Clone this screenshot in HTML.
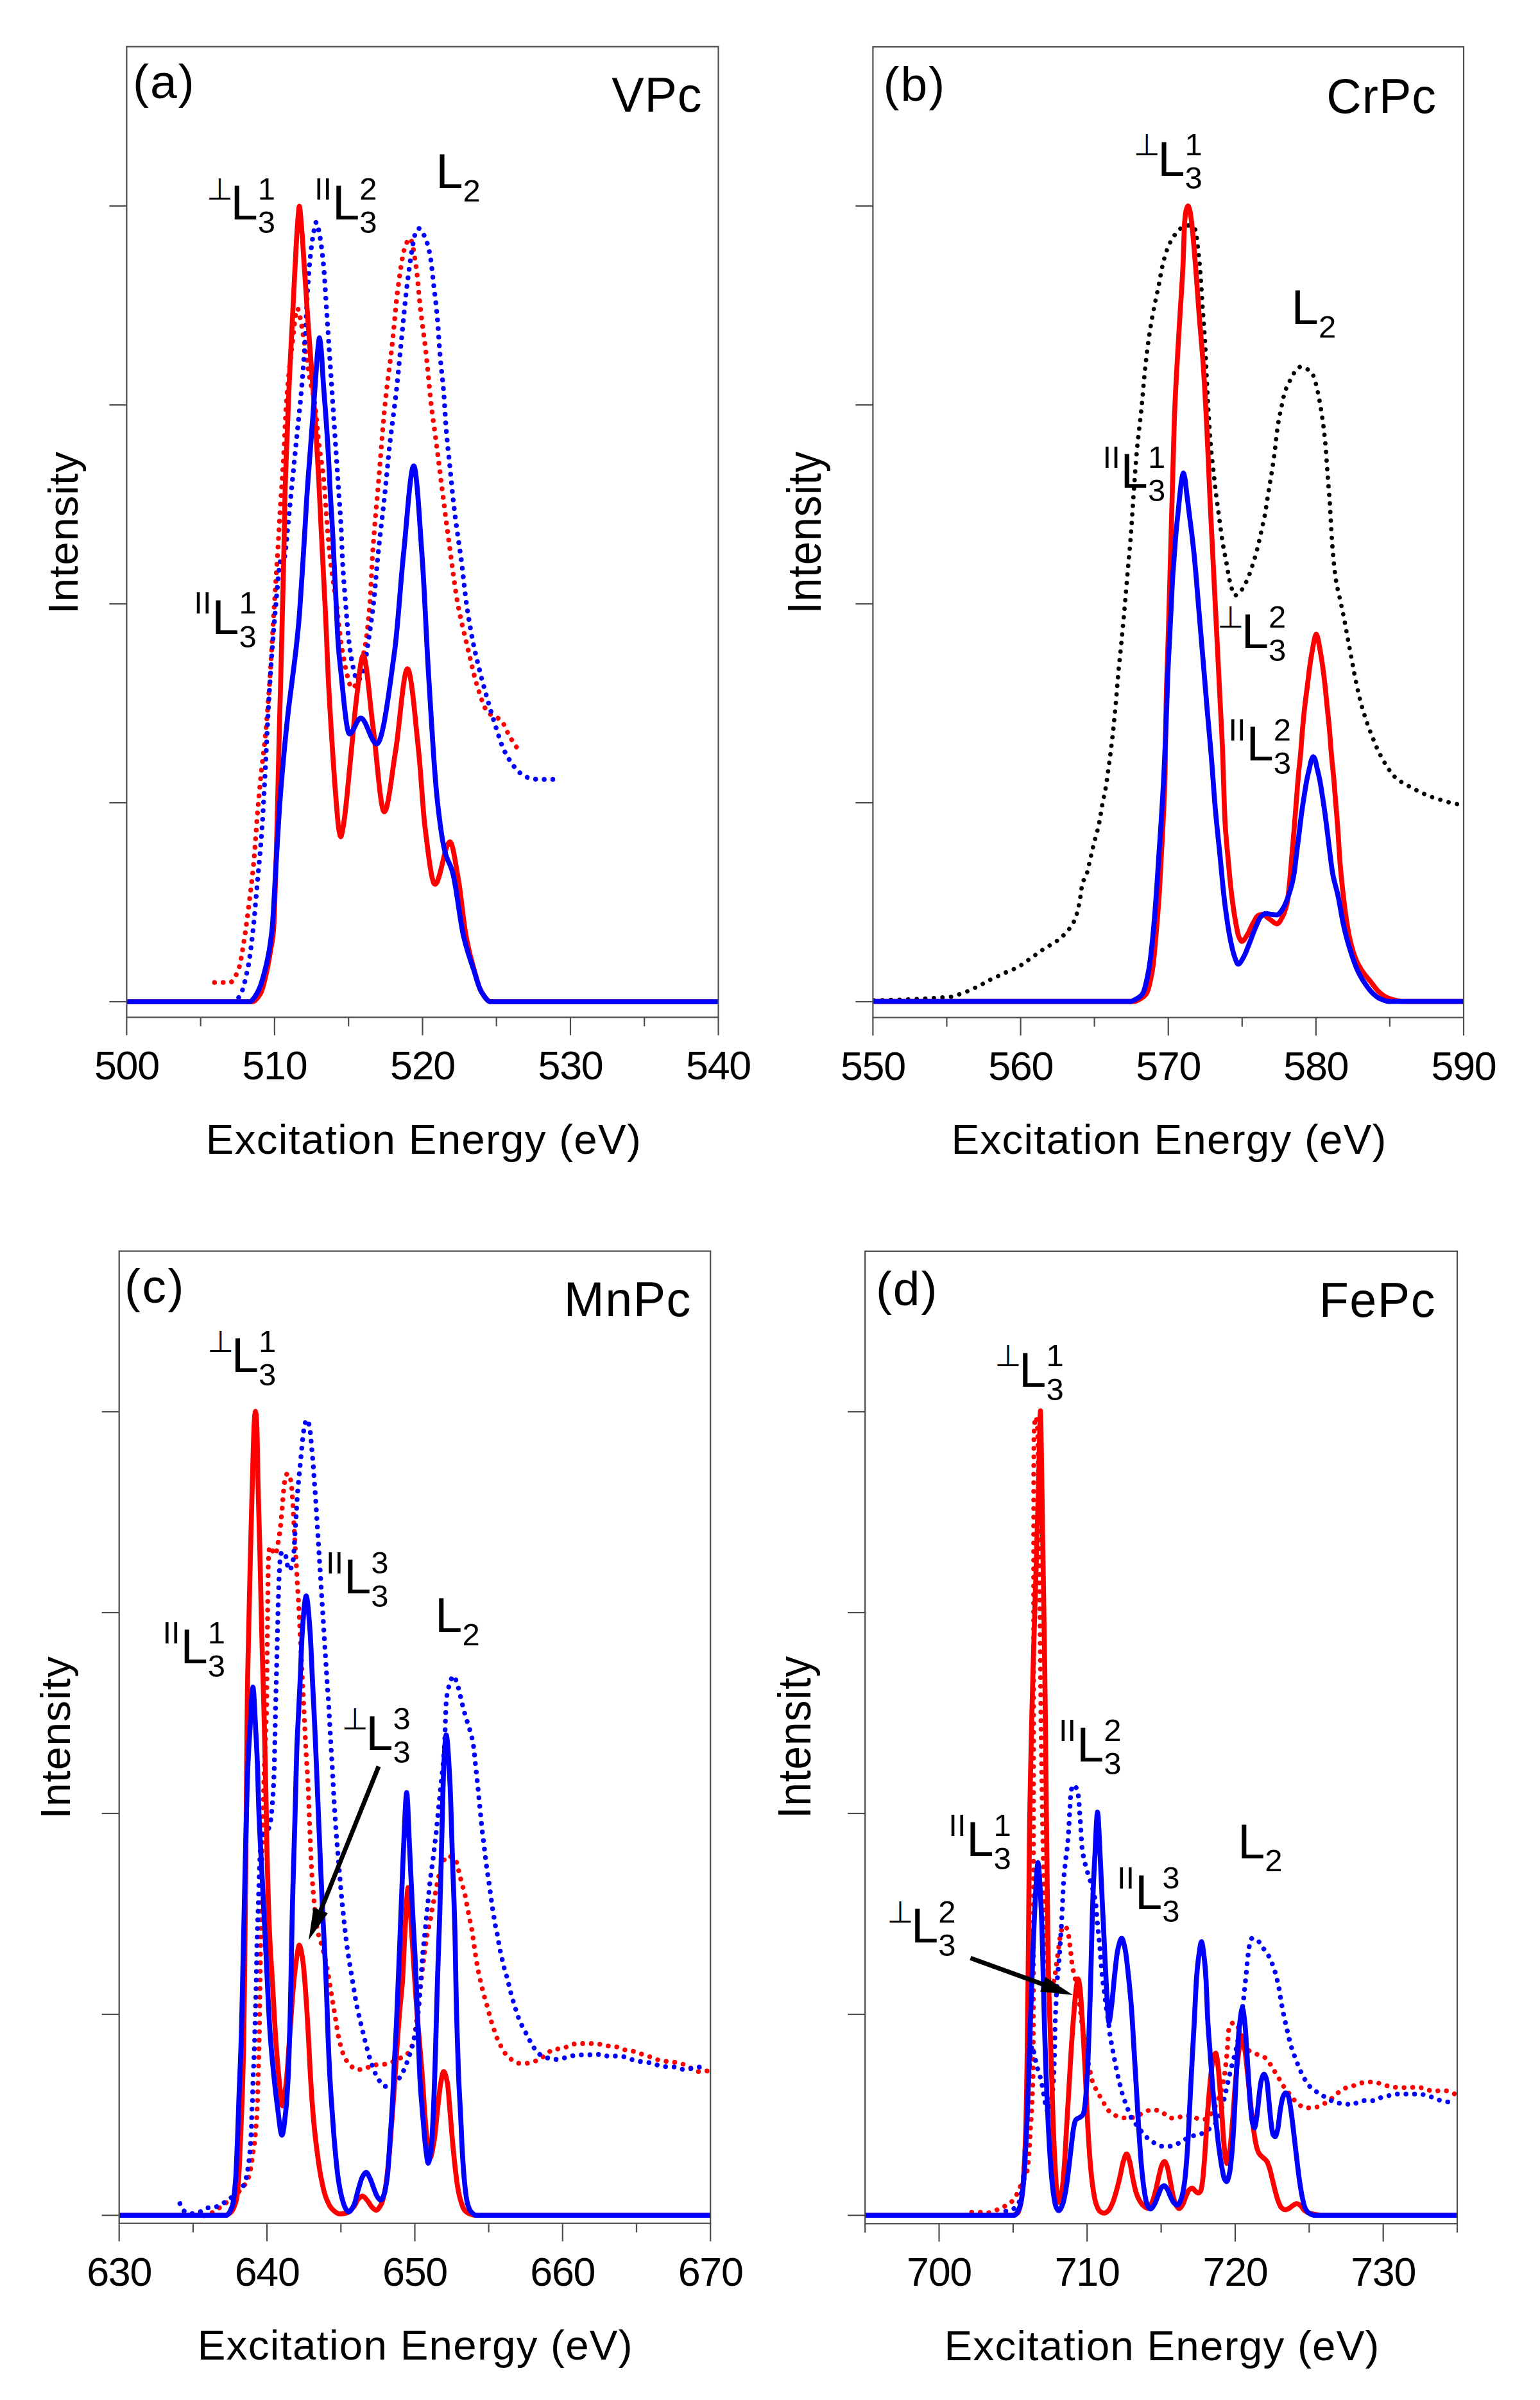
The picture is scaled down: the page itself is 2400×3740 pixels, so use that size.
<!DOCTYPE html>
<html><head><meta charset="utf-8"><title>XAS spectra</title>
<style>html,body{margin:0;padding:0;background:#fff}svg{display:block}text{fill:#000}</style>
</head><body>
<svg width="2400" height="3740" viewBox="0 0 2400 3740">
<rect width="2400" height="3740" fill="#fff"/>
<g id="panel-a">
<clipPath id="clip-a"><rect x="197.4" y="72.7" width="922.1" height="1512.6"/></clipPath>
<g clip-path="url(#clip-a)">
<path d="M334.3 1531.0 L335.3 1531.0 L336.3 1531.0 L337.3 1531.0 L338.3 1531.0 L339.3 1531.0 L340.3 1531.0 L341.3 1531.0 L342.3 1531.0 L343.3 1531.0 L344.3 1531.0 L345.3 1531.0 L346.3 1531.0 L347.3 1531.0 L348.3 1531.0 L349.3 1531.0 L350.3 1531.0 L351.3 1531.0 L352.3 1531.0 L353.3 1531.0 L354.3 1531.0 L355.3 1531.0 L356.3 1531.0 L357.3 1531.0 L358.3 1531.0 L358.4 1531.0 L359.3 1530.9 L360.3 1530.4 L361.3 1529.7 L362.3 1528.8 L363.3 1527.5 L364.3 1526.1 L365.3 1524.5 L366.3 1522.6 L367.3 1520.7 L368.3 1518.5 L369.3 1516.3 L370.3 1513.9 L371.3 1511.5 L372.0 1509.7 L372.3 1508.9 L373.3 1505.5 L374.3 1501.3 L375.3 1496.3 L376.3 1490.8 L377.3 1484.8 L378.3 1478.7 L379.3 1472.5 L379.9 1468.8 L380.3 1466.3 L381.3 1459.8 L382.3 1453.0 L383.3 1445.7 L384.3 1438.2 L385.3 1430.5 L386.3 1422.6 L387.3 1414.7 L387.6 1412.3 L388.3 1406.7 L389.3 1398.7 L390.3 1390.7 L391.3 1382.4 L392.3 1373.8 L393.3 1364.8 L394.3 1355.3 L395.3 1345.1 L395.4 1344.1 L396.3 1333.9 L397.3 1321.3 L398.3 1307.8 L399.3 1293.8 L400.3 1280.1 L401.3 1266.9 L402.0 1258.4 L402.3 1254.9 L403.3 1243.5 L404.3 1232.5 L405.3 1221.9 L406.3 1211.8 L407.1 1203.9 L407.3 1202.0 L408.3 1193.0 L409.3 1184.6 L410.3 1176.4 L411.3 1168.0 L412.3 1159.1 L413.0 1152.2 L413.3 1149.1 L414.3 1138.4 L415.3 1127.0 L416.3 1115.1 L417.3 1102.5 L418.3 1089.5 L419.3 1076.0 L420.3 1062.0 L420.8 1054.8 L421.3 1047.4 L422.3 1031.4 L423.3 1014.4 L424.3 996.9 L425.3 979.4 L426.3 962.3 L426.6 957.4 L427.3 946.1 L428.3 930.4 L429.3 914.8 L430.3 899.3 L431.3 883.6 L432.3 867.6 L432.5 864.3 L433.3 851.0 L434.3 833.8 L435.3 816.6 L436.3 799.5 L437.1 786.4 L437.3 783.2 L438.3 768.0 L439.3 753.4 L440.3 738.8 L441.3 723.4 L442.2 708.5 L442.3 706.7 L443.3 686.7 L444.3 664.6 L445.3 643.9 L446.1 630.6 L446.3 627.8 L447.3 614.6 L448.3 602.5 L449.3 591.5 L450.3 581.2 L451.3 571.7 L452.3 562.7 L453.3 554.1 L454.3 545.8 L455.0 540.0 L455.3 537.5 L456.3 528.6 L457.3 519.4 L458.3 510.2 L459.3 501.5 L460.3 493.7 L461.3 487.4 L462.3 482.9 L463.3 480.7 L463.6 480.6 L464.3 481.3 L465.3 484.4 L466.3 488.7 L467.3 493.4 L467.5 494.3 L468.3 497.9 L469.3 503.0 L470.3 508.5 L471.3 514.5 L472.3 520.7 L473.3 527.2 L474.3 533.8 L475.3 540.4 L476.3 546.9 L477.2 552.7 L477.3 553.3 L478.3 559.9 L479.3 566.7 L480.3 573.6 L481.3 580.4 L482.3 586.8 L483.1 591.6 L483.3 592.7 L484.3 597.9 L485.3 602.6 L486.3 607.0 L487.3 611.4 L488.3 615.9 L489.3 621.0 L490.3 626.7 L490.9 630.6 L491.3 633.5 L492.3 642.4 L493.3 652.9 L494.3 664.1 L495.3 675.2 L496.3 685.4 L496.7 689.0 L497.3 694.0 L498.3 701.6 L499.3 708.6 L500.3 715.3 L501.3 722.0 L502.3 729.0 L503.3 736.8 L504.3 745.6 L504.5 747.5 L505.3 756.1 L506.3 768.7 L507.3 782.7 L508.3 797.1 L509.3 811.3 L510.3 824.2 L510.4 825.4 L511.3 836.1 L512.3 847.6 L513.3 858.4 L514.3 868.0 L515.3 876.6 L516.3 884.5 L517.3 891.9 L518.3 898.8 L519.3 905.6 L520.3 912.2 L521.3 918.8 L522.3 925.6 L523.3 932.7 L524.0 937.9 L524.3 940.2 L525.3 948.4 L526.3 957.0 L527.3 965.9 L528.3 974.9 L529.3 983.8 L530.3 992.3 L531.3 1000.3 L532.3 1007.4 L533.3 1013.6 L533.7 1015.8 L534.3 1018.9 L535.3 1024.1 L536.3 1029.3 L537.3 1034.4 L538.3 1039.4 L539.3 1044.3 L540.3 1048.9 L541.3 1053.2 L542.3 1057.3 L543.3 1061.0 L544.3 1064.2 L545.3 1067.0 L546.3 1069.2 L547.3 1070.9 L548.3 1071.9 L549.3 1072.3 L550.3 1072.1 L551.3 1071.4 L552.3 1070.2 L553.3 1068.7 L554.3 1066.7 L555.3 1064.4 L556.3 1061.7 L557.3 1058.7 L558.3 1055.4 L559.3 1051.8 L560.3 1048.0 L561.3 1043.9 L562.3 1039.6 L563.3 1035.1 L564.3 1030.4 L565.3 1025.6 L566.3 1020.7 L567.3 1015.7 L568.3 1010.6 L568.8 1008.0 L569.3 1005.3 L570.3 999.1 L571.3 991.9 L572.3 983.7 L573.3 974.6 L574.3 964.5 L575.3 953.5 L576.3 941.6 L576.6 937.9 L577.3 927.4 L578.3 908.4 L579.3 887.7 L580.3 869.1 L580.5 866.0 L581.3 854.3 L582.3 840.5 L583.3 827.6 L584.3 815.3 L585.3 803.6 L586.3 792.2 L587.3 780.9 L588.3 769.7 L589.3 758.2 L590.2 747.5 L590.3 746.3 L591.3 734.0 L592.3 721.5 L593.3 709.0 L594.3 696.4 L595.3 683.9 L596.3 671.7 L597.3 659.9 L598.3 648.5 L599.3 637.7 L600.0 630.6 L600.3 627.7 L601.3 618.2 L602.3 609.3 L603.3 600.9 L604.3 592.7 L605.3 584.8 L606.3 576.9 L607.3 569.1 L608.3 561.2 L609.3 553.1 L610.3 544.7 L611.3 535.9 L611.6 533.2 L612.3 526.5 L613.3 516.4 L614.3 505.7 L615.3 494.9 L616.3 484.2 L617.3 474.0 L618.3 464.5 L619.3 456.1 L619.4 455.3 L620.3 448.4 L621.3 440.9 L622.3 433.4 L623.3 426.2 L624.3 419.2 L625.3 412.6 L626.3 406.4 L627.3 400.8 L628.3 395.7 L629.3 391.3 L630.3 387.6 L631.1 385.2 L631.3 384.7 L632.3 382.1 L633.3 379.6 L634.3 377.3 L635.3 375.2 L636.3 373.5 L637.3 372.3 L638.3 371.6 L638.9 371.5 L639.3 371.6 L640.3 372.9 L641.3 375.5 L642.3 379.1 L643.3 383.7 L644.3 389.0 L645.3 394.9 L646.3 401.2 L647.3 407.8 L648.3 414.3 L648.6 416.3 L649.3 421.5 L650.3 430.5 L651.3 441.0 L652.3 452.1 L653.3 463.0 L654.3 473.0 L654.5 474.8 L655.3 481.8 L656.3 490.1 L657.3 498.1 L658.3 505.8 L659.3 513.4 L660.3 521.0 L661.3 528.7 L662.3 536.6 L663.3 544.9 L664.2 552.7 L664.3 553.6 L665.3 563.0 L666.3 573.1 L667.3 583.5 L668.3 594.1 L669.3 604.6 L670.3 614.8 L671.3 624.4 L672.0 630.6 L672.3 633.1 L673.3 641.3 L674.3 648.9 L675.3 656.3 L676.3 663.5 L677.3 670.6 L678.3 677.8 L679.3 685.2 L679.8 689.0 L680.3 692.9 L681.3 700.7 L682.3 708.6 L683.3 716.6 L684.3 724.6 L685.3 732.6 L686.3 740.7 L687.3 748.7 L688.3 756.7 L689.3 764.6 L689.6 766.9 L690.3 772.4 L691.3 780.2 L692.3 788.0 L693.3 795.8 L694.3 803.6 L695.3 811.4 L696.3 819.1 L697.3 826.8 L698.3 834.4 L699.3 841.9 L700.3 849.4 L701.2 856.0 L701.3 856.7 L702.3 864.1 L703.3 871.6 L704.3 879.1 L705.3 886.6 L706.3 894.1 L707.3 901.4 L708.3 908.5 L709.3 915.5 L710.3 922.2 L711.3 928.5 L712.3 934.5 L712.9 937.9 L713.3 940.1 L714.3 945.4 L715.3 950.5 L716.3 955.5 L717.3 960.3 L718.3 964.9 L719.3 969.4 L720.3 973.8 L721.3 978.1 L722.3 982.3 L723.3 986.4 L724.3 990.6 L725.3 994.7 L726.3 998.8 L727.3 1003.0 L728.3 1007.2 L728.5 1008.0 L729.3 1011.4 L730.3 1015.7 L731.3 1020.0 L732.3 1024.3 L733.3 1028.6 L734.3 1032.9 L735.3 1037.2 L736.3 1041.4 L737.3 1045.5 L738.3 1049.6 L739.3 1053.5 L740.3 1057.3 L741.3 1060.9 L742.3 1064.4 L743.3 1067.8 L744.1 1070.3 L744.3 1070.9 L745.3 1074.0 L746.3 1077.1 L747.3 1080.2 L748.3 1083.3 L749.3 1086.3 L750.3 1089.2 L751.3 1092.1 L752.3 1094.8 L753.3 1097.4 L754.3 1099.8 L755.3 1102.1 L756.3 1104.1 L757.3 1106.0 L758.3 1107.5 L759.3 1108.9 L759.7 1109.3 L760.3 1109.9 L761.3 1110.8 L762.3 1111.7 L763.3 1112.5 L764.3 1113.1 L765.3 1113.8 L766.3 1114.3 L767.3 1114.9 L768.3 1115.4 L769.3 1115.8 L770.3 1116.3 L771.3 1116.7 L772.3 1117.2 L773.3 1117.7 L774.3 1118.2 L775.3 1118.7 L776.3 1119.3 L777.3 1119.9 L778.3 1120.6 L779.3 1121.4 L780.3 1122.2 L781.1 1123.0 L781.3 1123.2 L782.3 1124.4 L783.3 1125.8 L784.3 1127.4 L785.3 1129.2 L786.3 1131.2 L787.3 1133.2 L788.3 1135.4 L789.3 1137.5 L790.3 1139.7 L791.3 1141.8 L792.3 1143.9 L793.3 1145.8 L794.3 1147.6 L794.7 1148.3 L795.3 1149.3 L796.3 1150.9 L797.3 1152.6 L798.3 1154.2 L799.3 1155.7 L800.3 1157.3 L801.3 1158.8 L802.3 1160.4 L803.3 1161.9 L804.3 1163.3 L805.3 1164.8 L806.3 1166.2 L807.3 1167.6 L808.3 1168.9 L809.3 1170.3 L810.3 1171.6" fill="none" stroke="#ff0000" stroke-width="7.5" stroke-linecap="round" stroke-dasharray="0.01 13.4" stroke-linejoin="round"/>
<path d="M372.0 1554.5 L373.0 1553.6 L374.0 1552.2 L375.0 1550.3 L376.0 1548.0 L377.0 1545.4 L378.0 1542.4 L379.0 1539.1 L380.0 1535.5 L381.0 1531.7 L382.0 1527.7 L383.0 1523.5 L384.0 1519.1 L385.0 1514.7 L385.7 1511.6 L386.0 1510.2 L387.0 1505.0 L388.0 1499.1 L389.0 1492.5 L390.0 1485.2 L391.0 1477.6 L392.0 1469.5 L393.0 1461.2 L393.5 1457.0 L394.0 1452.6 L395.0 1443.2 L396.0 1433.0 L397.0 1422.2 L398.0 1411.0 L399.0 1399.6 L400.0 1388.1 L401.0 1376.7 L401.3 1373.3 L402.0 1365.6 L403.0 1354.7 L404.0 1343.9 L405.0 1332.9 L406.0 1321.3 L407.0 1309.0 L408.0 1295.7 L408.3 1291.5 L409.0 1280.9 L410.0 1264.1 L411.0 1245.8 L412.0 1226.9 L413.0 1208.0 L414.0 1188.6 L415.0 1168.1 L416.0 1147.3 L417.0 1126.9 L418.0 1107.7 L418.8 1093.7 L419.0 1090.4 L420.0 1074.2 L421.0 1058.4 L422.0 1043.2 L423.0 1028.5 L424.0 1014.3 L425.0 1000.8 L426.0 987.9 L427.0 975.6 L428.0 964.0 L428.6 957.4 L429.0 953.0 L430.0 941.5 L431.0 929.6 L432.0 917.7 L433.0 906.3 L434.0 895.8 L435.0 886.7 L436.0 879.4 L437.0 874.3 L438.0 871.8 L438.3 871.7 L439.0 871.7 L440.0 871.8 L441.0 871.9 L442.0 872.0 L442.2 872.0 L443.0 870.7 L444.0 866.0 L445.0 858.5 L446.0 849.0 L447.0 838.2 L448.0 826.9 L449.0 815.9 L450.0 805.9 L451.0 796.4 L452.0 786.5 L453.0 776.2 L454.0 765.9 L455.0 755.6 L455.8 747.5 L456.0 745.5 L457.0 735.5 L458.0 725.5 L459.0 715.5 L460.0 705.5 L461.0 695.5 L462.0 685.5 L463.0 675.6 L463.6 669.6 L464.0 665.7 L465.0 656.1 L466.0 646.6 L467.0 637.1 L468.0 627.2 L469.0 616.7 L469.5 611.1 L470.0 605.3 L471.0 593.4 L472.0 580.9 L473.0 567.6 L474.0 553.3 L475.0 538.0 L475.3 533.2 L476.0 520.5 L477.0 499.3 L478.0 477.6 L479.0 458.5 L479.2 455.3 L480.0 443.3 L481.0 429.4 L482.0 416.8 L483.0 405.6 L483.9 396.9 L484.0 396.0 L485.0 387.5 L486.0 379.7 L487.0 372.8 L488.0 366.7 L488.9 361.8 L489.0 361.3 L490.0 355.9 L491.0 350.8 L492.0 347.2 L492.8 346.2 L493.0 346.2 L494.0 347.7 L495.0 350.8 L496.0 355.2 L497.0 360.3 L498.0 365.8 L498.7 369.6 L499.0 371.2 L500.0 377.3 L501.0 384.4 L502.0 392.4 L503.0 401.3 L504.0 411.1 L504.5 416.3 L505.0 422.2 L506.0 436.4 L507.0 452.4 L508.0 468.6 L508.4 474.8 L509.0 483.8 L510.0 498.8 L511.0 513.7 L512.0 528.7 L512.3 533.2 L513.0 543.7 L514.0 558.7 L515.0 573.6 L516.0 588.6 L516.2 591.6 L517.0 603.6 L518.0 618.6 L519.0 633.6 L520.0 648.6 L520.1 650.1 L521.0 663.6 L522.0 678.6 L523.0 693.5 L524.0 708.5 L525.0 723.5 L526.0 738.5 L527.0 753.5 L527.9 767.0 L528.0 768.5 L529.0 782.6 L530.0 796.3 L531.0 811.3 L531.8 825.4 L532.0 829.6 L533.0 855.6 L533.7 872.0 L534.0 877.4 L535.0 893.7 L536.0 907.8 L537.0 920.6 L538.0 932.9 L538.4 937.9 L539.0 945.5 L540.0 958.1 L541.0 970.3 L542.0 981.7 L543.0 991.8 L543.5 996.3 L544.0 1000.5 L545.0 1008.5 L546.0 1016.0 L547.0 1022.7 L548.0 1028.7 L549.0 1033.9 L549.3 1035.3 L550.0 1038.5 L551.0 1043.0 L552.0 1047.4 L553.0 1051.5 L554.0 1055.1 L555.0 1057.9 L556.0 1059.8 L557.0 1060.6 L557.1 1060.6 L558.0 1060.4 L559.0 1059.7 L560.0 1058.6 L561.0 1057.1 L562.0 1055.2 L563.0 1053.1 L564.0 1050.7 L565.0 1048.1 L566.0 1045.3 L566.8 1043.0 L567.0 1042.4 L568.0 1038.3 L569.0 1032.8 L570.0 1026.5 L571.0 1019.6 L572.0 1012.7 L572.7 1008.0 L573.0 1006.1 L574.0 999.6 L575.0 993.1 L576.0 986.4 L577.0 979.6 L578.0 972.6 L579.0 965.3 L580.0 957.7 L581.0 949.8 L582.0 941.4 L582.4 937.9 L583.0 932.4 L584.0 922.1 L585.0 911.0 L586.0 899.4 L587.0 887.7 L588.0 876.5 L589.0 866.0 L590.0 856.3 L591.0 846.9 L592.0 837.8 L593.0 828.9 L594.0 820.2 L595.0 811.6 L596.0 802.9 L597.0 794.2 L598.0 785.4 L599.0 776.3 L600.0 767.0 L601.0 757.3 L602.0 747.1 L603.0 736.8 L604.0 726.4 L605.0 716.1 L606.0 706.0 L607.0 696.4 L607.8 689.0 L608.0 687.2 L609.0 678.6 L610.0 670.5 L611.0 662.6 L612.0 655.0 L613.0 647.4 L614.0 639.8 L615.0 632.0 L616.0 623.9 L617.0 615.5 L617.5 611.1 L618.0 606.6 L619.0 597.1 L620.0 587.3 L621.0 577.3 L622.0 567.0 L623.0 556.7 L624.0 546.4 L625.0 536.2 L625.3 533.2 L626.0 526.1 L627.0 515.8 L628.0 505.4 L629.0 494.9 L630.0 484.7 L631.0 474.7 L632.0 465.1 L633.0 456.2 L633.1 455.3 L634.0 447.7 L635.0 439.5 L636.0 431.5 L637.0 423.8 L638.0 416.4 L639.0 409.4 L640.0 402.6 L640.9 396.9 L641.0 396.3 L642.0 389.9 L643.0 383.5 L644.0 377.5 L645.0 372.1 L646.0 367.9 L646.7 365.7 L647.0 364.9 L648.0 362.5 L649.0 360.3 L650.0 358.4 L651.0 357.0 L652.0 356.1 L652.6 356.0 L653.0 356.0 L654.0 356.4 L655.0 357.2 L656.0 358.3 L657.0 359.6 L658.0 361.2 L659.0 363.0 L660.0 364.9 L661.0 367.0 L662.0 369.0 L662.3 369.6 L663.0 371.1 L664.0 373.6 L665.0 376.5 L666.0 379.7 L667.0 383.3 L668.0 387.3 L669.0 391.7 L670.0 396.4 L670.1 396.9 L671.0 402.1 L672.0 409.3 L673.0 417.6 L674.0 426.5 L675.0 435.6 L675.9 443.6 L676.0 444.5 L677.0 453.0 L678.0 461.5 L679.0 470.2 L680.0 479.4 L681.0 489.4 L681.8 498.1 L682.0 500.4 L683.0 513.9 L684.0 528.9 L685.0 543.6 L685.7 552.7 L686.0 556.2 L687.0 566.7 L688.0 576.2 L689.0 585.3 L690.0 594.7 L691.0 605.2 L691.5 611.1 L692.0 617.7 L693.0 633.0 L694.0 649.3 L695.0 664.4 L695.4 669.6 L696.0 676.7 L697.0 687.5 L698.0 697.5 L699.0 707.0 L700.0 716.4 L701.0 726.0 L701.2 728.0 L702.0 736.1 L703.0 746.4 L704.0 756.7 L705.0 766.8 L706.0 776.5 L707.0 785.5 L707.1 786.4 L708.0 793.9 L709.0 801.9 L710.0 809.6 L711.0 817.0 L712.0 824.2 L713.0 831.4 L714.0 838.5 L714.9 844.9 L715.0 845.6 L716.0 852.5 L717.0 859.3 L718.0 866.2 L718.8 872.0 L719.0 873.5 L720.0 881.6 L721.0 890.2 L722.0 899.1 L723.0 908.1 L724.0 917.0 L725.0 925.5 L726.0 933.5 L726.6 937.9 L727.0 940.7 L728.0 947.6 L729.0 954.2 L730.0 960.6 L731.0 966.8 L732.0 972.8 L733.0 978.6 L734.0 984.2 L735.0 989.6 L736.0 994.8 L736.3 996.3 L737.0 999.8 L738.0 1004.7 L739.0 1009.3 L740.0 1013.9 L741.0 1018.3 L742.0 1022.6 L743.0 1026.8 L744.0 1031.0 L745.0 1035.0 L746.0 1039.0 L747.0 1043.0 L748.0 1047.0 L749.0 1050.9 L750.0 1054.8 L751.0 1058.6 L752.0 1062.3 L753.0 1066.0 L754.0 1069.6 L755.0 1073.2 L756.0 1076.8 L757.0 1080.3 L758.0 1083.9 L759.0 1087.4 L759.7 1089.8 L760.0 1090.8 L761.0 1094.3 L762.0 1097.8 L763.0 1101.2 L764.0 1104.6 L765.0 1108.0 L766.0 1111.4 L767.0 1114.7 L768.0 1118.0 L769.0 1121.2 L770.0 1124.4 L771.0 1127.6 L771.4 1128.8 L772.0 1130.7 L773.0 1133.8 L774.0 1136.9 L775.0 1140.1 L776.0 1143.2 L777.0 1146.3 L778.0 1149.3 L779.0 1152.3 L780.0 1155.2 L781.0 1158.0 L782.0 1160.6 L783.0 1163.2 L784.0 1165.6 L785.0 1167.8 L786.0 1169.9 L787.0 1171.9 L788.0 1173.9 L789.0 1175.8 L790.0 1177.6 L791.0 1179.4 L792.0 1181.1 L793.0 1182.7 L794.0 1184.3 L795.0 1185.9 L796.0 1187.4 L797.0 1188.8 L798.0 1190.3 L798.6 1191.1 L799.0 1191.7 L800.0 1193.0 L801.0 1194.4 L802.0 1195.7 L803.0 1197.0 L804.0 1198.2 L805.0 1199.4 L806.0 1200.5 L807.0 1201.5 L808.0 1202.5 L808.4 1202.8 L809.0 1203.3 L810.0 1204.1 L811.0 1204.9 L812.0 1205.7 L813.0 1206.5 L814.0 1207.2 L815.0 1207.9 L816.0 1208.6 L817.0 1209.2 L818.0 1209.7 L819.0 1210.3 L820.0 1210.7 L821.0 1211.1 L822.0 1211.4 L823.0 1211.7 L824.0 1211.9 L825.0 1212.2 L826.0 1212.5 L827.0 1212.7 L828.0 1212.9 L829.0 1213.2 L830.0 1213.4 L831.0 1213.6 L832.0 1213.8 L833.0 1213.9 L834.0 1214.1 L835.0 1214.2 L836.0 1214.3 L837.0 1214.4 L838.0 1214.4 L839.0 1214.5 L840.0 1214.5 L841.0 1214.5 L842.0 1214.5 L843.0 1214.5 L844.0 1214.5 L845.0 1214.5 L846.0 1214.5 L847.0 1214.5 L848.0 1214.5 L849.0 1214.5 L850.0 1214.5 L851.0 1214.5 L852.0 1214.5 L853.0 1214.5 L854.0 1214.5 L855.0 1214.5 L856.0 1214.5 L857.0 1214.5 L858.0 1214.5 L859.0 1214.5 L860.0 1214.5 L861.0 1214.5 L862.0 1214.5 L863.0 1214.5 L864.0 1214.5 L865.0 1214.5 L866.0 1214.5 L867.0 1214.5 L868.0 1214.5 L869.0 1214.5 L870.0 1214.5 L871.0 1214.5 L872.0 1214.5 L873.0 1214.5 L874.0 1214.5 L874.6 1214.5" fill="none" stroke="#0000ff" stroke-width="7.5" stroke-linecap="round" stroke-dasharray="0.01 13.4" stroke-linejoin="round"/>
<path d="M197.4 1561.0 L393.0 1561.0 L394.0 1560.9 L395.0 1560.6 L396.0 1560.1 L397.0 1559.4 L398.0 1558.6 L399.0 1557.6 L400.0 1556.5 L401.0 1555.3 L402.0 1554.0 L403.0 1552.6 L404.0 1551.1 L405.0 1549.6 L406.0 1548.0 L407.0 1546.1 L408.0 1543.6 L409.0 1540.7 L410.0 1537.3 L411.0 1533.6 L412.0 1529.6 L413.0 1525.5 L414.0 1521.3 L415.0 1517.0 L416.0 1512.5 L417.0 1507.6 L418.0 1502.3 L419.0 1496.8 L420.0 1491.0 L421.0 1485.0 L421.5 1482.0 L422.0 1479.1 L423.0 1473.7 L424.0 1468.0 L425.0 1461.2 L426.0 1452.1 L426.2 1450.0 L427.0 1437.2 L428.0 1412.4 L429.0 1381.9 L430.0 1350.0 L431.0 1316.0 L432.0 1277.9 L432.7 1250.0 L433.0 1237.6 L434.0 1193.2 L435.0 1150.0 L436.0 1112.1 L437.0 1076.1 L437.7 1050.0 L438.0 1038.4 L439.0 998.6 L440.0 958.1 L440.2 950.0 L441.0 918.1 L442.0 877.4 L442.4 860.0 L443.0 830.0 L444.0 778.6 L444.3 766.5 L445.0 743.5 L446.0 716.3 L447.0 691.7 L447.5 679.0 L448.0 665.9 L449.0 639.9 L450.0 614.9 L451.0 591.5 L452.0 570.2 L453.0 550.4 L454.0 531.2 L455.0 512.0 L455.4 504.1 L456.0 492.1 L457.0 471.8 L458.0 451.6 L459.0 431.8 L459.8 416.6 L460.0 412.9 L461.0 393.8 L462.0 375.3 L463.0 358.9 L463.5 352.0 L464.0 345.3 L465.0 332.0 L466.0 322.9 L466.5 321.5 L467.0 322.7 L468.0 330.5 L469.0 342.4 L469.8 352.0 L470.0 354.3 L471.0 367.1 L472.0 381.6 L473.0 396.9 L474.0 412.2 L474.3 416.6 L475.0 426.9 L476.0 441.8 L477.0 456.9 L478.0 471.9 L479.0 486.8 L480.0 501.3 L480.2 504.1 L481.0 515.3 L482.0 528.9 L483.0 542.4 L484.0 555.7 L484.5 562.4 L485.0 569.0 L486.0 582.0 L487.0 595.0 L488.0 608.2 L488.9 620.7 L489.0 622.1 L490.0 636.8 L491.0 652.1 L492.0 667.8 L492.7 679.0 L493.0 683.8 L494.0 699.8 L495.0 716.3 L496.0 733.7 L496.2 737.3 L497.0 752.6 L498.0 773.0 L499.0 793.6 L499.1 795.6 L500.0 813.8 L501.0 833.9 L502.0 853.9 L503.0 873.4 L504.0 892.7 L505.0 912.2 L506.0 931.9 L507.0 951.8 L507.9 970.6 L508.0 972.8 L509.0 996.1 L510.0 1020.7 L511.0 1044.2 L511.5 1054.8 L512.0 1064.7 L513.0 1083.5 L514.0 1101.2 L515.0 1118.0 L516.0 1134.2 L517.0 1150.0 L518.0 1165.6 L519.0 1180.9 L520.0 1195.8 L521.0 1210.2 L522.0 1224.0 L523.0 1237.2 L524.0 1249.6 L525.0 1261.9 L526.0 1274.0 L527.0 1284.4 L528.0 1292.0 L529.0 1297.6 L530.0 1302.2 L531.0 1304.0 L532.0 1302.3 L533.0 1298.0 L534.0 1292.7 L534.5 1290.0 L535.0 1287.3 L536.0 1281.0 L537.0 1273.8 L538.0 1265.7 L539.0 1256.9 L540.0 1247.5 L541.0 1237.6 L542.0 1227.4 L543.0 1217.0 L544.0 1206.5 L545.0 1196.0 L546.0 1185.6 L547.0 1175.5 L547.4 1171.6 L548.0 1165.6 L549.0 1155.1 L550.0 1144.3 L551.0 1133.3 L552.0 1122.5 L553.0 1112.1 L554.0 1102.4 L555.0 1093.7 L556.0 1085.3 L557.0 1076.6 L558.0 1067.7 L559.0 1058.9 L560.0 1050.5 L561.0 1042.8 L562.0 1035.8 L563.0 1030.0 L564.0 1025.6 L565.0 1022.7 L566.0 1021.7 L567.0 1022.6 L568.0 1025.2 L569.0 1029.3 L570.0 1034.8 L571.0 1041.4 L572.0 1048.9 L573.0 1057.3 L574.0 1066.2 L575.0 1075.6 L576.0 1085.2 L577.0 1094.9 L578.0 1104.4 L579.0 1113.6 L580.0 1122.4 L581.0 1130.4 L581.3 1132.7 L582.0 1138.1 L583.0 1146.5 L584.0 1155.5 L585.0 1165.0 L586.0 1174.8 L587.0 1184.8 L588.0 1194.9 L589.0 1204.9 L590.0 1214.6 L591.0 1223.8 L592.0 1232.6 L593.0 1240.5 L594.0 1247.7 L595.0 1253.8 L596.0 1258.7 L597.0 1262.3 L598.0 1264.5 L598.8 1265.0 L599.0 1265.0 L600.0 1264.2 L601.0 1262.4 L602.0 1259.6 L603.0 1256.1 L604.0 1251.7 L605.0 1246.7 L606.0 1241.1 L607.0 1235.0 L608.0 1228.5 L609.0 1221.7 L610.0 1214.7 L611.0 1207.6 L612.0 1200.5 L613.0 1193.4 L614.0 1186.5 L615.0 1179.8 L616.0 1173.4 L616.3 1171.6 L617.0 1167.2 L618.0 1160.1 L619.0 1152.4 L620.0 1144.1 L621.0 1135.4 L622.0 1126.3 L623.0 1117.1 L624.0 1107.9 L625.0 1098.7 L626.0 1089.8 L627.0 1081.3 L628.0 1073.2 L629.0 1065.8 L630.0 1059.2 L631.0 1053.5 L632.0 1048.8 L633.0 1045.3 L634.0 1043.1 L635.0 1042.3 L636.0 1043.0 L637.0 1045.1 L638.0 1048.4 L639.0 1052.9 L640.0 1058.4 L641.0 1064.9 L642.0 1072.1 L643.0 1080.1 L644.0 1088.7 L645.0 1097.9 L646.0 1107.4 L647.0 1117.2 L648.0 1127.2 L649.0 1137.3 L650.0 1147.3 L651.0 1157.2 L652.0 1166.9 L652.5 1171.6 L653.0 1176.5 L654.0 1187.5 L655.0 1199.7 L656.0 1212.8 L657.0 1226.3 L658.0 1239.8 L659.0 1253.0 L660.0 1265.3 L661.0 1276.5 L662.0 1286.0 L662.3 1288.5 L663.0 1294.1 L664.0 1302.2 L665.0 1310.3 L666.0 1318.4 L667.0 1326.2 L668.0 1333.9 L669.0 1341.2 L670.0 1348.1 L671.0 1354.5 L672.0 1360.3 L673.0 1365.5 L674.0 1369.8 L675.0 1373.4 L676.0 1376.0 L677.0 1377.5 L677.9 1378.0 L678.0 1378.0 L679.0 1377.6 L680.0 1376.5 L681.0 1374.8 L682.0 1372.6 L683.0 1369.9 L684.0 1366.8 L685.0 1363.3 L686.0 1359.6 L687.0 1355.6 L688.0 1351.5 L689.0 1347.3 L690.0 1343.0 L691.0 1338.8 L692.0 1334.7 L693.0 1330.7 L694.0 1326.9 L695.0 1323.5 L696.0 1320.3 L697.0 1317.6 L698.0 1315.3 L699.0 1313.6 L700.0 1312.4 L701.0 1311.9 L701.2 1311.9 L702.0 1312.3 L703.0 1313.8 L704.0 1316.2 L705.0 1319.6 L706.0 1323.7 L707.0 1328.4 L708.0 1333.6 L709.0 1339.1 L710.0 1344.9 L711.0 1350.8 L712.0 1356.7 L713.0 1362.5 L713.7 1366.4 L714.0 1368.1 L715.0 1374.2 L716.0 1380.9 L717.0 1388.3 L718.0 1396.0 L719.0 1404.1 L720.0 1412.3 L721.0 1420.5 L722.0 1428.5 L723.0 1436.3 L724.0 1443.7 L725.0 1450.5 L726.0 1456.7 L726.6 1460.0 L727.0 1462.1 L728.0 1467.1 L729.0 1471.9 L730.0 1476.6 L731.0 1481.0 L732.0 1485.2 L733.0 1489.3 L734.0 1493.3 L735.0 1497.1 L736.0 1500.9 L737.0 1504.5 L738.0 1508.0 L739.0 1511.5 L740.0 1515.0 L741.0 1518.5 L742.0 1522.0 L743.0 1525.5 L744.0 1529.0 L745.0 1532.3 L746.0 1535.4 L747.0 1538.3 L748.0 1540.9 L749.0 1543.2 L750.0 1545.0 L751.0 1546.6 L752.0 1548.2 L753.0 1549.8 L754.0 1551.3 L755.0 1552.8 L756.0 1554.1 L757.0 1555.4 L758.0 1556.6 L759.0 1557.7 L760.0 1558.7 L761.0 1559.5 L762.0 1560.1 L763.0 1560.6 L764.0 1560.9 L765.0 1561.0 L1119.5 1561.0" fill="none" stroke="#ff0000" stroke-width="7.7" stroke-linejoin="round"/>
<path d="M197.4 1561.0 L389.6 1561.0 L390.6 1560.5 L391.6 1559.9 L392.6 1559.0 L393.6 1558.0 L394.6 1556.8 L395.6 1555.5 L396.6 1554.1 L397.6 1552.6 L398.6 1551.0 L399.6 1549.3 L400.6 1547.5 L401.6 1545.7 L402.0 1545.0 L402.6 1543.9 L403.6 1541.7 L404.6 1539.4 L405.6 1536.8 L406.6 1534.0 L407.6 1530.9 L408.6 1527.7 L409.6 1524.3 L410.6 1520.7 L411.6 1517.0 L412.6 1513.2 L413.0 1511.6 L413.6 1509.2 L414.6 1505.1 L415.6 1500.8 L416.6 1496.3 L417.6 1491.5 L418.6 1486.3 L419.6 1480.6 L420.6 1474.3 L421.6 1467.5 L422.6 1460.0 L423.6 1451.7 L423.8 1450.0 L424.6 1441.5 L425.6 1427.6 L426.6 1411.0 L427.6 1392.9 L428.6 1374.4 L429.6 1356.6 L430.0 1350.0 L430.6 1340.2 L431.6 1323.5 L432.6 1306.5 L433.6 1289.8 L434.6 1273.7 L435.6 1258.5 L436.2 1250.0 L436.6 1244.6 L437.6 1231.5 L438.6 1219.2 L439.6 1207.3 L440.6 1195.9 L441.6 1184.8 L442.5 1175.0 L442.6 1173.9 L443.6 1163.2 L444.6 1152.8 L445.6 1142.7 L446.6 1132.9 L447.6 1123.4 L448.6 1114.3 L448.8 1112.5 L449.6 1105.5 L450.6 1097.2 L451.6 1089.2 L452.6 1081.4 L453.6 1073.6 L454.6 1065.7 L455.0 1062.5 L455.6 1057.7 L456.6 1049.9 L457.6 1042.1 L458.6 1034.3 L459.6 1026.2 L460.6 1017.8 L461.2 1012.5 L461.6 1008.9 L462.6 999.8 L463.6 990.3 L464.6 980.3 L465.6 969.5 L466.2 962.5 L466.6 957.5 L467.6 943.6 L468.6 928.6 L469.5 915.0 L469.6 913.5 L470.6 898.4 L471.6 883.0 L472.3 872.0 L472.6 867.2 L473.6 851.1 L474.6 834.7 L475.2 824.8 L475.6 818.1 L476.6 801.0 L477.6 783.9 L478.6 768.0 L478.7 766.5 L479.6 753.7 L480.6 740.4 L481.6 727.5 L482.6 714.7 L483.1 708.2 L483.6 701.6 L484.6 688.4 L485.6 675.2 L486.6 661.9 L487.5 649.9 L487.6 648.6 L488.6 635.1 L489.6 621.5 L490.6 607.8 L491.6 594.2 L491.8 591.5 L492.6 580.1 L493.6 565.3 L494.6 552.3 L495.0 548.0 L495.6 541.8 L496.6 532.1 L497.6 526.7 L497.8 526.5 L498.6 528.7 L499.6 536.1 L500.6 546.0 L500.8 548.0 L501.6 558.7 L502.6 576.4 L503.5 591.5 L503.6 593.0 L504.6 606.8 L505.6 619.7 L506.6 632.4 L507.6 645.7 L507.9 649.9 L508.6 659.9 L509.6 674.5 L510.6 689.9 L511.6 706.5 L511.7 708.2 L512.6 725.5 L513.6 746.6 L514.6 766.5 L515.6 783.7 L516.6 799.6 L517.6 816.0 L518.1 824.8 L518.6 834.2 L519.6 854.3 L520.6 875.0 L521.0 883.1 L521.6 895.2 L522.6 915.3 L523.6 935.4 L523.9 941.4 L524.6 956.2 L525.6 978.0 L526.6 996.7 L526.8 999.7 L527.6 1010.3 L528.6 1021.7 L529.6 1031.7 L530.5 1040.0 L530.6 1040.9 L531.6 1050.3 L532.6 1060.1 L533.6 1070.0 L534.6 1080.0 L535.6 1089.8 L536.6 1099.3 L537.6 1108.3 L538.6 1116.7 L539.6 1124.2 L540.6 1130.7 L541.6 1136.1 L542.6 1140.2 L543.6 1142.7 L544.6 1143.6 L545.6 1143.4 L546.6 1142.7 L547.6 1141.7 L548.6 1140.4 L549.6 1138.8 L550.6 1137.0 L551.6 1135.0 L552.6 1133.0 L553.6 1130.9 L554.6 1128.8 L555.6 1126.8 L556.6 1124.9 L557.6 1123.2 L558.6 1121.7 L559.6 1120.5 L560.6 1119.6 L561.6 1119.1 L562.2 1119.0 L562.6 1119.0 L563.6 1119.4 L564.6 1120.0 L565.6 1121.0 L566.6 1122.3 L567.6 1123.9 L568.6 1125.6 L569.6 1127.5 L570.6 1129.6 L571.6 1131.9 L572.6 1134.2 L573.6 1136.6 L574.6 1139.0 L575.6 1141.4 L576.6 1143.8 L577.6 1146.1 L578.6 1148.3 L579.6 1150.5 L580.6 1152.4 L581.6 1154.2 L582.6 1155.7 L583.6 1157.0 L584.6 1158.1 L585.6 1158.8 L586.6 1159.2 L587.1 1159.2 L587.6 1159.1 L588.6 1158.5 L589.6 1157.4 L590.6 1155.7 L591.6 1153.5 L592.6 1150.9 L593.6 1147.7 L594.6 1144.1 L595.6 1140.1 L596.6 1135.7 L597.6 1131.0 L598.6 1125.9 L599.6 1120.5 L600.6 1114.7 L601.6 1108.8 L602.6 1102.5 L603.6 1096.1 L604.6 1089.4 L605.6 1082.6 L606.6 1075.6 L607.6 1068.5 L608.6 1061.3 L609.6 1054.0 L610.6 1046.7 L611.6 1039.3 L612.6 1031.9 L613.6 1024.6 L614.6 1017.3 L614.8 1015.8 L615.6 1009.6 L616.6 1001.0 L617.6 991.4 L618.6 981.1 L619.6 970.1 L620.6 958.7 L621.6 946.9 L622.6 934.8 L623.6 922.7 L624.6 910.7 L625.6 898.9 L626.6 887.4 L627.6 876.3 L628.6 865.9 L629.2 860.0 L629.6 856.1 L630.6 845.8 L631.6 835.0 L632.6 823.7 L633.6 812.3 L634.6 800.8 L635.6 789.5 L636.6 778.5 L637.6 768.1 L638.6 758.4 L639.6 749.7 L640.6 742.0 L641.6 735.6 L642.6 730.7 L643.6 727.4 L644.6 726.0 L644.8 726.0 L645.6 726.9 L646.6 730.4 L647.6 736.2 L648.6 744.2 L649.6 753.9 L650.6 765.2 L651.6 777.8 L652.6 791.4 L653.6 805.6 L654.6 820.4 L655.6 835.2 L656.6 850.0 L657.6 864.4 L658.0 870.0 L658.6 878.7 L659.6 894.7 L660.6 912.2 L661.6 931.0 L662.6 950.6 L663.6 970.5 L664.6 990.5 L665.6 1010.1 L666.6 1028.9 L667.6 1046.5 L668.1 1054.8 L668.6 1062.9 L669.6 1079.1 L670.6 1095.4 L671.6 1111.7 L672.6 1127.8 L673.6 1143.6 L674.6 1159.1 L675.6 1174.1 L676.6 1188.4 L677.6 1202.1 L678.6 1215.0 L679.6 1227.0 L680.6 1237.9 L681.6 1247.8 L681.8 1249.6 L682.6 1256.7 L683.6 1265.2 L684.6 1273.5 L685.6 1281.3 L686.6 1288.7 L687.6 1295.8 L688.6 1302.3 L689.6 1308.5 L690.6 1314.1 L691.6 1319.2 L692.6 1323.8 L693.5 1327.5 L693.6 1327.9 L694.6 1331.4 L695.6 1334.5 L696.6 1337.2 L697.6 1339.6 L698.6 1341.9 L699.6 1344.1 L700.6 1346.3 L701.6 1348.5 L702.6 1351.0 L703.6 1353.8 L704.6 1356.9 L705.1 1358.6 L705.6 1360.5 L706.6 1364.7 L707.6 1369.5 L708.6 1374.7 L709.6 1380.4 L710.6 1386.5 L711.6 1392.8 L712.6 1399.3 L713.6 1405.9 L714.6 1412.7 L715.6 1419.3 L716.6 1425.9 L717.6 1432.4 L718.6 1438.6 L719.6 1444.5 L720.6 1450.0 L721.6 1455.1 L722.6 1459.6 L722.7 1460.0 L723.6 1463.7 L724.6 1467.6 L725.6 1471.4 L726.6 1475.0 L727.6 1478.5 L728.6 1481.9 L729.6 1485.1 L730.6 1488.3 L731.6 1491.4 L732.6 1494.5 L733.6 1497.5 L734.6 1500.5 L735.6 1503.5 L736.6 1506.5 L737.6 1509.5 L738.3 1511.6 L738.6 1512.5 L739.6 1515.7 L740.6 1518.9 L741.6 1522.1 L742.6 1525.4 L743.6 1528.6 L744.6 1531.7 L745.6 1534.7 L746.6 1537.4 L747.6 1540.0 L748.6 1542.3 L749.6 1544.3 L750.0 1545.0 L750.6 1546.0 L751.6 1547.7 L752.6 1549.3 L753.6 1550.9 L754.6 1552.4 L755.6 1553.8 L756.6 1555.1 L757.6 1556.4 L758.6 1557.5 L759.6 1558.5 L760.6 1559.4 L761.6 1560.1 L762.6 1560.6 L763.6 1561.0 L1119.5 1561.0" fill="none" stroke="#0000ff" stroke-width="7.7" stroke-linejoin="round"/>
</g>
<rect x="197.4" y="72.7" width="922.1" height="1512.6" fill="none" stroke="#4d4d4d" stroke-width="2.2"/>
<line x1="170.4" y1="321" x2="197.4" y2="321" stroke="#4d4d4d" stroke-width="2.2"/>
<line x1="170.4" y1="631" x2="197.4" y2="631" stroke="#4d4d4d" stroke-width="2.2"/>
<line x1="170.4" y1="941" x2="197.4" y2="941" stroke="#4d4d4d" stroke-width="2.2"/>
<line x1="170.4" y1="1251" x2="197.4" y2="1251" stroke="#4d4d4d" stroke-width="2.2"/>
<line x1="170.4" y1="1561" x2="197.4" y2="1561" stroke="#4d4d4d" stroke-width="2.2"/>
<line x1="197.4" y1="1585.3" x2="197.4" y2="1613.3" stroke="#4d4d4d" stroke-width="2.2"/>
<text x="197.4" y="1682.3" font-size="62.8" letter-spacing="-1.3" text-anchor="middle" font-family="Liberation Sans, Arial, Helvetica, sans-serif">500</text>
<line x1="312.7" y1="1585.3" x2="312.7" y2="1599.3" stroke="#4d4d4d" stroke-width="2.2"/>
<line x1="427.9" y1="1585.3" x2="427.9" y2="1613.3" stroke="#4d4d4d" stroke-width="2.2"/>
<text x="427.9" y="1682.3" font-size="62.8" letter-spacing="-1.3" text-anchor="middle" font-family="Liberation Sans, Arial, Helvetica, sans-serif">510</text>
<line x1="543.2" y1="1585.3" x2="543.2" y2="1599.3" stroke="#4d4d4d" stroke-width="2.2"/>
<line x1="658.5" y1="1585.3" x2="658.5" y2="1613.3" stroke="#4d4d4d" stroke-width="2.2"/>
<text x="658.5" y="1682.3" font-size="62.8" letter-spacing="-1.3" text-anchor="middle" font-family="Liberation Sans, Arial, Helvetica, sans-serif">520</text>
<line x1="773.7" y1="1585.3" x2="773.7" y2="1599.3" stroke="#4d4d4d" stroke-width="2.2"/>
<line x1="889.0" y1="1585.3" x2="889.0" y2="1613.3" stroke="#4d4d4d" stroke-width="2.2"/>
<text x="889.0" y="1682.3" font-size="62.8" letter-spacing="-1.3" text-anchor="middle" font-family="Liberation Sans, Arial, Helvetica, sans-serif">530</text>
<line x1="1004.2" y1="1585.3" x2="1004.2" y2="1599.3" stroke="#4d4d4d" stroke-width="2.2"/>
<line x1="1119.5" y1="1585.3" x2="1119.5" y2="1613.3" stroke="#4d4d4d" stroke-width="2.2"/>
<text x="1119.5" y="1682.3" font-size="62.8" letter-spacing="-1.3" text-anchor="middle" font-family="Liberation Sans, Arial, Helvetica, sans-serif">540</text>
<text x="660.4" y="1797.6" font-size="65.5" letter-spacing="1.25" text-anchor="middle" font-family="Liberation Sans, Arial, Helvetica, sans-serif">Excitation Energy (eV)</text>
<text transform="translate(121.2,829.8) rotate(-90) scale(1,1.0)" font-size="65.5" letter-spacing="1.15" text-anchor="middle" font-family="Liberation Sans, Arial, Helvetica, sans-serif">Intensity</text>
<text x="207.0" y="153.2" font-size="75" letter-spacing="2.0" font-family="Liberation Sans, Arial, Helvetica, sans-serif">(a)</text>
<text x="1094.6" y="173.7" font-size="75.5" letter-spacing="1.0" text-anchor="end" font-family="Liberation Sans, Arial, Helvetica, sans-serif">VPc</text>
<text x="359.5" y="342.0" font-size="76" font-family="Liberation Sans, Arial, Helvetica, sans-serif">L</text>
<text x="401.8" y="310.5" font-size="49" font-family="Liberation Sans, Arial, Helvetica, sans-serif">1</text>
<text x="401.8" y="362.7" font-size="49" font-family="Liberation Sans, Arial, Helvetica, sans-serif">3</text>
<text x="322.0" y="310.5" font-size="47" fill="#333" font-family="DejaVu Sans, sans-serif">&#8869;</text>
<text x="517.9" y="342.0" font-size="76" font-family="Liberation Sans, Arial, Helvetica, sans-serif">L</text>
<text x="560.2" y="310.5" font-size="49" font-family="Liberation Sans, Arial, Helvetica, sans-serif">2</text>
<text x="560.2" y="362.7" font-size="49" font-family="Liberation Sans, Arial, Helvetica, sans-serif">3</text>
<text x="489.9" y="310.5" font-size="49" font-family="Liberation Sans, Arial, Helvetica, sans-serif">II</text>
<text x="679.2" y="293.3" font-size="76" font-family="Liberation Sans, Arial, Helvetica, sans-serif">L</text>
<text x="721.5" y="314.0" font-size="49" font-family="Liberation Sans, Arial, Helvetica, sans-serif">2</text>
<text x="330.3" y="987.8" font-size="76" font-family="Liberation Sans, Arial, Helvetica, sans-serif">L</text>
<text x="372.6" y="956.3" font-size="49" font-family="Liberation Sans, Arial, Helvetica, sans-serif">1</text>
<text x="372.6" y="1008.5" font-size="49" font-family="Liberation Sans, Arial, Helvetica, sans-serif">3</text>
<text x="302.3" y="956.3" font-size="49" font-family="Liberation Sans, Arial, Helvetica, sans-serif">II</text>
</g>
<g id="panel-b">
<clipPath id="clip-b"><rect x="1360.4" y="73" width="920.5999999999999" height="1512.7"/></clipPath>
<g clip-path="url(#clip-b)">
<path d="M1361.7 1558.8 L1362.7 1558.8 L1363.7 1558.8 L1364.7 1558.8 L1365.7 1558.7 L1366.7 1558.7 L1367.7 1558.7 L1368.7 1558.7 L1369.7 1558.7 L1370.7 1558.7 L1371.7 1558.6 L1372.7 1558.6 L1373.7 1558.6 L1374.7 1558.6 L1375.7 1558.6 L1376.7 1558.5 L1377.7 1558.5 L1378.7 1558.5 L1379.7 1558.5 L1380.7 1558.4 L1381.7 1558.4 L1382.7 1558.4 L1383.7 1558.4 L1384.7 1558.3 L1385.7 1558.3 L1386.7 1558.3 L1387.7 1558.3 L1388.7 1558.2 L1389.7 1558.2 L1390.7 1558.2 L1391.7 1558.1 L1392.7 1558.1 L1393.7 1558.1 L1394.7 1558.0 L1395.7 1558.0 L1396.7 1558.0 L1397.7 1557.9 L1398.7 1557.9 L1399.7 1557.9 L1400.7 1557.8 L1401.7 1557.8 L1402.7 1557.8 L1403.7 1557.7 L1404.7 1557.7 L1405.7 1557.7 L1406.7 1557.6 L1407.7 1557.6 L1408.7 1557.6 L1409.7 1557.5 L1410.7 1557.5 L1411.7 1557.4 L1412.7 1557.4 L1413.7 1557.4 L1414.7 1557.3 L1415.7 1557.3 L1416.7 1557.3 L1417.7 1557.2 L1418.7 1557.2 L1419.7 1557.1 L1420.7 1557.1 L1421.7 1557.1 L1422.7 1557.0 L1423.7 1557.0 L1424.7 1556.9 L1425.7 1556.9 L1426.7 1556.8 L1427.7 1556.8 L1427.9 1556.8 L1428.7 1556.8 L1429.7 1556.7 L1430.7 1556.7 L1431.7 1556.6 L1432.7 1556.6 L1433.7 1556.5 L1434.7 1556.5 L1435.7 1556.4 L1436.7 1556.4 L1437.7 1556.3 L1438.7 1556.3 L1439.7 1556.2 L1440.7 1556.2 L1441.7 1556.1 L1442.7 1556.1 L1443.7 1556.0 L1444.7 1555.9 L1445.7 1555.9 L1446.7 1555.8 L1447.7 1555.8 L1448.7 1555.7 L1449.7 1555.6 L1450.7 1555.6 L1451.7 1555.5 L1452.7 1555.4 L1453.7 1555.4 L1454.7 1555.3 L1455.7 1555.3 L1456.7 1555.2 L1457.7 1555.1 L1458.7 1555.1 L1459.7 1555.0 L1460.7 1554.9 L1461.7 1554.9 L1462.7 1554.8 L1463.7 1554.7 L1464.7 1554.7 L1465.7 1554.6 L1466.7 1554.5 L1466.9 1554.5 L1467.7 1554.4 L1468.7 1554.4 L1469.7 1554.3 L1470.7 1554.3 L1471.7 1554.2 L1472.7 1554.1 L1473.7 1554.1 L1474.7 1554.0 L1475.7 1553.9 L1476.7 1553.9 L1477.7 1553.8 L1478.7 1553.7 L1479.7 1553.6 L1480.7 1553.5 L1481.7 1553.4 L1482.4 1553.3 L1482.7 1553.3 L1483.7 1553.1 L1484.7 1552.9 L1485.7 1552.6 L1486.7 1552.3 L1487.7 1552.0 L1488.7 1551.7 L1489.7 1551.3 L1490.7 1551.0 L1491.7 1550.6 L1492.7 1550.3 L1493.7 1549.9 L1494.1 1549.8 L1494.7 1549.6 L1495.7 1549.3 L1496.7 1548.9 L1497.7 1548.6 L1498.7 1548.2 L1499.7 1547.9 L1500.7 1547.5 L1501.7 1547.2 L1502.7 1546.8 L1503.7 1546.4 L1504.7 1546.0 L1505.7 1545.6 L1506.7 1545.2 L1507.7 1544.8 L1507.8 1544.8 L1508.7 1544.4 L1509.7 1544.0 L1510.7 1543.6 L1511.7 1543.1 L1512.7 1542.7 L1513.7 1542.2 L1514.7 1541.8 L1515.7 1541.3 L1516.7 1540.8 L1517.7 1540.3 L1518.7 1539.8 L1519.7 1539.3 L1520.6 1538.9 L1520.7 1538.9 L1521.7 1538.4 L1522.7 1537.8 L1523.7 1537.3 L1524.7 1536.8 L1525.7 1536.3 L1526.7 1535.7 L1527.7 1535.2 L1528.7 1534.7 L1529.7 1534.1 L1530.7 1533.6 L1531.7 1533.1 L1532.7 1532.5 L1533.1 1532.3 L1533.7 1532.0 L1534.7 1531.4 L1535.7 1530.9 L1536.7 1530.3 L1537.7 1529.8 L1538.7 1529.2 L1539.7 1528.6 L1540.7 1528.1 L1541.7 1527.5 L1542.7 1527.0 L1543.7 1526.5 L1544.7 1526.0 L1545.7 1525.4 L1546.0 1525.3 L1546.7 1525.0 L1547.7 1524.5 L1548.7 1524.0 L1549.7 1523.6 L1550.7 1523.1 L1551.7 1522.7 L1552.7 1522.3 L1553.7 1521.8 L1554.7 1521.4 L1555.7 1521.0 L1556.7 1520.5 L1557.7 1520.1 L1558.7 1519.6 L1559.2 1519.4 L1559.7 1519.2 L1560.7 1518.7 L1561.7 1518.2 L1562.7 1517.7 L1563.7 1517.2 L1564.7 1516.7 L1565.7 1516.2 L1566.7 1515.8 L1567.7 1515.3 L1568.7 1514.8 L1569.7 1514.3 L1570.7 1513.9 L1571.3 1513.6 L1571.7 1513.4 L1572.7 1513.0 L1573.7 1512.6 L1574.7 1512.2 L1575.7 1511.8 L1576.7 1511.4 L1577.7 1511.0 L1578.7 1510.7 L1579.7 1510.3 L1580.7 1509.9 L1581.7 1509.4 L1582.7 1509.0 L1583.7 1508.5 L1584.7 1508.0 L1585.7 1507.5 L1586.7 1506.9 L1587.7 1506.3 L1588.7 1505.7 L1589.7 1505.1 L1590.7 1504.5 L1591.7 1503.8 L1592.7 1503.2 L1593.7 1502.5 L1594.6 1501.9 L1594.7 1501.8 L1595.7 1501.2 L1596.7 1500.4 L1597.7 1499.7 L1598.7 1499.0 L1599.7 1498.2 L1600.7 1497.5 L1601.7 1496.7 L1602.7 1496.0 L1603.7 1495.2 L1604.7 1494.5 L1605.2 1494.1 L1605.7 1493.7 L1606.7 1493.0 L1607.7 1492.3 L1608.7 1491.6 L1609.7 1490.9 L1610.7 1490.1 L1611.7 1489.4 L1612.7 1488.7 L1613.7 1488.0 L1614.7 1487.3 L1615.7 1486.6 L1616.1 1486.3 L1616.7 1485.9 L1617.7 1485.2 L1618.7 1484.4 L1619.7 1483.7 L1620.7 1483.0 L1621.7 1482.3 L1622.7 1481.6 L1623.7 1480.9 L1624.7 1480.2 L1625.7 1479.5 L1626.7 1478.8 L1627.7 1478.2 L1627.8 1478.1 L1628.7 1477.5 L1629.7 1476.9 L1630.7 1476.3 L1631.7 1475.7 L1632.7 1475.1 L1633.7 1474.6 L1634.7 1474.0 L1635.7 1473.4 L1636.7 1472.8 L1637.7 1472.2 L1638.7 1471.6 L1639.7 1471.0 L1640.2 1470.7 L1640.7 1470.4 L1641.7 1469.8 L1642.7 1469.1 L1643.7 1468.5 L1644.7 1467.9 L1645.7 1467.2 L1646.7 1466.6 L1647.7 1465.9 L1648.7 1465.2 L1649.7 1464.5 L1650.7 1463.7 L1651.7 1462.9 L1652.7 1462.0 L1653.7 1461.2 L1654.7 1460.3 L1655.7 1459.3 L1656.7 1458.3 L1657.7 1457.3 L1658.7 1456.3 L1659.7 1455.2 L1660.7 1454.2 L1661.6 1453.2 L1661.7 1453.1 L1662.7 1452.0 L1663.7 1450.9 L1664.7 1449.7 L1665.7 1448.5 L1666.7 1447.3 L1667.7 1446.0 L1668.7 1444.5 L1669.4 1443.5 L1669.7 1443.0 L1670.7 1441.5 L1671.7 1439.8 L1672.7 1438.0 L1673.7 1436.1 L1674.7 1433.9 L1675.7 1431.6 L1676.4 1429.8 L1676.7 1429.0 L1677.7 1425.8 L1678.7 1422.0 L1679.7 1417.9 L1680.3 1415.4 L1680.7 1413.7 L1681.7 1409.2 L1682.7 1404.1 L1683.1 1401.8 L1683.7 1397.8 L1684.7 1390.3 L1685.0 1388.2 L1685.7 1383.4 L1686.7 1376.9 L1687.4 1374.1 L1687.7 1373.4 L1688.7 1371.9 L1689.7 1370.8 L1690.7 1369.7 L1691.6 1368.3 L1691.7 1368.1 L1692.7 1365.4 L1693.7 1361.9 L1694.7 1357.9 L1695.5 1354.7 L1695.7 1353.9 L1696.7 1349.5 L1697.7 1344.8 L1698.7 1340.2 L1699.7 1336.0 L1700.7 1331.9 L1701.7 1327.8 L1701.8 1327.4 L1702.7 1323.5 L1703.7 1319.1 L1704.7 1314.9 L1704.9 1314.1 L1705.7 1311.0 L1706.7 1307.4 L1707.7 1303.9 L1708.4 1301.3 L1708.7 1300.2 L1709.7 1296.6 L1710.7 1292.9 L1711.7 1288.9 L1711.9 1288.0 L1712.7 1284.1 L1713.7 1278.6 L1714.5 1274.0 L1714.7 1272.8 L1715.7 1266.7 L1716.7 1260.6 L1716.8 1260.0 L1717.7 1254.7 L1718.7 1249.1 L1719.3 1246.0 L1719.7 1244.1 L1720.7 1239.9 L1721.7 1235.7 L1722.1 1233.7 L1722.7 1230.4 L1723.7 1224.4 L1724.7 1217.8 L1725.7 1210.8 L1726.7 1203.5 L1727.7 1196.2 L1727.9 1194.7 L1728.7 1188.8 L1729.7 1181.4 L1730.7 1173.7 L1731.7 1165.8 L1732.7 1157.5 L1733.7 1148.9 L1733.8 1148.0 L1734.7 1139.7 L1735.7 1130.1 L1736.7 1119.9 L1737.7 1109.4 L1738.7 1098.5 L1738.8 1097.4 L1739.7 1086.9 L1740.7 1074.6 L1741.7 1062.2 L1742.7 1050.6 L1743.7 1040.1 L1744.7 1030.3 L1745.7 1020.7 L1746.7 1011.0 L1747.4 1003.9 L1747.7 1000.8 L1748.7 990.3 L1749.7 979.6 L1750.7 968.7 L1751.7 957.7 L1752.1 953.2 L1752.7 946.4 L1753.7 934.8 L1754.7 923.0 L1755.7 911.2 L1756.7 899.5 L1757.1 894.8 L1757.7 888.0 L1758.7 876.9 L1759.7 865.9 L1760.7 854.6 L1761.7 842.6 L1762.2 836.3 L1762.7 829.6 L1763.7 815.2 L1764.7 799.9 L1765.7 784.7 L1766.5 773.0 L1766.7 770.2 L1767.7 755.7 L1768.7 741.3 L1769.7 727.4 L1770.7 714.4 L1771.5 705.0 L1771.7 702.8 L1772.7 692.5 L1773.7 683.2 L1774.7 674.4 L1775.7 665.9 L1776.7 657.3 L1777.7 648.4 L1778.6 639.7 L1778.7 638.7 L1779.7 628.1 L1780.7 616.9 L1781.7 605.5 L1782.7 594.4 L1783.6 585.1 L1783.7 584.1 L1784.7 574.3 L1785.7 564.8 L1786.7 555.7 L1787.7 547.1 L1788.3 542.3 L1788.7 539.2 L1789.7 531.8 L1790.7 524.8 L1791.7 518.2 L1792.7 511.8 L1793.7 505.7 L1794.1 503.3 L1794.7 499.8 L1795.7 494.2 L1796.7 488.9 L1797.7 483.7 L1798.7 478.7 L1799.7 473.7 L1800.0 472.2 L1800.7 468.8 L1801.7 464.1 L1802.7 459.5 L1803.7 454.9 L1804.7 450.2 L1805.7 445.4 L1805.8 444.9 L1806.7 440.2 L1807.7 434.7 L1808.7 429.0 L1809.7 423.5 L1810.7 418.3 L1811.7 413.7 L1812.7 409.5 L1813.7 405.6 L1814.7 401.9 L1815.7 398.4 L1816.7 395.1 L1817.7 392.1 L1818.3 390.4 L1818.7 389.3 L1819.7 386.7 L1820.7 384.3 L1821.7 382.0 L1822.7 379.8 L1823.7 377.8 L1824.7 375.9 L1825.3 374.8 L1825.7 374.1 L1826.7 372.4 L1827.7 370.7 L1828.7 369.1 L1829.7 367.6 L1830.7 366.2 L1831.7 364.9 L1832.7 363.6 L1833.1 363.1 L1833.7 362.4 L1834.7 361.2 L1835.7 360.0 L1836.7 358.9 L1837.7 357.8 L1838.7 356.9 L1839.7 356.1 L1840.7 355.4 L1840.9 355.3 L1841.7 354.9 L1842.7 354.4 L1843.7 353.9 L1844.7 353.4 L1845.7 353.0 L1846.7 352.6 L1847.7 352.3 L1848.7 352.0 L1849.7 351.7 L1850.7 351.5 L1851.7 351.4 L1852.6 351.4 L1852.7 351.4 L1853.7 351.5 L1854.7 351.6 L1855.7 351.9 L1856.7 352.3 L1857.7 352.8 L1858.7 353.3 L1859.7 354.0 L1860.7 354.8 L1861.7 355.7 L1862.0 356.0 L1862.7 357.4 L1863.7 361.7 L1864.7 368.0 L1865.7 375.9 L1866.7 384.6 L1867.7 393.7 L1868.2 398.1 L1868.7 402.7 L1869.7 413.3 L1870.7 425.4 L1871.3 433.2 L1871.7 438.8 L1872.7 454.9 L1873.7 471.5 L1874.0 476.1 L1874.7 486.0 L1875.7 499.0 L1876.7 512.2 L1877.7 527.2 L1877.9 530.6 L1878.7 546.4 L1879.7 569.2 L1880.6 589.0 L1880.7 591.0 L1881.7 611.0 L1882.7 630.2 L1883.7 647.5 L1884.7 663.3 L1885.7 678.0 L1886.7 691.4 L1887.6 702.0 L1887.7 703.1 L1888.7 713.0 L1889.7 721.8 L1890.7 730.2 L1891.5 737.1 L1891.7 738.9 L1892.7 748.1 L1893.7 757.3 L1894.7 766.2 L1895.4 772.1 L1895.7 774.5 L1896.7 782.3 L1897.7 789.6 L1898.7 796.9 L1899.3 801.3 L1899.7 804.3 L1900.7 811.8 L1901.7 819.4 L1902.7 826.9 L1903.7 834.2 L1904.7 840.9 L1905.2 844.1 L1905.7 847.1 L1906.7 852.8 L1907.7 858.2 L1908.7 863.4 L1909.7 868.5 L1910.7 873.7 L1911.0 875.3 L1911.7 879.2 L1912.7 885.0 L1913.7 891.0 L1914.7 896.6 L1915.7 901.8 L1916.7 906.1 L1916.8 906.5 L1917.7 909.9 L1918.7 913.7 L1919.7 917.4 L1920.7 920.8 L1921.7 923.7 L1922.7 926.0 L1923.7 927.5 L1924.6 927.9 L1924.7 927.9 L1925.7 927.7 L1926.7 927.4 L1927.7 926.8 L1928.7 926.0 L1929.7 925.2 L1930.7 924.2 L1931.7 923.1 L1932.7 922.0 L1933.7 920.9 L1934.4 920.1 L1934.7 919.8 L1935.7 918.5 L1936.7 917.0 L1937.7 915.4 L1938.7 913.7 L1939.7 911.8 L1940.7 909.8 L1941.7 907.8 L1942.7 905.6 L1943.7 903.5 L1944.1 902.6 L1944.7 901.2 L1945.7 898.8 L1946.7 896.3 L1947.7 893.5 L1948.7 890.7 L1949.7 887.8 L1950.7 884.8 L1951.7 881.7 L1951.9 881.1 L1952.7 878.6 L1953.7 875.4 L1954.7 872.1 L1955.7 868.6 L1956.7 865.1 L1957.7 861.5 L1958.7 857.7 L1959.7 853.9 L1960.7 849.9 L1961.7 845.6 L1962.7 841.2 L1963.7 836.7 L1964.7 832.2 L1965.5 828.6 L1965.7 827.7 L1966.7 823.3 L1967.7 818.9 L1968.7 814.5 L1969.7 809.9 L1970.7 805.0 L1971.4 801.3 L1971.7 799.6 L1972.7 793.6 L1973.7 787.1 L1974.7 780.4 L1975.7 773.9 L1976.0 772.0 L1976.7 767.7 L1977.7 761.7 L1978.7 755.7 L1979.7 749.7 L1980.7 743.5 L1981.1 741.0 L1981.7 737.2 L1982.7 730.9 L1983.7 724.5 L1984.7 717.8 L1985.7 710.9 L1986.5 705.0 L1986.7 703.5 L1987.7 694.8 L1988.7 685.5 L1989.7 676.3 L1990.7 668.3 L1990.9 666.9 L1991.7 661.8 L1992.7 655.9 L1993.7 650.5 L1994.7 645.4 L1995.7 640.6 L1996.7 635.8 L1997.7 631.0 L1998.7 626.2 L1999.7 621.6 L2000.7 617.3 L2001.7 613.5 L2002.6 610.5 L2002.7 610.2 L2003.7 607.4 L2004.7 604.8 L2005.7 602.5 L2006.7 600.3 L2007.7 598.2 L2008.7 596.2 L2009.7 594.3 L2010.4 592.9 L2010.7 592.3 L2011.7 590.3 L2012.7 588.3 L2013.7 586.4 L2014.7 584.5 L2015.7 582.8 L2016.7 581.2 L2017.7 579.8 L2018.1 579.3 L2018.7 578.6 L2019.7 577.4 L2020.7 576.2 L2021.7 575.0 L2022.7 574.0 L2023.7 573.1 L2024.7 572.3 L2025.7 571.8 L2026.7 571.5 L2027.1 571.5 L2027.7 571.5 L2028.7 571.6 L2029.7 571.8 L2030.7 572.1 L2031.7 572.5 L2032.7 572.9 L2033.7 573.3 L2034.7 573.8 L2035.7 574.4 L2036.7 574.9 L2037.6 575.4 L2037.7 575.5 L2038.7 576.1 L2039.7 576.8 L2040.7 577.6 L2041.7 578.6 L2042.7 579.6 L2043.7 580.8 L2044.7 582.2 L2045.7 583.6 L2046.6 585.1 L2046.7 585.3 L2047.7 587.5 L2048.7 590.4 L2049.7 593.9 L2050.7 597.8 L2051.7 602.0 L2052.7 606.3 L2053.2 608.5 L2053.7 610.7 L2054.7 615.5 L2055.7 620.6 L2056.7 626.1 L2057.7 631.9 L2058.7 637.9 L2059.0 639.7 L2059.7 644.1 L2060.7 650.6 L2061.7 657.7 L2062.7 665.4 L2062.9 667.0 L2063.7 673.8 L2064.7 683.0 L2065.7 693.5 L2066.1 698.1 L2066.7 706.1 L2067.7 721.1 L2068.0 725.4 L2068.7 734.9 L2069.7 748.0 L2070.0 752.0 L2070.7 761.0 L2071.7 773.8 L2072.5 785.0 L2072.7 788.1 L2073.7 806.0 L2074.7 824.8 L2075.4 836.3 L2075.7 840.7 L2076.7 854.5 L2077.7 866.8 L2078.5 875.3 L2078.7 877.3 L2079.7 886.5 L2080.7 894.8 L2081.7 902.1 L2082.4 906.5 L2082.7 908.2 L2083.7 913.5 L2084.7 918.2 L2085.7 922.5 L2086.7 926.7 L2087.7 931.0 L2088.3 933.7 L2088.7 935.6 L2089.7 940.2 L2090.7 944.8 L2091.7 949.4 L2092.7 954.1 L2093.7 959.0 L2094.1 961.0 L2094.7 964.1 L2095.7 969.3 L2096.7 974.7 L2097.7 980.2 L2098.7 985.7 L2099.7 991.1 L2099.9 992.2 L2100.7 996.4 L2101.7 1001.7 L2102.7 1007.0 L2103.7 1012.2 L2104.7 1017.5 L2105.7 1022.8 L2105.8 1023.3 L2106.7 1028.2 L2107.7 1033.7 L2108.7 1039.2 L2109.7 1044.6 L2110.7 1049.9 L2111.6 1054.5 L2111.7 1055.0 L2112.7 1059.9 L2113.7 1064.7 L2114.7 1069.3 L2115.7 1073.9 L2116.7 1078.4 L2117.7 1082.7 L2118.7 1086.8 L2119.4 1089.6 L2119.7 1090.8 L2120.7 1094.6 L2121.7 1098.3 L2122.7 1101.9 L2123.7 1105.4 L2124.7 1108.8 L2125.7 1112.0 L2126.7 1115.2 L2127.2 1116.8 L2127.7 1118.3 L2128.7 1121.4 L2129.7 1124.3 L2130.7 1127.2 L2131.7 1130.0 L2132.7 1132.8 L2133.7 1135.5 L2134.7 1138.1 L2135.7 1140.8 L2136.7 1143.3 L2137.0 1144.1 L2137.7 1145.9 L2138.7 1148.4 L2139.7 1150.9 L2140.7 1153.4 L2141.7 1155.9 L2142.7 1158.3 L2143.7 1160.7 L2144.7 1163.0 L2145.7 1165.2 L2146.7 1167.4 L2147.7 1169.6 L2148.6 1171.4 L2148.7 1171.6 L2149.7 1173.6 L2150.7 1175.6 L2151.7 1177.5 L2152.7 1179.4 L2153.7 1181.2 L2154.7 1183.0 L2155.7 1184.8 L2156.7 1186.6 L2157.7 1188.3 L2158.7 1189.9 L2159.7 1191.6 L2160.7 1193.2 L2161.7 1194.8 L2162.7 1196.3 L2163.7 1197.9 L2164.2 1198.6 L2164.7 1199.3 L2165.7 1200.8 L2166.7 1202.2 L2167.7 1203.6 L2168.7 1205.0 L2169.7 1206.2 L2170.7 1207.4 L2171.4 1208.2 L2171.7 1208.5 L2172.7 1209.6 L2173.7 1210.6 L2174.7 1211.5 L2175.7 1212.5 L2176.7 1213.3 L2177.7 1214.2 L2178.7 1215.0 L2179.7 1215.7 L2180.2 1216.1 L2180.7 1216.5 L2181.7 1217.1 L2182.7 1217.8 L2183.7 1218.4 L2184.7 1219.0 L2185.7 1219.6 L2186.7 1220.2 L2187.7 1220.8 L2188.7 1221.3 L2189.7 1221.9 L2190.7 1222.4 L2191.7 1223.0 L2192.5 1223.4 L2192.7 1223.5 L2193.7 1224.1 L2194.7 1224.6 L2195.7 1225.2 L2196.7 1225.7 L2197.7 1226.3 L2198.7 1226.8 L2199.7 1227.3 L2200.7 1227.9 L2201.7 1228.4 L2202.7 1228.9 L2203.7 1229.4 L2204.7 1229.9 L2205.0 1230.1 L2205.7 1230.5 L2206.7 1231.0 L2207.7 1231.5 L2208.7 1232.0 L2209.7 1232.5 L2210.7 1233.0 L2211.7 1233.4 L2212.7 1233.9 L2213.7 1234.4 L2214.7 1234.9 L2215.7 1235.4 L2216.7 1235.8 L2217.7 1236.3 L2218.2 1236.5 L2218.7 1236.7 L2219.7 1237.2 L2220.7 1237.6 L2221.7 1238.1 L2222.7 1238.5 L2223.7 1238.9 L2224.7 1239.4 L2225.7 1239.8 L2226.7 1240.2 L2227.7 1240.6 L2228.7 1241.0 L2229.7 1241.4 L2230.7 1241.8 L2230.8 1241.8 L2231.7 1242.1 L2232.7 1242.5 L2233.7 1242.8 L2234.7 1243.1 L2235.7 1243.5 L2236.7 1243.8 L2237.7 1244.1 L2238.7 1244.4 L2239.7 1244.7 L2240.7 1245.0 L2241.7 1245.3 L2242.7 1245.6 L2243.7 1246.0 L2244.5 1246.2 L2244.7 1246.3 L2245.7 1246.6 L2246.7 1246.9 L2247.7 1247.2 L2248.7 1247.5 L2249.7 1247.8 L2250.7 1248.2 L2251.7 1248.5 L2252.7 1248.8 L2253.7 1249.1 L2254.7 1249.4 L2255.7 1249.6 L2256.7 1249.9 L2257.7 1250.2 L2258.2 1250.3 L2258.7 1250.4 L2259.7 1250.7 L2260.7 1250.9 L2261.7 1251.1 L2262.7 1251.3 L2263.7 1251.6 L2264.7 1251.8 L2265.7 1252.0 L2266.7 1252.2 L2267.7 1252.4 L2268.7 1252.6 L2269.7 1252.8 L2270.7 1253.0 L2271.7 1253.2 L2272.7 1253.4 L2273.7 1253.6 L2274.7 1253.8 L2275.7 1254.0 L2276.7 1254.2 L2277.7 1254.4 L2278.7 1254.6 L2279.7 1254.8 L2280.7 1254.9 L2281.0 1255.0" fill="none" stroke="#000000" stroke-width="6.8" stroke-linecap="round" stroke-dasharray="0.01 13.4" stroke-linejoin="round"/>
<path d="M1360.4 1560.7 L1768.0 1560.7 L1769.0 1560.4 L1770.0 1560.1 L1771.0 1559.7 L1772.0 1559.3 L1773.0 1558.8 L1774.0 1558.3 L1775.0 1557.8 L1776.0 1557.2 L1777.0 1556.6 L1778.0 1556.0 L1779.0 1555.4 L1780.0 1554.7 L1781.0 1554.0 L1782.0 1553.3 L1783.0 1552.4 L1784.0 1551.5 L1785.0 1550.4 L1786.0 1549.1 L1786.3 1548.7 L1787.0 1547.6 L1788.0 1545.5 L1789.0 1542.8 L1790.0 1539.6 L1791.0 1536.0 L1792.0 1531.9 L1793.0 1527.3 L1794.0 1522.4 L1795.0 1517.2 L1796.0 1511.6 L1797.0 1504.8 L1798.0 1496.0 L1799.0 1485.9 L1800.0 1474.9 L1801.0 1463.4 L1801.9 1453.2 L1802.0 1452.1 L1803.0 1440.7 L1804.0 1428.8 L1805.0 1416.0 L1806.0 1402.2 L1806.5 1394.8 L1807.0 1386.8 L1808.0 1368.8 L1809.0 1349.6 L1809.7 1336.3 L1810.0 1330.8 L1811.0 1312.7 L1812.0 1294.1 L1812.8 1277.9 L1813.0 1273.7 L1814.0 1253.0 L1815.0 1227.9 L1815.5 1211.7 L1816.0 1186.6 L1817.0 1117.3 L1817.5 1089.6 L1818.0 1070.1 L1819.0 1038.7 L1820.0 1010.7 L1820.6 992.2 L1821.0 978.8 L1822.0 944.3 L1823.0 909.0 L1823.4 894.8 L1824.0 873.4 L1825.0 837.2 L1826.0 801.0 L1826.1 797.4 L1827.0 765.1 L1828.0 729.5 L1828.5 712.0 L1829.0 694.0 L1830.0 659.0 L1830.4 647.5 L1831.0 632.8 L1832.0 611.6 L1833.0 592.9 L1834.0 575.1 L1834.3 569.6 L1835.0 557.0 L1836.0 539.8 L1837.0 523.1 L1838.0 506.6 L1838.9 491.7 L1839.0 490.0 L1840.0 474.1 L1841.0 458.9 L1842.0 443.1 L1843.0 425.5 L1843.6 413.7 L1844.0 404.1 L1845.0 373.9 L1846.0 348.9 L1846.2 346.0 L1847.0 337.6 L1848.0 330.3 L1848.6 327.5 L1849.0 326.1 L1850.0 323.0 L1851.0 321.2 L1851.4 321.0 L1852.0 321.4 L1853.0 323.6 L1854.0 326.8 L1854.2 327.5 L1855.0 331.3 L1856.0 338.1 L1857.0 346.0 L1858.0 354.8 L1859.0 365.0 L1860.0 376.1 L1861.0 388.0 L1862.0 400.2 L1863.0 412.5 L1863.1 413.7 L1864.0 425.0 L1865.0 438.4 L1866.0 452.2 L1867.0 466.1 L1868.0 479.8 L1868.9 491.7 L1869.0 493.0 L1870.0 505.4 L1871.0 517.2 L1872.0 528.9 L1873.0 540.8 L1874.0 553.3 L1875.0 566.7 L1875.2 569.6 L1876.0 581.5 L1877.0 597.5 L1878.0 614.5 L1879.0 632.5 L1879.8 647.5 L1880.0 651.4 L1881.0 672.1 L1882.0 694.2 L1882.8 712.0 L1883.0 716.5 L1884.0 739.4 L1885.0 762.5 L1885.7 777.9 L1886.0 784.2 L1887.0 804.6 L1888.0 824.4 L1889.0 843.9 L1889.6 855.8 L1890.0 863.8 L1891.0 883.8 L1892.0 903.7 L1893.0 923.7 L1893.5 933.7 L1894.0 943.7 L1895.0 963.7 L1896.0 983.6 L1897.0 1003.6 L1897.4 1011.6 L1898.0 1023.6 L1899.0 1043.6 L1900.0 1063.6 L1901.0 1083.6 L1901.3 1089.6 L1902.0 1103.2 L1903.0 1122.0 L1904.0 1141.4 L1905.0 1162.8 L1905.2 1167.5 L1906.0 1189.6 L1907.0 1222.2 L1908.0 1254.0 L1909.0 1277.9 L1910.0 1293.8 L1911.0 1306.8 L1912.0 1318.1 L1913.0 1328.7 L1913.7 1336.3 L1914.0 1339.6 L1915.0 1350.7 L1916.0 1361.5 L1917.0 1371.8 L1918.0 1381.6 L1919.0 1390.6 L1919.5 1394.8 L1920.0 1398.8 L1921.0 1406.5 L1922.0 1413.8 L1923.0 1420.7 L1924.0 1427.1 L1925.0 1433.1 L1925.8 1437.6 L1926.0 1438.7 L1927.0 1444.2 L1928.0 1449.6 L1929.0 1454.3 L1930.0 1457.9 L1930.4 1459.0 L1931.0 1460.4 L1932.0 1462.7 L1933.0 1464.6 L1934.0 1466.1 L1935.0 1466.9 L1935.5 1467.0 L1936.0 1466.9 L1937.0 1466.4 L1938.0 1465.5 L1939.0 1464.3 L1940.0 1462.9 L1941.0 1461.3 L1942.0 1459.6 L1943.0 1458.0 L1943.5 1457.2 L1944.0 1456.4 L1945.0 1454.6 L1946.0 1452.7 L1947.0 1450.6 L1948.0 1448.4 L1949.0 1446.2 L1950.0 1444.1 L1951.0 1442.0 L1952.0 1440.1 L1952.3 1439.6 L1953.0 1438.4 L1954.0 1436.5 L1955.0 1434.6 L1956.0 1432.8 L1957.0 1431.0 L1958.0 1429.5 L1959.0 1428.1 L1960.0 1427.1 L1961.0 1426.5 L1962.0 1426.1 L1963.0 1425.7 L1964.0 1425.4 L1965.0 1425.2 L1966.0 1425.0 L1966.9 1425.0 L1967.0 1425.0 L1968.0 1425.1 L1969.0 1425.4 L1970.0 1425.9 L1971.0 1426.5 L1972.0 1427.2 L1973.0 1427.9 L1974.0 1428.7 L1975.0 1429.6 L1976.0 1430.4 L1977.0 1431.2 L1978.0 1431.9 L1978.6 1432.3 L1979.0 1432.6 L1980.0 1433.3 L1981.0 1434.0 L1982.0 1434.9 L1983.0 1435.7 L1984.0 1436.5 L1985.0 1437.3 L1986.0 1438.0 L1987.0 1438.6 L1988.0 1439.1 L1989.0 1439.4 L1990.0 1439.6 L1990.3 1439.6 L1991.0 1439.5 L1992.0 1438.9 L1993.0 1438.0 L1994.0 1436.8 L1995.0 1435.3 L1996.0 1433.6 L1997.0 1431.7 L1998.0 1429.8 L1999.0 1427.9 L2000.0 1425.9 L2001.0 1423.6 L2002.0 1420.9 L2003.0 1417.9 L2004.0 1414.5 L2005.0 1410.5 L2006.0 1406.1 L2006.3 1404.6 L2007.0 1400.3 L2008.0 1392.1 L2009.0 1382.2 L2010.0 1372.0 L2011.0 1361.1 L2012.0 1349.2 L2012.5 1343.3 L2013.0 1337.5 L2014.0 1325.7 L2015.0 1313.8 L2016.0 1301.8 L2016.7 1293.3 L2017.0 1289.6 L2018.0 1277.1 L2019.0 1264.4 L2020.0 1251.7 L2021.0 1238.7 L2022.0 1225.7 L2023.0 1213.4 L2023.3 1210.0 L2024.0 1202.7 L2025.0 1193.3 L2026.0 1184.0 L2026.7 1176.7 L2027.0 1173.3 L2028.0 1160.6 L2029.0 1147.3 L2030.0 1135.0 L2031.0 1124.1 L2032.0 1113.9 L2033.0 1104.4 L2033.3 1101.7 L2034.0 1095.7 L2035.0 1087.6 L2036.0 1079.9 L2037.0 1072.2 L2037.5 1068.3 L2038.0 1064.3 L2039.0 1056.0 L2040.0 1047.8 L2041.0 1040.0 L2041.7 1035.0 L2042.0 1033.0 L2043.0 1026.4 L2044.0 1020.3 L2045.0 1014.5 L2045.8 1010.0 L2046.0 1008.9 L2047.0 1003.1 L2048.0 997.8 L2048.8 994.5 L2049.0 993.8 L2050.0 990.5 L2051.0 988.4 L2051.3 988.3 L2052.0 989.0 L2053.0 991.8 L2053.8 994.5 L2054.0 995.2 L2055.0 1000.0 L2056.0 1005.9 L2056.7 1010.0 L2057.0 1011.7 L2058.0 1017.4 L2059.0 1023.4 L2060.0 1029.7 L2060.8 1035.0 L2061.0 1036.4 L2062.0 1043.6 L2063.0 1051.4 L2064.0 1059.6 L2065.0 1068.3 L2066.0 1077.9 L2067.0 1088.3 L2068.0 1098.7 L2068.3 1101.7 L2069.0 1108.5 L2070.0 1117.9 L2071.0 1127.6 L2071.7 1135.0 L2072.0 1138.4 L2073.0 1151.1 L2074.0 1164.4 L2075.0 1176.7 L2076.0 1187.1 L2077.0 1196.8 L2078.0 1206.8 L2078.3 1210.0 L2079.0 1218.0 L2080.0 1230.3 L2081.0 1242.9 L2081.7 1251.7 L2082.0 1255.4 L2083.0 1267.6 L2084.0 1280.1 L2085.0 1293.3 L2086.0 1308.4 L2087.0 1324.5 L2088.0 1339.4 L2088.3 1343.3 L2089.0 1351.7 L2090.0 1362.8 L2091.0 1372.9 L2092.0 1382.4 L2092.5 1387.0 L2093.0 1391.5 L2094.0 1400.3 L2095.0 1408.8 L2096.0 1416.8 L2097.0 1424.3 L2098.0 1431.2 L2098.4 1433.8 L2099.0 1437.6 L2100.0 1443.6 L2101.0 1449.4 L2102.0 1454.8 L2103.0 1459.9 L2104.0 1464.7 L2105.0 1469.0 L2105.7 1471.8 L2106.0 1472.9 L2107.0 1476.6 L2108.0 1480.1 L2109.0 1483.4 L2110.0 1486.4 L2111.0 1489.4 L2112.0 1492.1 L2113.0 1494.6 L2114.0 1497.0 L2114.5 1498.1 L2115.0 1499.2 L2116.0 1501.2 L2117.0 1503.2 L2118.0 1505.0 L2119.0 1506.8 L2120.0 1508.5 L2121.0 1510.1 L2122.0 1511.6 L2123.0 1513.1 L2124.0 1514.6 L2124.7 1515.6 L2125.0 1516.0 L2126.0 1517.4 L2127.0 1518.8 L2128.0 1520.1 L2129.0 1521.3 L2130.0 1522.5 L2131.0 1523.7 L2132.0 1524.9 L2133.0 1526.1 L2134.0 1527.3 L2135.0 1528.5 L2136.0 1529.7 L2136.4 1530.2 L2137.0 1531.0 L2138.0 1532.3 L2139.0 1533.6 L2140.0 1534.9 L2141.0 1536.3 L2142.0 1537.6 L2143.0 1538.9 L2144.0 1540.2 L2145.0 1541.4 L2146.0 1542.6 L2147.0 1543.7 L2148.0 1544.7 L2148.1 1544.8 L2149.0 1545.6 L2150.0 1546.5 L2151.0 1547.4 L2152.0 1548.3 L2153.0 1549.1 L2154.0 1549.9 L2155.0 1550.6 L2156.0 1551.3 L2157.0 1552.0 L2158.0 1552.6 L2159.0 1553.2 L2159.8 1553.6 L2160.0 1553.7 L2161.0 1554.2 L2162.0 1554.7 L2163.0 1555.1 L2164.0 1555.5 L2165.0 1555.9 L2166.0 1556.3 L2167.0 1556.7 L2168.0 1557.0 L2169.0 1557.3 L2170.0 1557.6 L2171.0 1557.9 L2171.4 1558.0 L2172.0 1558.2 L2173.0 1558.4 L2174.0 1558.6 L2175.0 1558.9 L2176.0 1559.1 L2177.0 1559.3 L2178.0 1559.5 L2179.0 1559.7 L2180.0 1559.9 L2181.0 1560.1 L2182.0 1560.2 L2183.0 1560.4 L2184.0 1560.5 L2185.0 1560.6 L2186.0 1560.7 L2281.0 1560.7" fill="none" stroke="#ff0000" stroke-width="7.7" stroke-linejoin="round"/>
<path d="M1360.4 1560.7 L1762.0 1560.7 L1763.0 1560.4 L1764.0 1560.1 L1765.0 1559.7 L1766.0 1559.3 L1767.0 1558.8 L1768.0 1558.3 L1769.0 1557.8 L1770.0 1557.2 L1771.0 1556.6 L1772.0 1556.0 L1773.0 1555.4 L1774.0 1554.8 L1775.0 1554.1 L1776.0 1553.4 L1777.0 1552.6 L1778.0 1551.6 L1779.0 1550.6 L1780.0 1549.4 L1780.5 1548.7 L1781.0 1547.9 L1782.0 1545.9 L1783.0 1543.2 L1784.0 1540.0 L1785.0 1536.4 L1786.0 1532.2 L1787.0 1527.8 L1788.0 1523.0 L1789.0 1517.9 L1790.0 1512.7 L1790.2 1511.6 L1791.0 1506.9 L1792.0 1500.2 L1793.0 1492.4 L1794.0 1483.9 L1795.0 1474.8 L1796.0 1465.2 L1797.0 1455.2 L1797.2 1453.2 L1798.0 1444.7 L1799.0 1432.9 L1800.0 1420.3 L1801.0 1407.0 L1801.9 1394.8 L1802.0 1393.4 L1803.0 1379.1 L1804.0 1363.9 L1805.0 1348.5 L1805.8 1336.3 L1806.0 1333.3 L1807.0 1318.6 L1808.0 1303.9 L1809.0 1288.8 L1809.7 1277.9 L1810.0 1273.1 L1811.0 1257.2 L1812.0 1240.7 L1813.0 1223.0 L1813.6 1211.7 L1814.0 1203.6 L1815.0 1181.5 L1815.6 1167.5 L1816.0 1158.1 L1817.0 1133.8 L1818.0 1108.1 L1818.3 1100.0 L1819.0 1079.0 L1820.0 1050.0 L1821.0 1028.5 L1822.0 1009.7 L1822.5 1000.0 L1823.0 990.0 L1824.0 970.0 L1825.0 950.0 L1826.0 929.0 L1827.0 908.7 L1827.5 900.0 L1828.0 892.5 L1829.0 879.4 L1830.0 866.7 L1831.0 852.9 L1832.0 839.4 L1832.5 833.3 L1833.0 827.7 L1834.0 817.4 L1835.0 807.8 L1835.8 800.0 L1836.0 798.0 L1837.0 787.9 L1838.0 777.9 L1839.0 768.5 L1839.2 766.7 L1840.0 759.5 L1841.0 751.1 L1841.8 746.0 L1842.0 745.0 L1843.0 740.1 L1844.0 737.3 L1844.2 737.2 L1845.0 738.5 L1846.0 742.5 L1846.7 746.0 L1847.0 747.7 L1848.0 755.8 L1849.0 765.0 L1849.2 766.7 L1850.0 773.3 L1851.0 781.4 L1852.0 789.5 L1853.0 797.6 L1853.3 800.0 L1854.0 805.5 L1855.0 813.3 L1856.0 821.1 L1857.0 829.1 L1857.5 833.3 L1858.0 837.5 L1859.0 846.2 L1860.0 855.2 L1861.0 864.7 L1861.2 866.7 L1862.0 875.0 L1863.0 886.1 L1864.0 897.7 L1864.2 900.0 L1865.0 909.5 L1866.0 921.7 L1867.0 934.1 L1868.0 946.4 L1868.3 950.0 L1869.0 958.4 L1870.0 970.3 L1871.0 982.2 L1872.0 994.1 L1872.5 1000.0 L1873.0 1005.9 L1874.0 1017.8 L1875.0 1029.7 L1876.0 1041.6 L1876.7 1050.0 L1877.0 1053.6 L1878.0 1065.9 L1879.0 1078.2 L1880.0 1090.4 L1880.8 1100.0 L1881.0 1102.4 L1882.0 1113.9 L1883.0 1125.2 L1884.0 1136.4 L1885.0 1147.5 L1886.0 1158.8 L1887.0 1170.2 L1888.0 1182.1 L1888.4 1187.0 L1889.0 1194.6 L1890.0 1208.0 L1891.0 1221.9 L1892.0 1235.6 L1893.0 1248.7 L1893.8 1258.4 L1894.0 1260.7 L1895.0 1271.6 L1896.0 1282.0 L1897.0 1291.9 L1898.0 1301.6 L1899.0 1311.1 L1900.0 1320.7 L1901.0 1330.5 L1901.1 1331.5 L1902.0 1340.7 L1903.0 1351.3 L1904.0 1361.9 L1905.0 1372.5 L1906.0 1382.7 L1907.0 1392.4 L1908.0 1401.3 L1908.4 1404.6 L1909.0 1409.4 L1910.0 1417.1 L1911.0 1424.6 L1912.0 1431.7 L1913.0 1438.5 L1914.0 1445.0 L1915.0 1451.1 L1916.0 1456.7 L1917.0 1462.0 L1917.2 1463.0 L1918.0 1466.9 L1919.0 1471.6 L1920.0 1476.1 L1921.0 1480.3 L1922.0 1484.2 L1923.0 1487.7 L1924.0 1490.8 L1924.5 1492.2 L1925.0 1493.6 L1926.0 1496.4 L1927.0 1499.0 L1928.0 1501.1 L1929.0 1502.3 L1929.5 1502.5 L1930.0 1502.4 L1931.0 1502.0 L1932.0 1501.1 L1933.0 1499.9 L1934.0 1498.4 L1935.0 1496.8 L1936.0 1495.1 L1937.0 1493.4 L1937.7 1492.2 L1938.0 1491.7 L1939.0 1489.8 L1940.0 1487.7 L1941.0 1485.4 L1942.0 1483.0 L1943.0 1480.5 L1944.0 1477.9 L1945.0 1475.3 L1946.0 1472.8 L1946.4 1471.8 L1947.0 1470.3 L1948.0 1467.8 L1949.0 1465.2 L1950.0 1462.5 L1951.0 1459.9 L1952.0 1457.2 L1953.0 1454.6 L1954.0 1452.0 L1955.0 1449.5 L1956.0 1447.1 L1956.7 1445.5 L1957.0 1444.8 L1958.0 1442.5 L1959.0 1440.1 L1960.0 1437.7 L1961.0 1435.3 L1962.0 1433.2 L1963.0 1431.2 L1964.0 1429.6 L1965.0 1428.3 L1965.4 1427.9 L1966.0 1427.4 L1967.0 1426.5 L1968.0 1425.7 L1969.0 1425.0 L1970.0 1424.4 L1971.0 1423.9 L1972.0 1423.7 L1972.7 1423.6 L1973.0 1423.6 L1974.0 1423.7 L1975.0 1423.8 L1976.0 1424.0 L1977.0 1424.2 L1978.0 1424.4 L1979.0 1424.6 L1980.0 1424.8 L1981.0 1424.9 L1981.5 1425.0 L1982.0 1425.0 L1983.0 1425.1 L1984.0 1425.2 L1985.0 1425.3 L1986.0 1425.4 L1987.0 1425.5 L1988.0 1425.5 L1989.0 1425.6 L1990.0 1425.6 L1990.3 1425.6 L1991.0 1425.5 L1992.0 1425.1 L1993.0 1424.3 L1994.0 1423.3 L1995.0 1422.1 L1996.0 1420.7 L1997.0 1419.3 L1998.0 1417.8 L1999.0 1416.3 L2000.0 1414.7 L2001.0 1413.0 L2002.0 1411.0 L2003.0 1408.9 L2004.0 1406.5 L2005.0 1404.1 L2006.0 1401.5 L2007.0 1398.7 L2008.0 1395.9 L2009.0 1392.9 L2010.0 1389.8 L2011.0 1386.5 L2012.0 1383.0 L2013.0 1379.2 L2014.0 1375.1 L2015.0 1370.5 L2016.0 1365.5 L2017.0 1360.0 L2018.0 1352.7 L2019.0 1343.8 L2020.0 1335.0 L2021.0 1327.0 L2022.0 1319.1 L2023.0 1311.2 L2024.0 1303.3 L2024.2 1301.7 L2025.0 1295.1 L2026.0 1286.8 L2027.0 1278.5 L2028.0 1270.5 L2028.3 1268.3 L2029.0 1263.2 L2030.0 1256.3 L2031.0 1249.6 L2032.0 1243.2 L2032.5 1240.0 L2033.0 1236.8 L2034.0 1230.5 L2035.0 1224.5 L2036.0 1218.7 L2036.7 1215.0 L2037.0 1213.5 L2038.0 1208.8 L2039.0 1204.3 L2040.0 1200.1 L2040.8 1196.7 L2041.0 1195.8 L2042.0 1191.2 L2043.0 1186.7 L2044.0 1183.5 L2045.0 1181.3 L2046.0 1179.6 L2046.7 1179.2 L2047.0 1179.3 L2048.0 1180.5 L2049.0 1182.6 L2049.4 1183.5 L2050.0 1185.3 L2051.0 1189.6 L2052.0 1194.4 L2052.5 1196.7 L2053.0 1198.8 L2054.0 1203.0 L2055.0 1207.1 L2056.0 1211.6 L2056.7 1215.0 L2057.0 1216.6 L2058.0 1222.2 L2059.0 1228.4 L2060.0 1234.8 L2060.8 1240.0 L2061.0 1241.3 L2062.0 1247.7 L2063.0 1254.3 L2064.0 1261.2 L2065.0 1268.3 L2066.0 1275.9 L2067.0 1283.8 L2068.0 1291.9 L2069.0 1300.1 L2069.2 1301.7 L2070.0 1308.2 L2071.0 1316.5 L2072.0 1324.7 L2073.0 1332.7 L2073.3 1335.0 L2074.0 1340.5 L2075.0 1348.4 L2076.0 1355.7 L2076.7 1360.0 L2077.0 1361.6 L2078.0 1366.7 L2079.0 1371.1 L2080.0 1375.2 L2081.0 1379.0 L2082.0 1382.7 L2083.0 1386.5 L2084.0 1390.5 L2085.0 1394.9 L2085.2 1395.8 L2086.0 1399.7 L2087.0 1404.9 L2088.0 1410.4 L2089.0 1416.1 L2090.0 1421.8 L2091.0 1427.4 L2092.0 1432.8 L2093.0 1437.9 L2094.0 1442.6 L2095.0 1446.9 L2096.0 1451.1 L2097.0 1455.1 L2098.0 1459.0 L2099.0 1462.7 L2100.0 1466.4 L2101.0 1469.9 L2102.0 1473.3 L2103.0 1476.6 L2104.0 1479.9 L2104.2 1480.5 L2105.0 1483.0 L2106.0 1486.1 L2107.0 1489.2 L2108.0 1492.2 L2109.0 1495.1 L2110.0 1498.0 L2111.0 1500.7 L2112.0 1503.4 L2113.0 1506.0 L2114.0 1508.4 L2115.0 1510.7 L2115.9 1512.7 L2116.0 1512.9 L2117.0 1515.0 L2118.0 1517.0 L2119.0 1518.9 L2120.0 1520.8 L2121.0 1522.6 L2122.0 1524.3 L2123.0 1526.0 L2124.0 1527.6 L2125.0 1529.2 L2126.0 1530.7 L2127.0 1532.2 L2127.6 1533.1 L2128.0 1533.7 L2129.0 1535.1 L2130.0 1536.6 L2131.0 1537.9 L2132.0 1539.3 L2133.0 1540.6 L2134.0 1541.9 L2135.0 1543.2 L2136.0 1544.3 L2137.0 1545.5 L2138.0 1546.5 L2139.0 1547.5 L2139.3 1547.8 L2140.0 1548.5 L2141.0 1549.4 L2142.0 1550.3 L2143.0 1551.1 L2144.0 1552.0 L2145.0 1552.8 L2146.0 1553.5 L2147.0 1554.3 L2148.0 1554.9 L2149.0 1555.5 L2150.0 1556.0 L2151.0 1556.5 L2152.0 1556.9 L2153.0 1557.3 L2154.0 1557.7 L2155.0 1558.1 L2156.0 1558.5 L2157.0 1558.9 L2158.0 1559.2 L2159.0 1559.5 L2160.0 1559.8 L2161.0 1560.1 L2162.0 1560.3 L2163.0 1560.4 L2164.0 1560.6 L2165.0 1560.7 L2165.6 1560.7 L2281.0 1560.7" fill="none" stroke="#0000ff" stroke-width="7.7" stroke-linejoin="round"/>
</g>
<rect x="1360.4" y="73" width="920.5999999999999" height="1512.7" fill="none" stroke="#4d4d4d" stroke-width="2.2"/>
<line x1="1333.4" y1="321" x2="1360.4" y2="321" stroke="#4d4d4d" stroke-width="2.2"/>
<line x1="1333.4" y1="631" x2="1360.4" y2="631" stroke="#4d4d4d" stroke-width="2.2"/>
<line x1="1333.4" y1="941" x2="1360.4" y2="941" stroke="#4d4d4d" stroke-width="2.2"/>
<line x1="1333.4" y1="1251" x2="1360.4" y2="1251" stroke="#4d4d4d" stroke-width="2.2"/>
<line x1="1333.4" y1="1561" x2="1360.4" y2="1561" stroke="#4d4d4d" stroke-width="2.2"/>
<line x1="1360.4" y1="1585.7" x2="1360.4" y2="1613.7" stroke="#4d4d4d" stroke-width="2.2"/>
<text x="1360.4" y="1682.7" font-size="62.8" letter-spacing="-1.3" text-anchor="middle" font-family="Liberation Sans, Arial, Helvetica, sans-serif">550</text>
<line x1="1475.5" y1="1585.7" x2="1475.5" y2="1599.7" stroke="#4d4d4d" stroke-width="2.2"/>
<line x1="1590.6" y1="1585.7" x2="1590.6" y2="1613.7" stroke="#4d4d4d" stroke-width="2.2"/>
<text x="1590.6" y="1682.7" font-size="62.8" letter-spacing="-1.3" text-anchor="middle" font-family="Liberation Sans, Arial, Helvetica, sans-serif">560</text>
<line x1="1705.6" y1="1585.7" x2="1705.6" y2="1599.7" stroke="#4d4d4d" stroke-width="2.2"/>
<line x1="1820.7" y1="1585.7" x2="1820.7" y2="1613.7" stroke="#4d4d4d" stroke-width="2.2"/>
<text x="1820.7" y="1682.7" font-size="62.8" letter-spacing="-1.3" text-anchor="middle" font-family="Liberation Sans, Arial, Helvetica, sans-serif">570</text>
<line x1="1935.8" y1="1585.7" x2="1935.8" y2="1599.7" stroke="#4d4d4d" stroke-width="2.2"/>
<line x1="2050.8" y1="1585.7" x2="2050.8" y2="1613.7" stroke="#4d4d4d" stroke-width="2.2"/>
<text x="2050.8" y="1682.7" font-size="62.8" letter-spacing="-1.3" text-anchor="middle" font-family="Liberation Sans, Arial, Helvetica, sans-serif">580</text>
<line x1="2165.9" y1="1585.7" x2="2165.9" y2="1599.7" stroke="#4d4d4d" stroke-width="2.2"/>
<line x1="2281.0" y1="1585.7" x2="2281.0" y2="1613.7" stroke="#4d4d4d" stroke-width="2.2"/>
<text x="2281.0" y="1682.7" font-size="62.8" letter-spacing="-1.3" text-anchor="middle" font-family="Liberation Sans, Arial, Helvetica, sans-serif">590</text>
<text x="1822.1" y="1798.0" font-size="65.5" letter-spacing="1.25" text-anchor="middle" font-family="Liberation Sans, Arial, Helvetica, sans-serif">Excitation Energy (eV)</text>
<text transform="translate(1278.6,829.5) rotate(-90) scale(1,1.125)" font-size="65.5" letter-spacing="1.15" text-anchor="middle" font-family="Liberation Sans, Arial, Helvetica, sans-serif">Intensity</text>
<text x="1376.6" y="157.1" font-size="75" letter-spacing="2.0" font-family="Liberation Sans, Arial, Helvetica, sans-serif">(b)</text>
<text x="2239.1" y="175.6" font-size="75.5" letter-spacing="1.0" text-anchor="end" font-family="Liberation Sans, Arial, Helvetica, sans-serif">CrPc</text>
<text x="1804.2" y="273.5" font-size="76" font-family="Liberation Sans, Arial, Helvetica, sans-serif">L</text>
<text x="1846.5" y="242.0" font-size="49" font-family="Liberation Sans, Arial, Helvetica, sans-serif">1</text>
<text x="1846.5" y="294.2" font-size="49" font-family="Liberation Sans, Arial, Helvetica, sans-serif">3</text>
<text x="1766.7" y="242.0" font-size="47" fill="#333" font-family="DejaVu Sans, sans-serif">&#8869;</text>
<text x="2012.6" y="505.3" font-size="76" font-family="Liberation Sans, Arial, Helvetica, sans-serif">L</text>
<text x="2054.9" y="526.0" font-size="49" font-family="Liberation Sans, Arial, Helvetica, sans-serif">2</text>
<text x="1746.6" y="760.2" font-size="76" font-family="Liberation Sans, Arial, Helvetica, sans-serif">L</text>
<text x="1788.9" y="728.7" font-size="49" font-family="Liberation Sans, Arial, Helvetica, sans-serif">1</text>
<text x="1788.9" y="780.9" font-size="49" font-family="Liberation Sans, Arial, Helvetica, sans-serif">3</text>
<text x="1718.6" y="728.7" font-size="49" font-family="Liberation Sans, Arial, Helvetica, sans-serif">II</text>
<text x="1934.7" y="1009.7" font-size="76" font-family="Liberation Sans, Arial, Helvetica, sans-serif">L</text>
<text x="1977.0" y="978.2" font-size="49" font-family="Liberation Sans, Arial, Helvetica, sans-serif">2</text>
<text x="1977.0" y="1030.4" font-size="49" font-family="Liberation Sans, Arial, Helvetica, sans-serif">3</text>
<text x="1897.2" y="978.2" font-size="47" fill="#333" font-family="DejaVu Sans, sans-serif">&#8869;</text>
<text x="1942.5" y="1185.0" font-size="76" font-family="Liberation Sans, Arial, Helvetica, sans-serif">L</text>
<text x="1984.8" y="1153.5" font-size="49" font-family="Liberation Sans, Arial, Helvetica, sans-serif">2</text>
<text x="1984.8" y="1205.7" font-size="49" font-family="Liberation Sans, Arial, Helvetica, sans-serif">3</text>
<text x="1914.5" y="1153.5" font-size="49" font-family="Liberation Sans, Arial, Helvetica, sans-serif">II</text>
</g>
<g id="panel-c">
<clipPath id="clip-c"><rect x="185.7" y="1949.6" width="921.5" height="1515.1"/></clipPath>
<g clip-path="url(#clip-c)">
<path d="M318.2 3452.7 L319.2 3452.5 L320.2 3452.2 L321.2 3451.9 L322.2 3451.6 L323.2 3451.2 L324.2 3450.9 L325.2 3450.5 L326.2 3450.1 L327.2 3449.7 L328.2 3449.2 L329.1 3448.8 L329.2 3448.8 L330.2 3448.3 L331.2 3447.7 L332.2 3447.1 L333.2 3446.5 L334.2 3445.8 L335.2 3445.2 L336.2 3444.5 L337.2 3443.8 L338.2 3443.1 L339.2 3442.4 L340.0 3441.8 L340.2 3441.7 L341.2 3441.0 L342.2 3440.3 L343.2 3439.5 L344.2 3438.8 L345.2 3438.1 L346.2 3437.3 L347.2 3436.6 L348.2 3435.8 L349.2 3435.1 L350.2 3434.3 L351.2 3433.6 L351.7 3433.2 L352.2 3432.8 L353.2 3432.1 L354.2 3431.4 L355.2 3430.7 L356.2 3430.0 L357.2 3429.3 L358.2 3428.5 L359.2 3427.8 L360.2 3427.0 L361.2 3426.2 L362.2 3425.4 L363.2 3424.5 L364.2 3423.6 L365.2 3422.7 L366.2 3421.8 L367.2 3420.8 L368.2 3419.8 L369.2 3418.8 L370.2 3417.7 L371.2 3416.7 L372.2 3415.6 L373.2 3414.5 L373.9 3413.7 L374.2 3413.4 L375.2 3412.2 L376.2 3411.1 L377.2 3410.0 L378.2 3408.8 L379.2 3407.5 L380.2 3406.2 L381.2 3404.8 L382.2 3403.3 L382.5 3402.8 L383.2 3401.7 L384.2 3399.9 L385.2 3398.1 L386.2 3396.0 L387.2 3393.5 L388.2 3390.7 L388.3 3390.4 L389.2 3387.0 L390.2 3382.2 L391.2 3376.6 L391.5 3374.8 L392.2 3370.1 L393.2 3362.5 L393.4 3361.1 L394.2 3355.6 L395.2 3348.9 L395.4 3347.5 L396.2 3342.2 L397.2 3334.8 L397.3 3333.9 L398.2 3323.8 L398.5 3320.2 L399.2 3311.9 L399.6 3306.6 L400.2 3296.6 L400.4 3293.0 L401.2 3277.4 L402.0 3250.1 L402.2 3243.4 L402.8 3222.9 L403.2 3207.7 L403.5 3195.6 L404.2 3165.4 L404.3 3160.0 L405.1 3100.0 L405.2 3093.0 L406.0 3040.0 L406.2 3026.5 L407.0 2972.7 L407.2 2959.7 L408.0 2910.0 L408.2 2898.4 L409.0 2855.8 L409.2 2847.2 L410.2 2810.4 L410.5 2800.0 L411.2 2775.5 L412.0 2750.0 L412.2 2744.4 L413.2 2719.6 L414.0 2700.0 L414.2 2695.1 L415.2 2671.5 L415.6 2656.4 L416.2 2599.9 L416.4 2578.5 L417.2 2500.6 L418.0 2442.2 L418.2 2434.9 L418.9 2418.8 L419.2 2416.3 L420.2 2410.9 L420.7 2410.2 L421.2 2410.4 L422.2 2411.6 L423.2 2413.5 L424.2 2415.5 L424.5 2416.0 L425.2 2417.3 L426.2 2419.5 L427.2 2421.5 L428.2 2422.6 L428.5 2422.7 L429.2 2422.2 L430.2 2419.8 L431.2 2415.8 L432.2 2410.9 L433.2 2405.4 L434.2 2399.8 L434.3 2399.3 L435.2 2393.8 L436.2 2386.3 L437.2 2377.8 L437.4 2376.0 L438.2 2368.1 L439.2 2356.7 L440.2 2344.8 L441.2 2331.9 L442.1 2321.4 L442.2 2320.4 L443.2 2311.4 L444.1 2305.8 L444.2 2305.4 L445.2 2301.7 L446.2 2298.6 L447.2 2296.6 L448.0 2296.1 L448.2 2296.1 L449.2 2296.7 L450.2 2298.2 L451.2 2300.4 L452.2 2303.4 L453.2 2307.1 L453.8 2309.7 L454.2 2312.5 L455.2 2325.6 L455.7 2333.1 L456.2 2341.0 L457.2 2359.0 L457.7 2368.2 L458.2 2377.4 L459.2 2396.2 L459.6 2403.2 L460.2 2412.8 L461.2 2427.9 L461.6 2434.4 L462.2 2445.2 L463.2 2464.1 L463.5 2469.4 L464.2 2480.4 L465.2 2495.5 L465.5 2500.6 L466.2 2514.3 L467.2 2535.5 L467.4 2539.6 L468.2 2555.2 L469.2 2574.5 L469.4 2578.5 L470.2 2594.9 L471.2 2615.5 L471.3 2617.5 L472.2 2635.0 L473.2 2654.4 L473.3 2656.4 L474.2 2674.9 L475.2 2695.4 L476.2 2715.5 L477.2 2734.6 L477.5 2740.0 L478.2 2751.1 L479.2 2765.9 L479.9 2777.9 L480.2 2784.0 L481.2 2808.6 L482.2 2835.6 L483.0 2855.8 L483.2 2860.5 L484.2 2883.9 L485.2 2905.2 L485.7 2914.3 L486.2 2922.3 L487.2 2936.7 L488.2 2949.2 L488.9 2957.1 L489.2 2960.3 L490.2 2970.9 L491.2 2980.9 L492.2 2990.2 L493.2 2998.3 L494.2 3005.0 L494.7 3007.8 L495.2 3010.2 L496.2 3014.5 L497.2 3018.1 L498.2 3021.3 L499.2 3024.3 L500.2 3027.2 L501.2 3030.4 L502.2 3033.8 L502.5 3035.0 L503.2 3037.8 L504.2 3041.9 L505.2 3046.1 L506.2 3050.4 L507.2 3054.9 L508.2 3059.6 L509.2 3064.5 L510.2 3069.6 L510.3 3070.1 L511.2 3075.0 L512.2 3080.9 L513.2 3087.1 L514.2 3093.4 L515.2 3099.7 L516.1 3105.2 L516.2 3105.8 L517.2 3111.8 L518.2 3117.7 L519.2 3123.6 L520.2 3129.5 L521.2 3135.4 L522.0 3140.2 L522.2 3141.4 L523.2 3147.7 L524.2 3154.3 L525.2 3160.8 L526.2 3166.9 L527.2 3172.4 L527.8 3175.3 L528.2 3177.1 L529.2 3181.4 L530.2 3185.5 L531.2 3189.3 L532.2 3192.9 L533.2 3196.2 L534.2 3199.1 L535.2 3201.7 L535.6 3202.6 L536.2 3203.9 L537.2 3206.0 L538.2 3208.0 L539.2 3209.8 L540.2 3211.6 L541.2 3213.1 L542.2 3214.6 L543.2 3215.9 L544.2 3217.0 L545.2 3218.0 L545.3 3218.1 L546.2 3218.9 L547.2 3219.8 L548.2 3220.7 L549.2 3221.5 L550.2 3222.3 L551.2 3223.0 L552.2 3223.6 L553.2 3224.2 L554.2 3224.6 L555.2 3225.0 L556.2 3225.2 L557.0 3225.2 L557.2 3225.2 L558.2 3225.2 L559.2 3225.1 L560.2 3225.1 L561.2 3225.0 L562.2 3224.9 L563.2 3224.8 L564.2 3224.7 L565.2 3224.6 L566.2 3224.4 L567.2 3224.2 L568.2 3224.1 L568.7 3224.0 L569.2 3223.9 L570.2 3223.6 L571.2 3223.1 L572.2 3222.5 L573.2 3221.9 L574.2 3221.2 L575.2 3220.5 L576.2 3219.9 L577.2 3219.3 L578.2 3218.7 L579.2 3218.4 L580.2 3218.1 L580.4 3218.1 L581.2 3218.0 L582.2 3217.9 L583.2 3217.9 L584.2 3217.8 L585.2 3217.8 L586.2 3217.7 L587.2 3217.7 L588.2 3217.6 L589.2 3217.6 L590.2 3217.5 L591.2 3217.5 L592.1 3217.4 L592.2 3217.4 L593.2 3217.3 L594.2 3217.2 L595.2 3217.2 L596.2 3217.1 L597.2 3217.0 L598.2 3216.9 L599.2 3216.8 L600.2 3216.7 L601.2 3216.6 L602.2 3216.4 L603.2 3216.3 L603.8 3216.2 L604.2 3216.1 L605.2 3215.9 L606.2 3215.6 L607.2 3215.2 L608.2 3214.8 L609.2 3214.3 L610.2 3213.9 L611.2 3213.4 L612.2 3212.9 L613.2 3212.4 L613.5 3212.3 L614.2 3212.0 L615.2 3211.5 L616.2 3211.1 L617.2 3210.6 L618.2 3210.1 L619.2 3209.6 L620.2 3209.1 L621.2 3208.6 L622.2 3208.1 L623.2 3207.5 L624.2 3207.0 L625.2 3206.4 L626.2 3205.8 L627.2 3205.3 L628.2 3204.8 L629.2 3204.3 L630.2 3203.7 L631.2 3203.2 L632.2 3202.6 L633.2 3201.9 L634.2 3201.1 L635.2 3200.3 L636.2 3199.3 L636.9 3198.6 L637.2 3198.3 L638.2 3196.8 L639.2 3195.1 L640.2 3192.9 L641.2 3190.4 L642.2 3187.6 L643.2 3184.5 L644.2 3181.0 L644.7 3179.2 L645.2 3177.1 L646.2 3171.9 L647.2 3165.5 L648.2 3158.2 L649.2 3150.4 L650.2 3142.5 L650.5 3140.2 L651.2 3134.5 L652.2 3125.6 L653.2 3116.3 L654.2 3107.0 L654.4 3105.2 L655.2 3097.9 L656.2 3088.8 L657.2 3079.7 L658.2 3070.9 L658.3 3070.1 L659.2 3062.6 L660.2 3054.5 L661.2 3046.6 L662.2 3039.0 L663.2 3031.4 L664.2 3023.8 L665.2 3016.9 L666.1 3011.7 L666.2 3011.2 L667.2 3006.9 L668.2 3003.2 L669.2 2999.6 L670.0 2996.1 L670.2 2995.1 L671.2 2989.5 L672.2 2983.1 L673.2 2976.8 L673.9 2972.7 L674.2 2971.1 L675.2 2965.9 L676.2 2961.0 L677.2 2956.2 L677.8 2953.2 L678.2 2951.2 L679.2 2946.0 L680.2 2940.9 L681.2 2936.0 L681.7 2933.7 L682.2 2931.4 L683.2 2926.9 L684.2 2922.4 L685.2 2918.2 L686.2 2914.4 L687.2 2911.2 L687.5 2910.4 L688.2 2908.5 L689.2 2905.8 L690.2 2903.2 L691.2 2900.7 L692.2 2898.3 L693.2 2896.3 L694.2 2894.6 L695.2 2893.3 L696.2 2892.4 L697.1 2892.2 L697.2 2892.2 L698.2 2892.2 L699.2 2892.4 L700.2 2892.6 L701.2 2892.8 L702.2 2893.2 L703.2 2893.6 L704.2 2894.1 L705.2 2894.7 L706.2 2895.4 L707.2 2896.1 L708.2 2896.9 L709.2 2897.8 L710.1 2898.7 L710.2 2898.8 L711.2 2901.0 L712.2 2904.5 L713.2 2908.5 L714.0 2911.7 L714.2 2912.5 L715.2 2916.5 L716.2 2920.9 L717.2 2925.1 L717.5 2926.3 L718.2 2929.0 L719.2 2932.8 L720.2 2936.5 L721.2 2940.2 L721.4 2940.9 L722.2 2943.8 L723.2 2947.3 L724.2 2950.9 L725.2 2955.0 L725.3 2955.5 L726.2 2960.2 L727.2 2966.1 L727.9 2970.1 L728.2 2971.7 L729.2 2976.7 L730.2 2981.6 L730.5 2983.1 L731.2 2986.6 L732.2 2991.7 L733.2 2996.7 L733.4 2997.7 L734.2 3001.5 L735.2 3006.3 L736.0 3010.7 L736.2 3012.0 L737.2 3019.8 L737.9 3025.3 L738.2 3027.4 L739.2 3033.8 L739.9 3038.3 L740.2 3040.3 L741.2 3047.3 L741.9 3051.9 L742.2 3053.8 L743.2 3059.7 L744.2 3065.3 L745.2 3070.8 L746.2 3076.0 L746.8 3078.9 L747.2 3080.7 L748.2 3084.8 L749.2 3088.7 L750.0 3091.9 L750.2 3092.7 L751.2 3097.2 L752.2 3101.7 L753.2 3105.8 L754.2 3109.4 L755.2 3112.6 L756.2 3115.8 L757.1 3118.8 L757.2 3119.1 L758.2 3122.6 L759.2 3126.0 L760.2 3129.6 L761.0 3132.5 L761.2 3133.3 L762.2 3137.3 L763.2 3141.3 L764.2 3145.1 L764.3 3145.5 L765.2 3148.5 L766.2 3151.6 L767.2 3154.5 L768.2 3157.5 L768.5 3158.4 L769.2 3160.6 L770.2 3163.8 L771.2 3167.0 L772.2 3170.0 L772.7 3171.4 L773.2 3172.7 L774.2 3175.2 L775.2 3177.5 L776.2 3179.8 L777.2 3181.9 L777.3 3182.1 L778.2 3183.9 L779.2 3185.9 L780.2 3187.8 L781.2 3189.6 L782.2 3191.4 L782.5 3191.9 L783.2 3193.1 L784.2 3194.8 L785.2 3196.5 L786.2 3198.2 L787.2 3199.8 L788.2 3201.2 L789.2 3202.4 L789.6 3202.9 L790.2 3203.5 L791.2 3204.6 L792.2 3205.5 L793.2 3206.4 L794.2 3207.2 L795.2 3208.0 L796.2 3208.7 L797.2 3209.4 L798.2 3210.1 L798.7 3210.4 L799.2 3210.7 L800.2 3211.4 L801.2 3212.1 L802.2 3212.8 L803.2 3213.5 L804.2 3214.1 L805.2 3214.6 L806.2 3215.0 L807.2 3215.2 L808.1 3215.3 L808.2 3215.3 L809.2 3215.3 L810.2 3215.3 L811.2 3215.3 L812.2 3215.3 L813.2 3215.3 L814.2 3215.3 L815.2 3215.3 L816.2 3215.3 L817.2 3215.3 L818.2 3215.3 L819.2 3215.3 L820.2 3215.3 L820.5 3215.3 L821.2 3215.3 L822.2 3215.2 L823.2 3215.1 L824.2 3214.9 L825.2 3214.7 L826.2 3214.4 L827.2 3214.1 L828.2 3213.8 L829.2 3213.5 L830.2 3213.2 L831.2 3212.9 L831.8 3212.7 L832.2 3212.6 L833.2 3212.2 L834.2 3211.9 L835.2 3211.5 L836.2 3211.1 L837.2 3210.6 L838.2 3210.2 L839.2 3209.7 L840.2 3209.2 L841.2 3208.6 L842.2 3208.1 L843.2 3207.5 L844.2 3206.8 L845.2 3206.1 L846.2 3205.3 L847.2 3204.5 L848.2 3203.7 L849.2 3202.9 L850.2 3202.1 L851.2 3201.3 L852.2 3200.5 L852.9 3200.0 L853.2 3199.8 L854.2 3199.0 L855.2 3198.2 L856.2 3197.4 L857.2 3196.6 L858.2 3195.8 L859.2 3195.1 L860.2 3194.4 L861.2 3193.9 L862.2 3193.6 L862.7 3193.5 L863.2 3193.4 L864.2 3193.3 L865.2 3193.2 L866.2 3193.1 L867.2 3193.0 L868.2 3193.0 L869.2 3192.9 L870.2 3192.9 L871.2 3192.8 L872.2 3192.7 L873.2 3192.6 L874.0 3192.5 L874.2 3192.5 L875.2 3192.3 L876.2 3192.1 L877.2 3191.8 L878.2 3191.5 L879.2 3191.2 L880.2 3190.8 L881.2 3190.4 L882.2 3190.1 L883.2 3189.7 L884.2 3189.4 L884.4 3189.3 L885.2 3189.0 L886.2 3188.6 L887.2 3188.2 L888.2 3187.7 L889.2 3187.3 L890.2 3186.8 L891.2 3186.4 L892.2 3186.0 L893.2 3185.6 L894.2 3185.4 L895.2 3185.2 L895.8 3185.1 L896.2 3185.1 L897.2 3185.0 L898.2 3184.9 L899.2 3184.8 L900.2 3184.7 L901.2 3184.7 L902.2 3184.6 L903.2 3184.6 L904.2 3184.5 L905.2 3184.5 L906.2 3184.5 L907.2 3184.4 L908.2 3184.4 L909.2 3184.4 L909.7 3184.4 L910.2 3184.4 L911.2 3184.4 L912.2 3184.4 L913.2 3184.4 L914.2 3184.4 L915.2 3184.4 L916.2 3184.4 L917.2 3184.4 L918.2 3184.4 L919.2 3184.4 L920.2 3184.4 L921.2 3184.4 L922.2 3184.4 L923.2 3184.4 L923.7 3184.4 L924.2 3184.4 L925.2 3184.4 L926.2 3184.5 L927.2 3184.6 L928.2 3184.7 L929.2 3184.8 L930.2 3184.9 L931.2 3185.0 L932.2 3185.2 L933.2 3185.3 L934.2 3185.5 L935.2 3185.7 L936.2 3185.8 L937.2 3186.0 L937.3 3186.0 L938.2 3186.2 L939.2 3186.3 L940.2 3186.6 L941.2 3186.8 L942.2 3187.0 L943.2 3187.3 L944.2 3187.5 L945.2 3187.8 L946.2 3188.0 L947.2 3188.2 L948.2 3188.4 L949.2 3188.6 L949.4 3188.6 L950.2 3188.7 L951.2 3188.8 L952.2 3188.9 L953.2 3189.0 L954.2 3189.1 L955.2 3189.2 L956.2 3189.3 L957.2 3189.4 L958.2 3189.5 L959.2 3189.6 L960.2 3189.7 L961.2 3189.8 L961.7 3189.9 L962.2 3190.0 L963.2 3190.2 L964.2 3190.5 L965.2 3190.8 L966.2 3191.2 L967.2 3191.6 L968.2 3192.0 L969.2 3192.5 L970.2 3192.9 L971.2 3193.3 L972.2 3193.7 L973.2 3194.1 L974.2 3194.4 L975.2 3194.7 L975.6 3194.8 L976.2 3194.9 L977.2 3195.1 L978.2 3195.3 L979.2 3195.5 L980.2 3195.6 L981.2 3195.7 L982.2 3195.9 L983.2 3196.0 L984.2 3196.2 L985.2 3196.3 L986.2 3196.5 L987.2 3196.7 L987.7 3196.8 L988.2 3196.9 L989.2 3197.2 L990.2 3197.5 L991.2 3197.8 L992.2 3198.1 L993.2 3198.5 L994.2 3198.9 L995.2 3199.2 L996.2 3199.6 L997.2 3200.0 L998.2 3200.3 L999.0 3200.6 L999.2 3200.7 L1000.2 3201.0 L1001.2 3201.3 L1002.2 3201.6 L1003.2 3201.9 L1004.2 3202.2 L1005.2 3202.5 L1006.2 3202.8 L1007.2 3203.2 L1008.2 3203.5 L1009.2 3203.8 L1009.4 3203.9 L1010.2 3204.2 L1011.2 3204.6 L1012.2 3205.0 L1013.2 3205.4 L1014.2 3205.8 L1015.2 3206.2 L1016.2 3206.6 L1017.2 3207.0 L1018.2 3207.4 L1019.2 3207.8 L1020.1 3208.1 L1020.2 3208.1 L1021.2 3208.5 L1022.2 3208.8 L1023.2 3209.2 L1024.2 3209.5 L1025.2 3209.8 L1026.2 3210.1 L1027.2 3210.4 L1028.2 3210.7 L1029.2 3210.9 L1030.2 3211.2 L1031.2 3211.4 L1031.5 3211.4 L1032.2 3211.5 L1033.2 3211.6 L1034.2 3211.8 L1035.2 3211.9 L1036.2 3212.0 L1037.2 3212.1 L1038.2 3212.2 L1039.2 3212.2 L1040.2 3212.3 L1041.2 3212.4 L1042.2 3212.5 L1043.2 3212.6 L1043.8 3212.7 L1044.2 3212.7 L1045.2 3212.9 L1046.2 3213.0 L1047.2 3213.1 L1048.2 3213.3 L1049.2 3213.4 L1050.2 3213.5 L1051.2 3213.7 L1052.2 3213.8 L1053.2 3214.0 L1054.2 3214.2 L1054.9 3214.3 L1055.2 3214.4 L1056.2 3214.6 L1057.2 3214.8 L1058.2 3215.0 L1059.2 3215.2 L1060.2 3215.5 L1061.2 3215.8 L1062.2 3216.1 L1063.2 3216.4 L1064.2 3216.7 L1065.2 3217.0 L1066.2 3217.4 L1066.6 3217.5 L1067.2 3217.7 L1068.2 3218.1 L1069.2 3218.6 L1070.2 3219.1 L1071.2 3219.7 L1072.2 3220.2 L1073.2 3220.8 L1074.2 3221.4 L1075.2 3221.9 L1076.2 3222.5 L1077.2 3223.0 L1077.9 3223.4 L1078.2 3223.6 L1079.2 3224.1 L1080.2 3224.7 L1081.2 3225.4 L1082.2 3226.0 L1083.2 3226.7 L1084.2 3227.2 L1085.2 3227.7 L1086.2 3228.0 L1087.2 3228.2 L1087.7 3228.2 L1088.2 3228.2 L1089.2 3228.2 L1090.2 3228.2 L1091.2 3228.2 L1092.2 3228.2 L1093.2 3228.1 L1094.2 3228.1 L1095.2 3228.1 L1096.2 3228.0 L1097.2 3227.9 L1098.2 3227.8 L1099.2 3227.7 L1100.2 3227.6 L1101.2 3227.4 L1102.0 3227.3" fill="none" stroke="#ff0000" stroke-width="7.5" stroke-linecap="round" stroke-dasharray="0.01 13.4" stroke-linejoin="round"/>
<path d="M280.4 3434.0 L281.4 3436.3 L282.4 3438.5 L283.4 3440.6 L284.4 3442.4 L285.4 3444.0 L286.4 3445.2 L287.1 3445.7 L287.4 3445.9 L288.4 3446.4 L289.4 3446.9 L290.4 3447.4 L291.4 3447.8 L292.4 3448.2 L293.4 3448.5 L294.4 3448.8 L295.4 3449.1 L296.4 3449.3 L297.4 3449.4 L298.4 3449.5 L299.4 3449.6 L299.9 3449.6 L300.4 3449.6 L301.4 3449.5 L302.4 3449.4 L303.4 3449.3 L304.4 3449.0 L305.4 3448.8 L306.4 3448.5 L307.4 3448.2 L308.4 3447.9 L309.4 3447.6 L310.4 3447.2 L311.4 3446.9 L311.6 3446.8 L312.4 3446.5 L313.4 3445.9 L314.4 3445.3 L315.4 3444.6 L316.4 3443.8 L317.4 3443.1 L318.4 3442.4 L319.4 3441.8 L320.4 3441.3 L321.4 3441.0 L322.4 3440.8 L323.4 3440.6 L324.4 3440.5 L325.4 3440.4 L326.4 3440.2 L327.4 3440.2 L328.4 3440.1 L329.4 3440.0 L330.4 3439.9 L331.4 3439.8 L332.4 3439.7 L333.4 3439.6 L334.4 3439.4 L335.4 3439.3 L336.2 3439.1 L336.4 3439.1 L337.4 3438.8 L338.4 3438.4 L339.4 3438.0 L340.4 3437.6 L341.4 3437.0 L342.4 3436.5 L343.4 3435.9 L344.4 3435.3 L345.4 3434.7 L346.4 3434.2 L346.7 3434.0 L347.4 3433.6 L348.4 3433.0 L349.4 3432.4 L350.4 3431.8 L351.4 3431.2 L352.4 3430.5 L353.4 3429.8 L354.4 3429.1 L355.4 3428.4 L356.4 3427.7 L357.4 3427.0 L358.4 3426.2 L359.4 3425.4 L360.4 3424.6 L361.4 3423.7 L362.4 3422.8 L363.4 3421.9 L364.4 3421.0 L365.4 3420.1 L366.4 3419.1 L367.4 3418.2 L368.1 3417.6 L368.4 3417.3 L369.4 3416.5 L370.4 3415.7 L371.4 3414.9 L372.4 3414.1 L373.4 3413.3 L374.4 3412.3 L375.4 3411.3 L376.4 3410.2 L376.7 3409.8 L377.4 3408.9 L378.4 3407.4 L379.4 3405.7 L380.4 3403.8 L381.4 3401.5 L382.4 3398.9 L382.9 3397.4 L383.4 3395.5 L384.4 3390.4 L385.4 3384.5 L385.6 3383.3 L386.4 3378.7 L387.4 3372.4 L387.6 3370.9 L388.4 3364.1 L389.1 3357.2 L389.4 3354.1 L390.3 3343.6 L390.4 3342.2 L391.1 3330.0 L391.4 3324.8 L391.9 3314.4 L392.4 3293.9 L392.6 3287.1 L393.4 3273.5 L394.2 3246.2 L394.4 3240.7 L395.4 3217.0 L396.4 3192.6 L396.5 3189.7 L397.3 3160.0 L397.4 3156.5 L398.4 3123.5 L398.5 3120.0 L399.3 3089.6 L399.4 3084.9 L400.4 3031.2 L401.4 2999.7 L402.4 2972.7 L403.4 2940.4 L404.3 2914.3 L404.4 2911.9 L405.4 2887.4 L406.4 2868.4 L407.0 2863.6 L407.4 2862.8 L408.4 2861.1 L409.4 2860.0 L410.4 2859.2 L411.4 2858.6 L412.4 2858.0 L413.4 2857.3 L414.4 2856.3 L414.8 2855.8 L415.4 2855.0 L416.4 2853.6 L417.4 2852.1 L418.4 2850.2 L419.4 2847.9 L420.4 2845.1 L420.7 2844.1 L421.4 2840.8 L422.4 2833.3 L423.4 2823.3 L424.4 2811.6 L424.6 2809.1 L425.4 2798.0 L426.4 2780.0 L427.3 2758.4 L427.4 2755.4 L428.4 2712.3 L428.5 2707.8 L429.4 2665.3 L429.6 2656.4 L430.4 2624.3 L431.4 2586.4 L431.6 2578.5 L432.4 2544.6 L433.4 2504.1 L433.5 2500.6 L434.4 2471.2 L435.1 2453.9 L435.4 2448.3 L436.4 2431.6 L437.4 2422.7 L438.4 2420.1 L439.4 2418.4 L440.2 2418.0 L440.4 2418.0 L441.4 2418.5 L442.4 2419.6 L443.4 2421.1 L444.4 2423.0 L445.2 2424.6 L445.4 2425.1 L446.4 2429.6 L447.4 2435.9 L448.4 2442.1 L449.4 2446.2 L449.9 2446.8 L450.4 2446.7 L451.4 2446.2 L452.4 2445.1 L453.4 2443.6 L454.4 2441.6 L455.4 2439.1 L455.7 2438.3 L456.4 2434.8 L457.4 2425.8 L457.7 2422.7 L458.4 2412.8 L459.4 2394.8 L459.6 2391.5 L460.4 2379.0 L461.4 2363.6 L461.6 2360.4 L462.4 2346.8 L463.4 2330.6 L463.5 2329.2 L464.4 2318.1 L465.4 2307.3 L466.3 2298.0 L466.4 2296.9 L467.4 2286.7 L468.4 2276.8 L469.4 2266.9 L470.4 2256.4 L471.4 2245.8 L472.4 2236.5 L472.5 2235.7 L473.4 2228.5 L474.4 2221.6 L475.2 2218.2 L475.4 2217.7 L476.4 2215.4 L477.4 2213.6 L478.4 2212.5 L479.1 2212.3 L479.4 2212.4 L480.4 2214.6 L481.4 2218.9 L482.4 2224.4 L483.0 2227.9 L483.4 2230.7 L484.4 2240.5 L485.4 2251.9 L485.7 2255.2 L486.4 2262.7 L487.4 2274.0 L488.1 2282.5 L488.4 2286.5 L489.4 2301.0 L490.0 2309.7 L490.4 2315.2 L491.4 2328.5 L492.0 2337.0 L492.4 2343.2 L493.4 2360.0 L493.9 2368.2 L494.4 2376.1 L495.4 2391.4 L495.9 2399.3 L496.4 2407.4 L497.4 2424.0 L497.8 2430.5 L498.4 2439.9 L499.4 2455.3 L499.8 2461.6 L500.4 2471.4 L501.4 2487.9 L501.7 2492.8 L502.4 2503.8 L503.4 2519.3 L503.7 2524.0 L504.4 2535.4 L505.4 2551.9 L505.6 2555.1 L506.4 2567.6 L507.4 2583.1 L507.6 2586.3 L508.4 2599.5 L509.4 2615.9 L509.5 2617.5 L510.4 2630.5 L511.4 2644.4 L512.2 2656.4 L512.4 2659.7 L513.4 2677.8 L514.4 2696.5 L514.6 2700.0 L515.4 2713.6 L516.4 2729.9 L517.4 2746.3 L518.1 2758.4 L518.4 2763.8 L519.4 2783.1 L520.4 2802.1 L520.8 2809.1 L521.4 2819.0 L522.4 2834.5 L523.4 2849.0 L523.9 2855.8 L524.4 2862.3 L525.4 2874.6 L526.4 2886.3 L527.4 2897.9 L527.8 2902.6 L528.4 2909.9 L529.4 2922.2 L530.4 2934.4 L531.4 2946.0 L531.7 2949.3 L532.4 2956.8 L533.4 2967.0 L534.4 2976.8 L535.4 2986.4 L535.6 2988.3 L536.4 2995.9 L537.4 3005.2 L538.4 3014.2 L539.4 3022.5 L539.5 3023.3 L540.4 3030.1 L541.4 3037.3 L542.4 3044.0 L543.4 3050.6 L544.4 3057.0 L545.4 3063.1 L546.4 3069.1 L547.4 3075.0 L548.4 3080.9 L549.2 3085.7 L549.4 3086.9 L550.4 3093.0 L551.4 3099.2 L552.4 3105.3 L553.4 3111.3 L554.4 3117.0 L555.1 3120.7 L555.4 3122.2 L556.4 3127.2 L557.4 3131.9 L558.4 3136.5 L559.4 3140.9 L560.4 3145.2 L561.4 3149.5 L562.4 3153.7 L562.9 3155.8 L563.4 3157.9 L564.4 3162.1 L565.4 3166.2 L566.4 3170.3 L567.4 3174.3 L568.4 3178.2 L569.4 3182.1 L570.4 3185.9 L570.7 3187.0 L571.4 3189.6 L572.4 3193.4 L573.4 3197.1 L574.4 3200.7 L575.4 3204.3 L576.4 3207.7 L577.4 3210.9 L578.4 3213.9 L578.5 3214.2 L579.4 3216.8 L580.4 3219.6 L581.4 3222.4 L582.4 3225.0 L583.4 3227.6 L584.4 3230.0 L585.4 3232.3 L586.4 3234.4 L587.4 3236.3 L588.2 3237.6 L588.4 3237.9 L589.4 3239.5 L590.4 3241.2 L591.4 3242.8 L592.4 3244.3 L593.4 3245.8 L594.4 3247.2 L595.4 3248.4 L596.4 3249.4 L597.4 3250.3 L598.4 3250.9 L599.4 3251.2 L599.9 3251.2 L600.4 3251.2 L601.4 3251.2 L602.4 3251.1 L603.4 3251.0 L604.4 3250.9 L605.4 3250.7 L606.4 3250.5 L607.4 3250.3 L608.4 3250.1 L609.4 3249.9 L610.4 3249.6 L611.4 3249.4 L611.6 3249.3 L612.4 3249.0 L613.4 3248.5 L614.4 3247.8 L615.4 3247.0 L616.4 3246.0 L617.4 3244.9 L618.4 3243.7 L619.4 3242.4 L620.4 3241.0 L621.4 3239.5 L622.4 3238.0 L623.4 3236.5 L624.4 3234.9 L625.2 3233.7 L625.4 3233.4 L626.4 3231.7 L627.4 3229.9 L628.4 3227.9 L629.4 3225.8 L630.4 3223.5 L631.4 3221.1 L632.4 3218.6 L633.4 3216.0 L634.4 3213.4 L635.4 3210.6 L636.4 3207.8 L636.9 3206.4 L637.4 3205.0 L638.4 3202.1 L639.4 3199.1 L640.4 3195.9 L641.4 3192.7 L642.4 3189.2 L643.4 3185.4 L644.4 3181.4 L645.4 3177.1 L646.4 3172.4 L646.6 3171.4 L647.4 3167.2 L648.4 3161.2 L649.4 3154.4 L650.4 3146.8 L651.4 3138.5 L652.4 3129.4 L652.5 3128.5 L653.4 3118.8 L654.4 3105.9 L655.4 3092.3 L655.6 3089.6 L656.4 3078.0 L657.4 3062.8 L658.3 3050.6 L658.4 3049.4 L659.4 3038.5 L660.4 3028.8 L661.4 3019.4 L662.2 3011.7 L662.4 3009.7 L663.4 2999.7 L664.4 2989.7 L665.4 2979.7 L666.1 2972.7 L666.4 2969.7 L667.4 2959.3 L668.4 2949.0 L669.4 2939.1 L670.0 2933.7 L670.4 2930.3 L671.4 2922.3 L672.4 2914.9 L673.4 2907.7 L674.4 2900.3 L675.1 2894.8 L675.4 2892.4 L676.4 2884.3 L677.4 2876.0 L678.4 2867.4 L679.4 2858.5 L679.7 2855.8 L680.4 2849.2 L681.4 2839.3 L682.4 2829.1 L683.4 2818.9 L683.6 2816.9 L684.4 2808.9 L685.4 2798.9 L686.4 2788.9 L687.4 2778.9 L687.5 2777.9 L688.4 2769.4 L689.4 2760.3 L690.4 2750.6 L691.4 2739.0 L692.4 2724.0 L693.4 2705.0 L694.4 2674.6 L695.3 2652.5 L695.4 2651.5 L696.4 2642.7 L697.4 2636.6 L698.4 2632.1 L699.2 2629.2 L699.4 2628.5 L700.4 2625.1 L701.4 2621.9 L702.4 2618.9 L703.4 2616.3 L704.4 2614.2 L705.4 2612.6 L706.4 2611.7 L707.0 2611.6 L707.4 2611.7 L708.4 2612.8 L709.4 2614.9 L710.4 2617.6 L711.4 2620.7 L712.4 2623.8 L712.9 2625.3 L713.4 2626.8 L714.4 2630.4 L715.4 2634.3 L716.4 2638.5 L717.4 2642.7 L717.9 2644.7 L718.4 2646.7 L719.4 2651.0 L720.4 2655.3 L721.4 2659.5 L722.4 2663.4 L722.6 2664.2 L723.4 2667.1 L724.4 2670.6 L725.4 2673.9 L726.4 2677.2 L727.4 2680.4 L728.4 2683.7 L729.4 2686.9 L730.4 2690.0 L731.4 2693.1 L732.4 2696.3 L733.4 2699.8 L734.3 2703.2 L734.4 2703.6 L735.4 2707.7 L736.4 2712.3 L737.4 2717.6 L738.2 2722.6 L738.4 2724.0 L739.4 2733.2 L740.4 2743.9 L741.0 2750.0 L741.4 2753.8 L742.4 2763.0 L743.4 2772.2 L744.0 2777.9 L744.4 2781.8 L745.4 2791.7 L746.4 2801.8 L747.4 2811.9 L747.9 2816.9 L748.4 2822.0 L749.4 2832.4 L750.4 2842.7 L751.4 2852.3 L751.8 2855.8 L752.4 2860.6 L753.4 2867.9 L753.9 2871.8 L754.4 2876.0 L755.4 2884.9 L755.5 2885.7 L756.4 2893.0 L757.1 2898.7 L757.4 2901.2 L758.4 2909.6 L758.8 2912.7 L759.4 2916.8 L760.4 2923.0 L761.0 2926.9 L761.4 2929.6 L762.4 2936.6 L763.0 2940.9 L763.4 2943.8 L764.4 2951.0 L765.4 2958.3 L765.6 2959.7 L766.4 2965.6 L767.4 2972.7 L767.5 2973.4 L768.4 2979.0 L769.4 2984.9 L769.8 2987.3 L770.4 2991.0 L771.4 2997.0 L772.1 3001.0 L772.4 3002.6 L773.4 3007.3 L774.4 3011.9 L775.0 3014.9 L775.4 3017.0 L776.4 3022.8 L777.3 3027.9 L777.4 3028.4 L778.4 3033.9 L779.4 3039.2 L779.9 3041.6 L780.4 3043.9 L781.4 3048.2 L782.4 3052.3 L783.1 3055.2 L783.4 3056.5 L784.4 3060.9 L785.4 3065.2 L786.4 3069.2 L787.4 3072.7 L788.4 3075.9 L789.4 3079.0 L790.3 3082.1 L790.4 3082.5 L791.4 3086.3 L792.4 3090.4 L793.4 3094.5 L793.8 3096.1 L794.4 3098.5 L795.4 3102.5 L796.4 3106.4 L797.1 3109.1 L797.4 3110.2 L798.4 3113.8 L799.4 3117.3 L800.4 3120.7 L801.0 3122.7 L801.4 3124.0 L802.4 3127.2 L803.4 3130.3 L804.4 3133.3 L805.2 3135.7 L805.4 3136.3 L806.4 3139.3 L807.4 3142.4 L808.4 3145.3 L809.4 3148.0 L809.7 3148.7 L810.4 3150.3 L811.4 3152.5 L812.4 3154.5 L813.4 3156.4 L814.4 3158.3 L815.4 3160.2 L816.2 3161.7 L816.4 3162.1 L817.4 3164.0 L818.4 3166.0 L819.4 3167.9 L820.4 3169.9 L821.4 3171.8 L822.1 3173.1 L822.4 3173.7 L823.4 3175.6 L824.4 3177.5 L825.4 3179.4 L826.4 3181.3 L827.4 3183.1 L827.6 3183.4 L828.4 3184.8 L829.4 3186.5 L830.4 3188.2 L831.4 3189.9 L832.4 3191.4 L833.4 3192.9 L834.4 3194.2 L835.4 3195.4 L836.4 3196.6 L837.4 3197.8 L838.4 3198.9 L839.4 3199.9 L840.4 3200.8 L841.4 3201.7 L842.4 3202.4 L843.2 3202.9 L843.4 3203.0 L844.4 3203.6 L845.4 3204.1 L846.4 3204.5 L847.4 3205.0 L848.4 3205.4 L849.4 3205.8 L850.4 3206.1 L851.4 3206.4 L852.4 3206.7 L853.4 3207.0 L853.9 3207.1 L854.4 3207.2 L855.4 3207.5 L856.4 3207.7 L857.4 3207.9 L858.4 3208.1 L859.4 3208.3 L860.4 3208.5 L861.4 3208.7 L862.4 3208.9 L863.4 3209.0 L864.4 3209.2 L865.4 3209.3 L866.4 3209.3 L867.4 3209.4 L868.2 3209.4 L868.4 3209.4 L869.4 3209.3 L870.4 3209.2 L871.4 3209.1 L872.4 3208.9 L873.4 3208.6 L874.4 3208.3 L875.4 3208.1 L876.4 3207.8 L877.4 3207.5 L878.4 3207.2 L878.9 3207.1 L879.4 3207.0 L880.4 3206.7 L881.4 3206.4 L882.4 3206.2 L883.4 3205.9 L884.4 3205.6 L885.4 3205.3 L886.4 3205.0 L887.4 3204.7 L888.4 3204.5 L889.4 3204.2 L890.4 3204.0 L890.9 3203.9 L891.4 3203.8 L892.4 3203.6 L893.4 3203.4 L894.4 3203.2 L895.4 3203.0 L896.4 3202.8 L897.4 3202.7 L898.4 3202.5 L899.4 3202.4 L900.4 3202.3 L901.4 3202.3 L901.6 3202.3 L902.4 3202.3 L903.4 3202.3 L904.4 3202.3 L905.4 3202.3 L906.4 3202.3 L907.4 3202.3 L908.4 3202.3 L909.4 3202.3 L910.4 3202.3 L911.4 3202.3 L912.4 3202.3 L913.4 3202.3 L914.4 3202.3 L915.4 3202.3 L915.6 3202.3 L916.4 3202.3 L917.4 3202.2 L918.4 3202.2 L919.4 3202.1 L920.4 3201.9 L921.4 3201.8 L922.4 3201.7 L923.4 3201.6 L924.4 3201.5 L925.4 3201.4 L926.4 3201.3 L927.4 3201.3 L927.6 3201.3 L928.4 3201.3 L929.4 3201.3 L930.4 3201.3 L931.4 3201.3 L932.4 3201.4 L933.4 3201.4 L934.4 3201.4 L935.4 3201.4 L936.4 3201.5 L937.4 3201.5 L938.4 3201.6 L939.0 3201.6 L939.4 3201.6 L940.4 3201.8 L941.4 3202.1 L942.4 3202.5 L943.4 3202.9 L944.4 3203.3 L945.4 3203.8 L946.4 3204.1 L947.4 3204.4 L948.4 3204.5 L948.7 3204.5 L949.4 3204.5 L950.4 3204.5 L951.4 3204.4 L952.4 3204.4 L953.4 3204.3 L954.4 3204.2 L955.4 3204.1 L956.4 3204.0 L957.4 3204.0 L958.4 3203.9 L959.4 3203.9 L960.1 3203.9 L960.4 3203.9 L961.4 3203.9 L962.4 3204.0 L963.4 3204.0 L964.4 3204.1 L965.4 3204.2 L966.4 3204.3 L967.4 3204.4 L968.4 3204.5 L969.4 3204.6 L970.4 3204.8 L971.4 3204.9 L972.4 3205.1 L973.4 3205.3 L974.4 3205.6 L975.4 3206.0 L976.4 3206.3 L977.4 3206.7 L978.4 3207.2 L979.4 3207.6 L980.4 3208.0 L981.4 3208.3 L982.4 3208.7 L982.8 3208.8 L983.4 3209.0 L984.4 3209.3 L985.4 3209.6 L986.4 3209.9 L987.4 3210.2 L988.4 3210.5 L989.4 3210.7 L990.4 3211.0 L991.4 3211.3 L992.4 3211.5 L993.4 3211.7 L994.4 3211.9 L994.8 3212.0 L995.4 3212.1 L996.4 3212.3 L997.4 3212.4 L998.4 3212.6 L999.4 3212.7 L1000.4 3212.8 L1001.4 3213.0 L1002.4 3213.1 L1003.4 3213.2 L1004.4 3213.4 L1005.4 3213.5 L1006.2 3213.6 L1006.4 3213.6 L1007.4 3213.8 L1008.4 3213.9 L1009.4 3214.0 L1010.4 3214.2 L1011.4 3214.3 L1012.4 3214.4 L1013.4 3214.6 L1014.4 3214.7 L1015.4 3214.9 L1016.4 3215.1 L1017.4 3215.3 L1017.5 3215.3 L1018.4 3215.5 L1019.4 3215.9 L1020.4 3216.2 L1021.4 3216.7 L1022.4 3217.1 L1023.4 3217.5 L1024.4 3218.0 L1025.4 3218.4 L1026.4 3218.7 L1027.4 3219.0 L1028.2 3219.2 L1028.4 3219.2 L1029.4 3219.4 L1030.4 3219.6 L1031.4 3219.7 L1032.4 3219.9 L1033.4 3220.0 L1034.4 3220.1 L1035.4 3220.3 L1036.4 3220.4 L1037.4 3220.5 L1038.4 3220.6 L1039.4 3220.6 L1040.4 3220.7 L1041.4 3220.8 L1042.2 3220.8 L1042.4 3220.8 L1043.4 3220.8 L1044.4 3220.9 L1045.4 3220.9 L1046.4 3220.9 L1047.4 3220.9 L1048.4 3221.0 L1049.4 3221.0 L1050.4 3221.0 L1051.4 3221.0 L1052.4 3221.1 L1052.6 3221.1 L1053.4 3221.2 L1054.4 3221.4 L1055.4 3221.6 L1056.4 3221.9 L1057.4 3222.3 L1058.4 3222.7 L1059.4 3223.1 L1060.4 3223.5 L1061.4 3223.9 L1062.4 3224.3 L1063.4 3224.6 L1064.4 3224.8 L1065.4 3225.0 L1066.2 3225.0 L1066.4 3225.0 L1067.4 3225.0 L1068.4 3224.9 L1069.4 3224.8 L1070.4 3224.7 L1071.4 3224.5 L1072.4 3224.4 L1073.4 3224.2 L1074.4 3224.0 L1075.4 3223.8 L1076.4 3223.6 L1077.4 3223.5 L1077.9 3223.4 L1078.4 3223.3 L1079.4 3223.2 L1080.4 3223.0 L1081.4 3222.8 L1082.4 3222.6 L1083.4 3222.4 L1084.4 3222.3 L1085.4 3222.1 L1086.4 3221.9 L1087.4 3221.7 L1088.4 3221.5 L1089.4 3221.3 L1090.4 3221.1 L1090.6 3221.1 L1091.4 3221.0 L1092.4 3220.8 L1093.4 3220.6 L1094.4 3220.4 L1095.4 3220.3 L1096.4 3220.1 L1097.4 3219.9 L1098.4 3219.8 L1099.4 3219.6 L1100.4 3219.5 L1101.4 3219.3 L1102.0 3219.2" fill="none" stroke="#0000ff" stroke-width="7.5" stroke-linecap="round" stroke-dasharray="0.01 13.4" stroke-linejoin="round"/>
<path d="M185.7 3452.2 L350.0 3452.2 L351.0 3452.1 L352.0 3451.9 L353.0 3451.7 L354.0 3451.3 L355.0 3450.8 L356.0 3450.2 L357.0 3449.6 L358.0 3449.0 L358.3 3448.8 L359.0 3448.3 L360.0 3447.3 L361.0 3446.2 L362.0 3444.7 L363.0 3443.0 L364.0 3441.0 L365.0 3438.7 L366.0 3436.0 L367.0 3433.0 L368.0 3429.7 L368.1 3429.3 L369.0 3424.7 L370.0 3416.9 L371.0 3406.5 L372.0 3394.3 L373.0 3376.4 L374.0 3352.7 L374.7 3335.8 L375.0 3328.9 L376.0 3305.8 L377.0 3280.9 L377.8 3257.9 L378.0 3251.6 L379.0 3216.6 L379.8 3180.0 L380.0 3168.6 L381.0 3091.6 L382.0 3000.0 L383.0 2902.7 L384.0 2800.0 L385.0 2690.0 L385.6 2637.0 L386.0 2612.7 L387.0 2565.7 L387.6 2539.6 L388.0 2521.4 L389.0 2477.1 L390.0 2434.9 L390.3 2422.7 L391.0 2394.9 L392.0 2356.6 L393.0 2320.0 L393.4 2305.8 L394.0 2284.0 L395.0 2248.5 L395.8 2226.0 L396.0 2221.5 L396.9 2206.0 L397.0 2205.2 L398.0 2199.6 L398.1 2199.5 L399.0 2203.6 L399.3 2206.0 L400.0 2216.6 L400.4 2226.0 L401.0 2251.2 L402.0 2305.8 L403.0 2345.6 L404.0 2381.5 L405.0 2418.7 L405.1 2422.7 L406.0 2461.3 L407.0 2506.1 L407.8 2539.6 L408.0 2547.3 L409.0 2583.3 L410.0 2617.6 L410.9 2650.0 L411.0 2653.8 L412.0 2692.3 L413.0 2732.6 L414.0 2775.5 L414.1 2780.0 L415.0 2825.3 L416.0 2877.6 L416.5 2900.0 L417.0 2919.8 L418.0 2956.2 L419.0 2987.2 L419.5 3000.0 L420.0 3011.3 L421.0 3031.0 L422.0 3048.1 L423.0 3063.9 L424.0 3079.6 L424.6 3089.6 L425.0 3096.5 L426.0 3114.3 L427.0 3132.2 L428.0 3149.7 L429.0 3166.3 L430.0 3181.4 L430.4 3187.0 L431.0 3195.0 L432.0 3207.7 L433.0 3219.6 L434.0 3230.8 L435.0 3241.1 L436.0 3250.6 L436.3 3253.2 L437.0 3259.7 L438.0 3269.3 L439.0 3277.3 L440.0 3281.4 L440.2 3281.5 L441.0 3280.4 L442.0 3276.5 L443.0 3270.3 L444.0 3262.6 L445.0 3254.1 L446.0 3245.4 L447.0 3235.3 L448.0 3222.7 L449.0 3208.5 L450.0 3193.5 L451.0 3178.6 L451.8 3167.5 L452.0 3164.8 L453.0 3151.0 L454.0 3136.8 L455.0 3122.7 L456.0 3109.3 L457.0 3097.1 L457.7 3089.6 L458.0 3086.6 L459.0 3077.0 L460.0 3068.2 L461.0 3060.2 L462.0 3053.2 L462.4 3050.6 L463.0 3046.7 L464.0 3040.0 L465.0 3034.4 L466.0 3031.4 L466.3 3031.2 L467.0 3031.8 L468.0 3034.2 L469.0 3038.2 L470.0 3043.3 L471.0 3048.9 L471.3 3050.6 L472.0 3055.4 L473.0 3064.4 L474.0 3075.4 L475.0 3087.2 L475.2 3089.6 L476.0 3099.8 L477.0 3113.9 L478.0 3129.2 L479.0 3145.5 L480.0 3162.4 L480.3 3167.5 L481.0 3180.3 L482.0 3200.2 L483.0 3220.3 L484.0 3238.4 L485.0 3254.4 L486.0 3269.5 L487.0 3283.3 L488.0 3295.7 L488.1 3296.9 L489.0 3306.8 L490.0 3317.0 L491.0 3326.4 L492.0 3335.2 L493.0 3343.5 L493.5 3347.5 L494.0 3351.4 L495.0 3359.0 L496.0 3366.4 L497.0 3373.4 L498.0 3380.0 L499.0 3386.1 L500.0 3391.7 L500.5 3394.3 L501.0 3396.8 L502.0 3401.6 L503.0 3406.3 L504.0 3410.6 L505.0 3414.7 L506.0 3418.4 L507.0 3421.7 L508.0 3424.6 L508.3 3425.4 L509.0 3427.1 L510.0 3429.5 L511.0 3431.7 L512.0 3433.8 L513.0 3435.8 L514.0 3437.6 L515.0 3439.2 L516.0 3440.6 L517.0 3441.9 L518.0 3442.9 L518.1 3443.0 L519.0 3443.8 L520.0 3444.7 L521.0 3445.6 L522.0 3446.4 L523.0 3447.2 L524.0 3447.9 L525.0 3448.5 L526.0 3449.0 L527.0 3449.5 L528.0 3449.8 L529.0 3450.0 L529.8 3450.0 L530.0 3450.0 L531.0 3450.0 L532.0 3449.9 L533.0 3449.8 L534.0 3449.7 L535.0 3449.6 L536.0 3449.5 L537.0 3449.3 L538.0 3449.1 L539.0 3448.9 L539.5 3448.8 L540.0 3448.7 L541.0 3448.3 L542.0 3447.8 L543.0 3447.2 L544.0 3446.4 L545.0 3445.6 L546.0 3444.7 L547.0 3443.7 L548.0 3442.7 L549.0 3441.6 L550.0 3440.5 L551.0 3439.3 L551.2 3439.1 L552.0 3438.1 L553.0 3436.5 L554.0 3434.6 L555.0 3432.7 L556.0 3430.7 L557.0 3428.9 L558.0 3427.4 L559.0 3426.2 L560.0 3425.3 L561.0 3424.3 L562.0 3423.5 L563.0 3422.8 L564.0 3422.4 L564.8 3422.3 L565.0 3422.3 L566.0 3422.6 L567.0 3423.2 L568.0 3424.0 L569.0 3425.1 L570.0 3426.2 L571.0 3427.4 L572.0 3428.6 L572.6 3429.3 L573.0 3429.8 L574.0 3431.1 L575.0 3432.6 L576.0 3434.2 L577.0 3435.8 L578.0 3437.3 L579.0 3438.7 L580.0 3439.8 L580.4 3440.2 L581.0 3440.7 L582.0 3441.7 L583.0 3442.5 L584.0 3443.3 L585.0 3443.8 L586.0 3444.1 L586.3 3444.1 L587.0 3444.0 L588.0 3443.5 L589.0 3442.7 L590.0 3441.6 L591.0 3440.2 L592.0 3438.7 L593.0 3437.0 L594.0 3435.2 L595.0 3433.0 L596.0 3430.1 L597.0 3426.6 L598.0 3422.6 L599.0 3418.1 L599.9 3413.7 L600.0 3413.2 L601.0 3407.3 L602.0 3400.2 L603.0 3392.2 L604.0 3383.3 L605.0 3373.8 L605.7 3367.0 L606.0 3364.0 L607.0 3352.8 L608.0 3340.3 L609.0 3327.1 L610.0 3313.8 L610.4 3308.6 L611.0 3300.8 L612.0 3287.4 L613.0 3273.9 L614.0 3260.0 L614.7 3250.1 L615.0 3245.8 L616.0 3230.9 L617.0 3215.7 L618.0 3200.4 L619.0 3185.7 L619.4 3180.0 L620.0 3171.6 L621.0 3157.9 L622.0 3144.7 L623.0 3132.3 L623.2 3130.0 L624.0 3121.5 L625.0 3112.2 L626.0 3102.6 L627.0 3090.9 L627.1 3089.6 L628.0 3074.4 L629.0 3053.1 L630.0 3030.8 L631.0 3011.6 L632.0 2994.0 L633.0 2975.6 L634.0 2959.0 L635.0 2946.8 L636.0 2941.5 L636.1 2941.5 L637.0 2944.8 L638.0 2954.8 L639.0 2969.3 L640.0 2985.9 L641.0 3002.6 L641.6 3011.6 L642.0 3017.3 L643.0 3032.6 L644.0 3048.6 L645.0 3064.9 L646.0 3080.6 L646.6 3089.6 L647.0 3095.4 L648.0 3109.7 L649.0 3123.6 L650.0 3137.1 L651.0 3150.0 L652.0 3162.1 L653.0 3173.7 L654.0 3185.2 L654.4 3190.0 L655.0 3197.2 L656.0 3209.2 L657.0 3221.5 L658.0 3234.4 L658.3 3238.4 L659.0 3248.5 L660.0 3264.1 L661.0 3279.9 L662.0 3294.3 L662.2 3296.9 L663.0 3307.0 L664.0 3319.1 L665.0 3330.2 L666.0 3339.7 L666.5 3343.6 L667.0 3347.3 L668.0 3354.8 L669.0 3360.6 L670.0 3363.0 L671.0 3362.1 L672.0 3359.5 L673.0 3355.5 L674.0 3350.7 L675.0 3345.1 L676.0 3339.3 L676.6 3335.8 L677.0 3333.3 L678.0 3325.4 L679.0 3315.9 L680.0 3305.6 L681.0 3295.6 L681.7 3289.1 L682.0 3286.4 L683.0 3277.1 L684.0 3267.7 L685.0 3258.9 L686.0 3251.1 L686.8 3246.2 L687.0 3245.1 L688.0 3239.7 L689.0 3234.6 L690.0 3230.6 L691.0 3228.4 L691.4 3228.2 L692.0 3228.4 L693.0 3229.9 L694.0 3232.4 L695.0 3235.9 L696.0 3240.0 L697.0 3244.7 L697.3 3246.2 L698.0 3251.0 L699.0 3261.4 L700.0 3274.1 L701.0 3286.8 L701.2 3289.1 L702.0 3298.6 L703.0 3310.9 L704.0 3323.1 L705.0 3334.7 L705.1 3335.8 L706.0 3345.5 L707.0 3355.8 L708.0 3365.6 L709.0 3374.8 L710.0 3383.7 L711.0 3392.2 L712.0 3399.9 L712.9 3405.9 L713.0 3406.5 L714.0 3412.2 L715.0 3417.4 L716.0 3422.1 L717.0 3426.2 L717.9 3429.3 L718.0 3429.6 L719.0 3432.7 L720.0 3435.7 L721.0 3438.4 L722.0 3440.8 L723.0 3442.8 L724.0 3444.3 L724.5 3444.9 L725.0 3445.4 L726.0 3446.3 L727.0 3447.1 L728.0 3447.8 L729.0 3448.4 L730.0 3449.0 L731.0 3449.5 L732.0 3449.9 L733.0 3450.3 L734.0 3450.6 L734.3 3450.7 L735.0 3450.9 L736.0 3451.2 L737.0 3451.4 L738.0 3451.7 L739.0 3451.9 L740.0 3452.0 L741.0 3452.1 L742.0 3452.2 L1107.2 3452.2" fill="none" stroke="#ff0000" stroke-width="7.7" stroke-linejoin="round"/>
<path d="M185.7 3452.2 L352.5 3452.2 L353.5 3452.0 L354.5 3451.5 L355.5 3450.6 L356.5 3449.4 L357.5 3447.8 L358.5 3446.0 L359.5 3443.9 L360.5 3441.6 L361.5 3439.0 L362.2 3437.1 L362.5 3436.1 L363.5 3431.3 L364.5 3424.1 L365.5 3414.9 L366.5 3404.0 L367.3 3394.3 L367.5 3391.5 L368.5 3372.4 L369.5 3348.2 L370.0 3335.8 L370.5 3323.0 L371.5 3294.7 L372.5 3266.0 L372.8 3257.9 L373.5 3240.6 L374.5 3217.1 L375.5 3190.0 L376.5 3155.1 L377.5 3113.9 L378.5 3069.4 L379.5 3024.6 L379.8 3011.6 L380.5 2980.6 L381.5 2934.8 L382.5 2890.5 L383.0 2870.0 L383.5 2850.1 L384.5 2810.8 L385.5 2775.3 L386.4 2750.0 L386.5 2747.7 L387.5 2727.5 L388.5 2710.9 L389.5 2695.4 L390.5 2677.9 L391.5 2659.2 L392.5 2642.7 L393.5 2631.8 L394.2 2629.2 L394.5 2629.8 L395.5 2638.9 L396.5 2655.7 L397.5 2675.9 L398.5 2695.4 L399.5 2713.4 L400.5 2733.5 L401.2 2750.0 L401.5 2758.6 L402.5 2794.4 L403.2 2816.9 L403.5 2824.6 L404.5 2847.8 L405.5 2868.3 L406.5 2887.1 L407.5 2905.2 L408.5 2923.9 L409.0 2933.7 L409.5 2943.8 L410.5 2964.0 L411.5 2984.3 L412.5 3004.6 L413.5 3024.7 L414.5 3044.7 L414.8 3050.6 L415.5 3064.7 L416.5 3085.6 L417.5 3106.6 L418.5 3126.8 L419.5 3145.6 L420.5 3162.0 L420.7 3165.0 L421.5 3176.1 L422.5 3188.9 L423.5 3200.7 L424.5 3211.6 L425.5 3222.0 L426.5 3232.0 L427.5 3241.7 L428.5 3251.0 L429.5 3259.8 L430.5 3268.2 L431.5 3276.2 L432.4 3283.0 L432.5 3283.7 L433.5 3291.7 L434.5 3300.1 L435.5 3308.4 L436.5 3316.0 L437.5 3322.0 L438.5 3326.0 L439.4 3327.3 L439.5 3327.3 L440.5 3325.4 L441.5 3320.9 L442.5 3314.3 L443.5 3306.2 L444.5 3297.3 L445.5 3288.0 L446.5 3277.3 L447.5 3263.8 L448.5 3247.3 L449.1 3236.0 L449.5 3227.4 L450.5 3200.5 L451.5 3167.8 L452.0 3150.0 L452.5 3130.0 L453.5 3081.6 L454.5 3029.2 L455.5 2981.1 L455.7 2972.7 L456.5 2942.0 L457.5 2907.2 L458.5 2873.9 L459.5 2839.8 L459.6 2836.3 L460.5 2802.0 L461.5 2762.7 L462.5 2728.3 L462.8 2720.0 L463.5 2703.6 L464.5 2684.1 L465.5 2665.0 L466.5 2644.6 L467.5 2623.9 L467.8 2617.5 L468.5 2601.3 L469.5 2576.2 L470.5 2553.2 L471.3 2539.6 L471.5 2537.0 L472.5 2523.9 L473.5 2511.7 L474.5 2501.1 L475.5 2493.0 L476.5 2488.1 L477.2 2487.0 L477.5 2487.2 L478.5 2490.9 L479.5 2498.2 L480.5 2508.4 L481.5 2520.3 L482.5 2533.2 L483.0 2539.6 L483.5 2546.8 L484.5 2565.4 L485.5 2587.1 L486.5 2609.2 L486.9 2617.5 L487.5 2629.5 L488.5 2649.4 L489.5 2669.5 L490.5 2690.5 L490.8 2697.0 L491.5 2712.7 L492.5 2736.2 L493.5 2760.5 L494.5 2785.2 L495.5 2809.9 L496.5 2833.9 L496.6 2836.3 L497.5 2857.6 L498.5 2881.3 L499.5 2904.8 L500.5 2928.0 L501.5 2950.7 L502.5 2972.7 L503.5 2993.3 L504.5 3012.5 L505.5 3031.3 L506.5 3050.6 L507.5 3071.4 L508.3 3089.6 L508.5 3094.5 L509.5 3122.5 L510.5 3152.6 L511.5 3180.0 L512.5 3203.6 L513.5 3225.1 L514.2 3238.4 L514.5 3243.7 L515.5 3259.9 L516.5 3274.6 L517.5 3288.6 L518.1 3296.9 L518.5 3302.5 L519.5 3316.3 L520.5 3329.5 L521.5 3341.8 L522.0 3347.5 L522.5 3352.9 L523.5 3363.5 L524.5 3373.5 L525.5 3382.6 L526.5 3390.7 L527.0 3394.3 L527.5 3397.6 L528.5 3403.9 L529.5 3409.7 L530.5 3415.0 L531.5 3419.7 L532.5 3423.9 L532.9 3425.4 L533.5 3427.6 L534.5 3431.1 L535.5 3434.3 L536.5 3437.1 L537.5 3439.6 L538.5 3441.5 L538.7 3441.8 L539.5 3443.0 L540.5 3444.5 L541.5 3445.7 L542.5 3446.5 L543.4 3446.8 L543.5 3446.8 L544.5 3446.5 L545.5 3445.8 L546.5 3444.8 L547.5 3443.5 L548.5 3441.9 L549.5 3440.2 L550.5 3438.4 L551.2 3437.1 L551.5 3436.5 L552.5 3434.0 L553.5 3430.8 L554.5 3427.2 L555.5 3423.2 L556.5 3419.1 L557.5 3415.2 L558.5 3411.5 L559.0 3409.8 L559.5 3408.2 L560.5 3404.7 L561.5 3401.3 L562.5 3398.0 L563.5 3395.1 L564.5 3392.8 L564.8 3392.3 L565.5 3391.1 L566.5 3389.4 L567.5 3387.9 L568.5 3386.6 L569.5 3385.7 L570.5 3385.3 L570.7 3385.3 L571.5 3385.6 L572.5 3386.6 L573.5 3388.2 L574.5 3390.2 L575.5 3392.3 L576.5 3394.3 L577.5 3396.5 L578.5 3399.0 L579.5 3401.8 L580.5 3404.6 L581.5 3407.4 L582.4 3409.8 L582.5 3410.0 L583.5 3412.7 L584.5 3415.3 L585.5 3418.0 L586.5 3420.4 L587.5 3422.4 L588.2 3423.5 L588.5 3423.9 L589.5 3425.3 L590.5 3426.6 L591.5 3427.6 L592.5 3428.3 L593.3 3428.5 L593.5 3428.5 L594.5 3427.9 L595.5 3426.5 L596.5 3424.6 L597.5 3422.4 L597.9 3421.5 L598.5 3419.9 L599.5 3416.4 L600.5 3411.9 L601.5 3406.4 L602.5 3400.0 L603.5 3392.7 L603.8 3390.4 L604.5 3383.5 L605.5 3370.1 L606.5 3354.4 L607.5 3338.7 L607.7 3335.8 L608.5 3324.5 L609.5 3310.4 L610.5 3295.6 L611.5 3279.2 L611.6 3277.4 L612.5 3259.0 L613.5 3236.2 L614.3 3219.0 L614.5 3215.1 L615.5 3197.2 L616.5 3179.6 L617.0 3170.0 L617.5 3159.6 L618.5 3137.4 L619.5 3113.8 L620.5 3089.5 L621.3 3070.1 L621.5 3065.3 L622.5 3040.6 L623.5 3015.5 L624.5 2990.3 L625.2 2972.7 L625.5 2965.1 L626.5 2939.0 L627.5 2912.8 L628.5 2888.4 L629.1 2875.3 L629.5 2866.7 L630.5 2843.6 L631.5 2821.2 L632.5 2803.4 L633.5 2794.1 L633.8 2793.5 L634.5 2797.4 L635.5 2813.6 L636.5 2837.1 L637.5 2862.1 L638.1 2875.3 L638.5 2883.4 L639.5 2904.5 L640.5 2926.1 L641.5 2947.7 L642.5 2968.7 L642.7 2972.7 L643.5 2988.2 L644.5 3006.6 L645.5 3024.7 L646.5 3043.4 L647.5 3063.6 L647.8 3070.1 L648.5 3086.4 L649.5 3112.0 L650.5 3138.7 L651.5 3165.0 L652.5 3192.1 L653.5 3218.9 L654.4 3238.4 L654.5 3240.2 L655.5 3256.1 L656.5 3269.7 L657.5 3281.8 L658.5 3293.2 L659.5 3304.7 L660.5 3316.8 L661.5 3328.7 L662.5 3339.5 L663.4 3347.5 L663.5 3348.3 L664.5 3356.4 L665.5 3364.0 L666.5 3369.4 L667.3 3370.9 L667.5 3370.8 L668.5 3368.8 L669.5 3364.3 L670.5 3358.1 L671.5 3350.6 L671.9 3347.5 L672.5 3341.5 L673.5 3327.0 L674.5 3308.8 L675.1 3296.9 L675.5 3288.3 L676.5 3262.9 L677.5 3234.0 L677.8 3225.0 L678.5 3202.7 L679.5 3167.5 L680.5 3131.0 L681.5 3096.1 L681.7 3089.6 L682.5 3065.0 L683.5 3036.1 L684.5 3007.2 L685.5 2976.0 L685.6 2972.7 L686.5 2940.5 L687.5 2901.9 L688.5 2863.2 L688.7 2855.8 L689.5 2824.1 L690.5 2784.6 L691.4 2758.4 L691.5 2756.3 L692.5 2736.0 L693.5 2718.5 L694.5 2706.8 L695.3 2703.5 L695.5 2703.6 L696.5 2707.9 L697.5 2717.4 L698.5 2730.9 L699.5 2747.2 L700.5 2765.1 L701.2 2777.9 L701.5 2783.9 L702.5 2810.1 L703.5 2842.3 L704.5 2875.9 L705.1 2894.8 L705.5 2906.5 L706.5 2934.0 L707.5 2961.8 L708.5 2993.4 L709.0 3011.6 L709.5 3034.2 L710.5 3089.4 L711.3 3128.5 L711.5 3136.2 L712.5 3169.5 L713.0 3185.0 L713.5 3200.9 L714.5 3230.8 L714.8 3238.4 L715.5 3253.4 L716.5 3271.5 L717.5 3289.2 L717.9 3296.9 L718.5 3309.9 L719.5 3333.1 L720.5 3353.6 L720.6 3355.3 L721.5 3369.5 L722.5 3383.5 L723.5 3395.7 L724.5 3405.9 L725.5 3414.7 L726.5 3422.6 L727.5 3429.0 L728.4 3433.2 L728.5 3433.6 L729.5 3436.9 L730.5 3439.7 L731.5 3442.2 L732.5 3444.2 L733.5 3445.8 L734.3 3446.8 L734.5 3447.0 L735.5 3448.1 L736.5 3449.1 L737.5 3450.0 L738.5 3450.8 L739.5 3451.4 L740.5 3451.9 L741.5 3452.2 L742.1 3452.2 L1107.2 3452.2" fill="none" stroke="#0000ff" stroke-width="7.7" stroke-linejoin="round"/>
</g>
<rect x="185.7" y="1949.6" width="921.5" height="1515.1" fill="none" stroke="#4d4d4d" stroke-width="2.2"/>
<line x1="158.7" y1="2200" x2="185.7" y2="2200" stroke="#4d4d4d" stroke-width="2.2"/>
<line x1="158.7" y1="2513" x2="185.7" y2="2513" stroke="#4d4d4d" stroke-width="2.2"/>
<line x1="158.7" y1="2826" x2="185.7" y2="2826" stroke="#4d4d4d" stroke-width="2.2"/>
<line x1="158.7" y1="3139" x2="185.7" y2="3139" stroke="#4d4d4d" stroke-width="2.2"/>
<line x1="158.7" y1="3452.2" x2="185.7" y2="3452.2" stroke="#4d4d4d" stroke-width="2.2"/>
<line x1="185.7" y1="3464.7" x2="185.7" y2="3492.7" stroke="#4d4d4d" stroke-width="2.2"/>
<text x="185.7" y="3561.7" font-size="62.8" letter-spacing="-1.3" text-anchor="middle" font-family="Liberation Sans, Arial, Helvetica, sans-serif">630</text>
<line x1="300.9" y1="3464.7" x2="300.9" y2="3478.7" stroke="#4d4d4d" stroke-width="2.2"/>
<line x1="416.1" y1="3464.7" x2="416.1" y2="3492.7" stroke="#4d4d4d" stroke-width="2.2"/>
<text x="416.1" y="3561.7" font-size="62.8" letter-spacing="-1.3" text-anchor="middle" font-family="Liberation Sans, Arial, Helvetica, sans-serif">640</text>
<line x1="531.3" y1="3464.7" x2="531.3" y2="3478.7" stroke="#4d4d4d" stroke-width="2.2"/>
<line x1="646.5" y1="3464.7" x2="646.5" y2="3492.7" stroke="#4d4d4d" stroke-width="2.2"/>
<text x="646.5" y="3561.7" font-size="62.8" letter-spacing="-1.3" text-anchor="middle" font-family="Liberation Sans, Arial, Helvetica, sans-serif">650</text>
<line x1="761.6" y1="3464.7" x2="761.6" y2="3478.7" stroke="#4d4d4d" stroke-width="2.2"/>
<line x1="876.8" y1="3464.7" x2="876.8" y2="3492.7" stroke="#4d4d4d" stroke-width="2.2"/>
<text x="876.8" y="3561.7" font-size="62.8" letter-spacing="-1.3" text-anchor="middle" font-family="Liberation Sans, Arial, Helvetica, sans-serif">660</text>
<line x1="992.0" y1="3464.7" x2="992.0" y2="3478.7" stroke="#4d4d4d" stroke-width="2.2"/>
<line x1="1107.2" y1="3464.7" x2="1107.2" y2="3492.7" stroke="#4d4d4d" stroke-width="2.2"/>
<text x="1107.2" y="3561.7" font-size="62.8" letter-spacing="-1.3" text-anchor="middle" font-family="Liberation Sans, Arial, Helvetica, sans-serif">670</text>
<text x="647.3" y="3677.0" font-size="65.5" letter-spacing="1.25" text-anchor="middle" font-family="Liberation Sans, Arial, Helvetica, sans-serif">Excitation Energy (eV)</text>
<text transform="translate(108.6,2707.3) rotate(-90) scale(1,1.0)" font-size="65.5" letter-spacing="1.15" text-anchor="middle" font-family="Liberation Sans, Arial, Helvetica, sans-serif">Intensity</text>
<text x="194.0" y="2030.1" font-size="75" letter-spacing="2.5" font-family="Liberation Sans, Arial, Helvetica, sans-serif">(c)</text>
<text x="1077.8" y="2051.2" font-size="75.5" letter-spacing="1.5" text-anchor="end" font-family="Liberation Sans, Arial, Helvetica, sans-serif">MnPc</text>
<text x="360.7" y="2138.4" font-size="76" font-family="Liberation Sans, Arial, Helvetica, sans-serif">L</text>
<text x="403.0" y="2106.9" font-size="49" font-family="Liberation Sans, Arial, Helvetica, sans-serif">1</text>
<text x="403.0" y="2159.1" font-size="49" font-family="Liberation Sans, Arial, Helvetica, sans-serif">3</text>
<text x="323.2" y="2106.9" font-size="47" fill="#333" font-family="DejaVu Sans, sans-serif">&#8869;</text>
<text x="535.9" y="2483.0" font-size="76" font-family="Liberation Sans, Arial, Helvetica, sans-serif">L</text>
<text x="578.2" y="2451.5" font-size="49" font-family="Liberation Sans, Arial, Helvetica, sans-serif">3</text>
<text x="578.2" y="2503.7" font-size="49" font-family="Liberation Sans, Arial, Helvetica, sans-serif">3</text>
<text x="507.9" y="2451.5" font-size="49" font-family="Liberation Sans, Arial, Helvetica, sans-serif">II</text>
<text x="678.1" y="2543.4" font-size="76" font-family="Liberation Sans, Arial, Helvetica, sans-serif">L</text>
<text x="720.4" y="2564.1" font-size="49" font-family="Liberation Sans, Arial, Helvetica, sans-serif">2</text>
<text x="281.5" y="2592.1" font-size="76" font-family="Liberation Sans, Arial, Helvetica, sans-serif">L</text>
<text x="323.8" y="2560.6" font-size="49" font-family="Liberation Sans, Arial, Helvetica, sans-serif">1</text>
<text x="323.8" y="2612.8" font-size="49" font-family="Liberation Sans, Arial, Helvetica, sans-serif">3</text>
<text x="253.5" y="2560.6" font-size="49" font-family="Liberation Sans, Arial, Helvetica, sans-serif">II</text>
<text x="570.2" y="2726.5" font-size="76" font-family="Liberation Sans, Arial, Helvetica, sans-serif">L</text>
<text x="612.5" y="2695.0" font-size="49" font-family="Liberation Sans, Arial, Helvetica, sans-serif">3</text>
<text x="612.5" y="2747.2" font-size="49" font-family="Liberation Sans, Arial, Helvetica, sans-serif">3</text>
<text x="532.7" y="2695.0" font-size="47" fill="#333" font-family="DejaVu Sans, sans-serif">&#8869;</text>
<line x1="590.1" y1="2752.6" x2="499.8" y2="2976.9" stroke="#000" stroke-width="7"/>
<polygon points="481.1,3023.3 488.6,2972.4 510.9,2981.4" fill="#000"/>
</g>
<g id="panel-d">
<clipPath id="clip-d"><rect x="1348.2" y="1949.8" width="922.8" height="1515.3999999999999"/></clipPath>
<g clip-path="url(#clip-d)">
<path d="M1514.3 3447.5 L1515.3 3447.5 L1516.3 3447.5 L1517.3 3447.5 L1518.3 3447.5 L1519.3 3447.5 L1520.3 3447.5 L1521.3 3447.5 L1522.3 3447.5 L1523.3 3447.5 L1524.3 3447.5 L1525.3 3447.5 L1526.0 3447.5 L1526.3 3447.5 L1527.3 3447.5 L1528.3 3447.6 L1529.3 3447.6 L1530.3 3447.7 L1531.3 3447.8 L1532.3 3447.9 L1533.3 3448.0 L1534.3 3448.1 L1535.3 3448.1 L1536.3 3448.2 L1537.3 3448.3 L1538.3 3448.3 L1539.0 3448.3 L1539.3 3448.3 L1540.3 3448.2 L1541.3 3448.1 L1542.3 3447.9 L1543.3 3447.6 L1544.3 3447.3 L1545.3 3446.9 L1546.3 3446.6 L1547.3 3446.2 L1548.3 3445.8 L1549.3 3445.4 L1550.3 3445.0 L1550.6 3444.9 L1551.3 3444.6 L1552.3 3444.3 L1553.3 3443.9 L1554.3 3443.4 L1555.3 3443.0 L1556.3 3442.6 L1557.3 3442.1 L1558.3 3441.6 L1559.3 3441.1 L1560.3 3440.7 L1561.3 3440.2 L1562.3 3439.7 L1563.3 3439.2 L1564.3 3438.8 L1565.3 3438.3 L1566.3 3437.9 L1567.3 3437.4 L1568.3 3436.9 L1569.3 3436.4 L1570.3 3435.8 L1571.3 3435.3 L1572.3 3434.6 L1573.2 3434.0 L1573.3 3433.9 L1574.3 3433.2 L1575.3 3432.3 L1576.3 3431.4 L1577.3 3430.3 L1578.3 3429.2 L1579.3 3428.0 L1580.3 3426.8 L1581.3 3425.4 L1581.8 3424.7 L1582.3 3423.9 L1583.3 3422.2 L1584.3 3420.1 L1585.3 3417.9 L1586.3 3415.7 L1587.3 3413.4 L1588.3 3411.2 L1589.3 3409.1 L1590.3 3406.9 L1591.3 3404.8 L1592.3 3402.6 L1593.3 3400.5 L1594.0 3399.0 L1594.3 3398.4 L1595.3 3396.6 L1596.3 3394.9 L1597.3 3393.2 L1598.3 3391.2 L1599.3 3388.7 L1600.0 3386.5 L1600.3 3385.3 L1601.3 3379.6 L1602.1 3373.5 L1602.3 3371.8 L1603.3 3360.4 L1603.4 3359.2 L1604.3 3346.5 L1604.4 3344.9 L1605.2 3330.6 L1605.3 3328.8 L1606.0 3316.4 L1606.3 3312.0 L1607.0 3302.1 L1607.3 3297.0 L1607.8 3287.8 L1608.3 3279.4 L1608.6 3273.5 L1609.1 3259.2 L1609.3 3253.9 L1609.6 3244.9 L1609.9 3230.6 L1610.1 3216.4 L1610.3 3187.8 L1610.4 3150.0 L1610.5 3100.0 L1610.6 3000.0 L1610.7 2800.0 L1610.8 2600.0 L1610.9 2400.0 L1611.0 2300.0 L1611.3 2243.6 L1611.5 2232.0 L1612.3 2218.7 L1613.3 2210.0 L1614.2 2208.0 L1614.3 2208.0 L1615.3 2210.7 L1616.3 2217.7 L1617.0 2225.0 L1617.3 2231.8 L1618.3 2286.4 L1618.5 2300.0 L1619.3 2379.0 L1619.5 2400.0 L1620.3 2480.0 L1620.5 2500.0 L1621.3 2580.0 L1621.5 2600.0 L1622.3 2682.4 L1622.5 2700.0 L1623.3 2757.7 L1624.0 2800.0 L1624.3 2817.1 L1625.3 2869.9 L1626.0 2900.0 L1626.3 2910.7 L1627.3 2940.7 L1628.0 2960.0 L1628.3 2968.7 L1629.3 2998.7 L1630.3 3025.9 L1631.0 3040.0 L1631.3 3044.8 L1632.3 3059.3 L1633.3 3071.4 L1634.3 3080.6 L1635.0 3085.0 L1635.3 3086.5 L1636.3 3091.2 L1637.3 3095.0 L1638.3 3097.5 L1639.0 3098.0 L1639.3 3097.9 L1640.3 3095.9 L1641.3 3092.2 L1642.3 3087.7 L1642.9 3085.0 L1643.3 3083.1 L1644.3 3077.1 L1645.3 3070.1 L1646.1 3064.3 L1646.3 3062.9 L1647.3 3055.1 L1648.3 3047.0 L1649.3 3039.1 L1649.4 3038.3 L1650.3 3031.3 L1651.3 3023.5 L1652.3 3017.1 L1652.6 3015.6 L1653.3 3012.4 L1654.3 3008.0 L1655.3 3004.4 L1656.3 3002.0 L1657.0 3001.5 L1657.3 3001.5 L1658.3 3001.7 L1659.3 3002.2 L1660.3 3002.8 L1661.3 3003.7 L1662.3 3004.8 L1662.5 3005.0 L1663.3 3006.8 L1664.3 3011.1 L1665.3 3016.5 L1665.7 3018.8 L1666.3 3022.8 L1667.3 3031.0 L1667.6 3033.4 L1668.3 3039.0 L1669.2 3046.4 L1669.3 3047.3 L1670.3 3056.9 L1670.8 3061.0 L1671.3 3064.2 L1672.3 3069.7 L1673.2 3074.0 L1673.3 3074.5 L1674.3 3078.7 L1675.3 3082.5 L1676.3 3086.4 L1677.1 3090.0 L1677.3 3091.0 L1678.3 3096.3 L1679.3 3102.2 L1680.3 3108.5 L1681.3 3115.2 L1682.0 3120.0 L1682.3 3122.1 L1683.3 3129.8 L1684.3 3138.0 L1685.3 3146.4 L1686.3 3154.6 L1687.0 3160.0 L1687.3 3162.2 L1688.3 3169.8 L1689.3 3177.1 L1690.3 3184.2 L1691.3 3190.8 L1692.0 3195.0 L1692.3 3196.7 L1693.3 3202.0 L1694.3 3206.8 L1695.3 3211.4 L1696.3 3215.8 L1697.3 3220.3 L1698.3 3224.9 L1698.7 3226.8 L1699.3 3229.9 L1700.3 3235.3 L1701.3 3239.7 L1702.3 3242.9 L1703.3 3245.6 L1704.3 3248.0 L1705.3 3250.2 L1706.3 3252.3 L1706.5 3252.7 L1707.3 3254.4 L1708.3 3256.4 L1709.3 3258.2 L1710.3 3260.1 L1711.3 3261.8 L1712.3 3263.6 L1713.3 3265.3 L1713.5 3265.7 L1714.3 3267.1 L1715.3 3268.9 L1716.3 3270.6 L1717.3 3272.3 L1718.3 3274.0 L1719.3 3275.7 L1720.3 3277.4 L1721.3 3279.2 L1722.3 3281.0 L1723.3 3282.9 L1724.3 3284.6 L1725.3 3286.2 L1726.3 3287.6 L1726.5 3287.8 L1727.3 3288.7 L1728.3 3289.7 L1729.3 3290.6 L1730.3 3291.5 L1731.3 3292.3 L1732.3 3293.0 L1733.3 3293.7 L1734.3 3294.4 L1735.3 3295.0 L1736.3 3295.5 L1736.4 3295.6 L1737.3 3296.1 L1738.3 3296.6 L1739.3 3297.1 L1740.3 3297.6 L1741.3 3298.1 L1742.3 3298.6 L1743.3 3299.0 L1744.3 3299.3 L1745.3 3299.6 L1746.3 3299.8 L1747.3 3300.0 L1748.3 3300.1 L1749.3 3300.2 L1750.3 3300.3 L1751.3 3300.4 L1752.3 3300.5 L1753.3 3300.6 L1754.3 3300.7 L1755.3 3300.7 L1756.3 3300.8 L1757.3 3300.8 L1758.3 3300.8 L1758.4 3300.8 L1759.3 3300.8 L1760.3 3300.7 L1761.3 3300.6 L1762.3 3300.4 L1763.3 3300.2 L1764.3 3299.9 L1765.3 3299.7 L1766.3 3299.4 L1767.3 3299.1 L1768.3 3298.8 L1769.3 3298.4 L1770.1 3298.2 L1770.3 3298.1 L1771.3 3297.8 L1772.3 3297.4 L1773.3 3296.9 L1774.3 3296.4 L1775.3 3295.8 L1776.3 3295.3 L1777.3 3294.7 L1778.3 3294.1 L1779.3 3293.6 L1780.3 3293.0 L1781.3 3292.5 L1782.3 3292.0 L1783.1 3291.7 L1783.3 3291.6 L1784.3 3291.2 L1785.3 3290.8 L1786.3 3290.3 L1787.3 3289.9 L1788.3 3289.4 L1789.3 3289.0 L1790.3 3288.7 L1791.3 3288.3 L1792.3 3288.1 L1793.3 3287.9 L1794.3 3287.8 L1794.8 3287.8 L1795.3 3287.8 L1796.3 3287.8 L1797.3 3287.9 L1798.3 3287.9 L1799.3 3288.0 L1800.3 3288.1 L1801.3 3288.3 L1802.3 3288.4 L1803.3 3288.5 L1804.3 3288.7 L1805.3 3288.9 L1806.3 3289.1 L1806.5 3289.1 L1807.3 3289.3 L1808.3 3289.7 L1809.3 3290.2 L1810.3 3290.8 L1811.3 3291.5 L1812.3 3292.3 L1813.3 3293.0 L1814.3 3293.8 L1815.3 3294.5 L1816.3 3295.2 L1816.9 3295.6 L1817.3 3295.8 L1818.3 3296.5 L1819.3 3297.3 L1820.3 3298.0 L1821.3 3298.8 L1822.3 3299.5 L1823.3 3300.0 L1824.3 3300.5 L1825.3 3300.7 L1826.0 3300.8 L1826.3 3300.8 L1827.3 3300.8 L1828.3 3300.7 L1829.3 3300.6 L1830.3 3300.5 L1831.3 3300.3 L1832.3 3300.2 L1833.3 3300.0 L1834.3 3299.9 L1835.3 3299.7 L1836.3 3299.5 L1836.4 3299.5 L1837.3 3299.3 L1838.3 3299.1 L1839.3 3298.8 L1840.3 3298.5 L1841.3 3298.1 L1842.3 3297.8 L1843.3 3297.5 L1844.3 3297.2 L1845.3 3296.9 L1846.3 3296.7 L1847.3 3296.6 L1848.1 3296.6 L1848.3 3296.6 L1849.3 3296.6 L1850.3 3296.7 L1851.3 3296.8 L1852.3 3297.0 L1853.3 3297.1 L1854.3 3297.3 L1855.3 3297.5 L1856.3 3297.8 L1857.3 3298.0 L1857.9 3298.1 L1858.3 3298.2 L1859.3 3298.5 L1860.3 3298.9 L1861.3 3299.3 L1862.3 3299.8 L1863.3 3300.3 L1864.3 3300.7 L1865.3 3301.2 L1866.3 3301.5 L1867.3 3301.8 L1868.3 3302.0 L1868.4 3302.0 L1869.3 3302.1 L1870.3 3302.2 L1871.3 3302.3 L1872.3 3302.3 L1873.3 3302.4 L1874.3 3302.5 L1875.3 3302.5 L1876.3 3302.6 L1877.3 3302.6 L1878.3 3302.6 L1878.8 3302.6 L1879.3 3302.6 L1880.3 3302.2 L1881.3 3301.6 L1882.3 3300.7 L1883.3 3299.6 L1884.3 3298.4 L1885.3 3297.0 L1886.3 3295.7 L1887.3 3294.3 L1887.8 3293.6 L1888.3 3292.9 L1889.3 3291.4 L1890.3 3289.6 L1891.3 3287.7 L1892.3 3285.7 L1893.3 3283.5 L1894.3 3281.3 L1895.3 3279.0 L1896.3 3276.7 L1897.0 3275.0 L1897.3 3274.3 L1898.3 3271.9 L1899.3 3269.5 L1900.3 3266.9 L1901.3 3264.2 L1902.3 3261.2 L1903.3 3258.0 L1904.2 3254.8 L1904.3 3254.4 L1905.3 3250.1 L1906.3 3244.9 L1907.2 3239.9 L1907.3 3239.3 L1908.3 3233.3 L1909.3 3226.4 L1910.3 3217.6 L1910.8 3213.0 L1911.3 3208.8 L1912.3 3199.5 L1913.2 3186.1 L1913.3 3184.5 L1914.1 3171.2 L1914.3 3168.6 L1915.3 3159.2 L1916.3 3156.9 L1917.3 3155.6 L1918.3 3154.7 L1919.3 3153.8 L1920.3 3152.9 L1921.3 3152.2 L1922.3 3151.8 L1923.0 3151.7 L1923.3 3151.7 L1924.3 3152.1 L1925.3 3153.0 L1926.3 3154.2 L1927.3 3155.6 L1928.3 3157.2 L1929.3 3158.9 L1930.0 3160.0 L1930.3 3160.5 L1931.3 3162.5 L1932.3 3164.9 L1933.3 3167.6 L1934.3 3170.4 L1935.3 3173.2 L1936.3 3176.0 L1937.3 3178.5 L1938.0 3180.0 L1938.3 3180.6 L1939.3 3182.7 L1940.3 3184.9 L1941.3 3187.0 L1942.3 3189.0 L1943.3 3190.9 L1944.3 3192.6 L1945.3 3194.2 L1946.3 3195.4 L1947.3 3196.4 L1947.5 3196.5 L1948.3 3197.0 L1949.3 3197.6 L1950.3 3198.2 L1951.3 3198.6 L1952.3 3199.0 L1953.3 3199.4 L1954.3 3199.8 L1955.3 3200.1 L1956.3 3200.5 L1957.3 3200.8 L1958.3 3201.1 L1959.3 3201.5 L1959.5 3201.6 L1960.3 3201.9 L1961.3 3202.3 L1962.3 3202.6 L1963.3 3202.9 L1964.3 3203.2 L1965.3 3203.5 L1966.3 3203.9 L1967.3 3204.2 L1968.3 3204.7 L1969.3 3205.2 L1969.9 3205.5 L1970.3 3205.7 L1971.3 3206.5 L1972.3 3207.4 L1973.3 3208.5 L1974.3 3209.7 L1975.3 3210.9 L1976.3 3212.2 L1977.3 3213.6 L1978.0 3214.5 L1978.3 3214.9 L1979.3 3216.3 L1980.3 3217.9 L1981.3 3219.5 L1982.3 3221.2 L1983.3 3222.9 L1984.3 3224.5 L1984.9 3225.5 L1985.3 3226.1 L1986.3 3227.7 L1987.3 3229.4 L1988.3 3231.0 L1989.3 3232.6 L1990.3 3234.2 L1991.3 3235.8 L1992.3 3237.5 L1993.3 3239.2 L1994.3 3241.0 L1995.3 3242.7 L1996.3 3244.5 L1997.3 3246.3 L1998.3 3248.0 L1999.3 3249.5 L1999.8 3250.3 L2000.3 3251.0 L2001.3 3252.4 L2002.3 3253.7 L2003.3 3255.0 L2004.3 3256.2 L2005.3 3257.5 L2006.3 3258.8 L2006.7 3259.3 L2007.3 3260.1 L2008.3 3261.5 L2009.3 3262.9 L2010.3 3264.4 L2011.3 3265.8 L2012.3 3267.1 L2013.2 3268.2 L2013.3 3268.3 L2014.3 3269.5 L2015.3 3270.7 L2016.3 3271.8 L2017.3 3272.9 L2018.3 3274.0 L2019.3 3275.0 L2020.3 3275.9 L2021.3 3276.9 L2022.3 3277.7 L2022.8 3278.1 L2023.3 3278.5 L2024.3 3279.3 L2025.3 3280.2 L2026.3 3281.0 L2027.3 3281.8 L2028.3 3282.5 L2029.3 3283.2 L2030.3 3283.8 L2031.3 3284.3 L2032.3 3284.6 L2033.3 3284.7 L2033.5 3284.7 L2034.3 3284.7 L2035.3 3284.7 L2036.3 3284.7 L2037.3 3284.7 L2038.3 3284.7 L2039.3 3284.7 L2040.3 3284.7 L2041.3 3284.7 L2042.3 3284.7 L2043.3 3284.7 L2044.3 3284.7 L2045.3 3284.7 L2046.1 3284.7 L2046.3 3284.7 L2047.3 3284.6 L2048.3 3284.5 L2049.3 3284.4 L2050.3 3284.1 L2051.3 3283.9 L2052.3 3283.5 L2053.3 3283.2 L2054.3 3282.9 L2055.3 3282.5 L2056.3 3282.1 L2057.3 3281.7 L2057.4 3281.7 L2058.3 3281.3 L2059.3 3280.9 L2060.3 3280.4 L2061.3 3279.8 L2062.3 3279.2 L2063.3 3278.6 L2064.3 3277.9 L2065.3 3277.2 L2066.3 3276.6 L2067.3 3275.9 L2067.6 3275.7 L2068.3 3275.2 L2069.3 3274.5 L2070.3 3273.8 L2071.3 3273.1 L2072.3 3272.3 L2073.3 3271.5 L2074.3 3270.8 L2075.3 3270.0 L2076.3 3269.2 L2077.3 3268.4 L2077.5 3268.2 L2078.3 3267.5 L2079.3 3266.7 L2080.3 3265.8 L2081.3 3264.9 L2082.3 3264.0 L2083.3 3263.1 L2084.3 3262.2 L2085.3 3261.3 L2086.3 3260.5 L2087.3 3259.7 L2087.9 3259.3 L2088.3 3259.0 L2089.3 3258.3 L2090.3 3257.7 L2091.3 3257.0 L2092.3 3256.4 L2093.3 3255.8 L2094.3 3255.2 L2095.3 3254.7 L2096.3 3254.2 L2097.3 3253.7 L2098.3 3253.3 L2098.4 3253.3 L2099.3 3253.0 L2100.3 3252.6 L2101.3 3252.3 L2102.3 3252.0 L2103.3 3251.8 L2104.3 3251.5 L2105.3 3251.3 L2106.3 3251.0 L2107.3 3250.8 L2108.3 3250.5 L2109.3 3250.3 L2110.3 3250.0 L2111.2 3249.7 L2111.3 3249.7 L2112.3 3249.3 L2113.3 3249.0 L2114.3 3248.6 L2115.3 3248.2 L2116.3 3247.8 L2117.3 3247.4 L2118.3 3247.0 L2119.3 3246.6 L2120.3 3246.3 L2121.3 3246.0 L2122.3 3245.8 L2123.3 3245.6 L2124.3 3245.4 L2125.3 3245.2 L2126.3 3245.0 L2127.3 3244.8 L2128.3 3244.7 L2129.3 3244.5 L2130.3 3244.4 L2131.3 3244.3 L2132.3 3244.3 L2132.7 3244.3 L2133.3 3244.3 L2134.3 3244.3 L2135.3 3244.4 L2136.3 3244.4 L2137.3 3244.5 L2138.3 3244.5 L2139.3 3244.6 L2140.3 3244.7 L2141.3 3244.8 L2142.3 3244.9 L2143.3 3245.0 L2144.3 3245.2 L2144.7 3245.2 L2145.3 3245.3 L2146.3 3245.5 L2147.3 3245.7 L2148.3 3246.1 L2149.3 3246.4 L2150.3 3246.8 L2151.3 3247.2 L2152.3 3247.5 L2153.3 3247.9 L2154.3 3248.3 L2155.3 3248.6 L2156.0 3248.8 L2156.3 3248.9 L2157.3 3249.2 L2158.3 3249.4 L2159.3 3249.7 L2160.3 3250.0 L2161.3 3250.2 L2162.3 3250.5 L2163.3 3250.7 L2164.3 3251.0 L2165.3 3251.2 L2166.3 3251.4 L2167.3 3251.6 L2168.3 3251.8 L2168.6 3251.8 L2169.3 3251.9 L2170.3 3252.1 L2171.3 3252.2 L2172.3 3252.4 L2173.3 3252.6 L2174.3 3252.7 L2175.3 3252.8 L2176.3 3253.0 L2177.3 3253.1 L2178.3 3253.2 L2179.3 3253.2 L2180.3 3253.3 L2181.3 3253.3 L2181.4 3253.3 L2182.3 3253.3 L2183.3 3253.3 L2184.3 3253.3 L2185.3 3253.3 L2186.3 3253.3 L2187.3 3253.3 L2188.3 3253.3 L2189.3 3253.3 L2190.3 3253.3 L2191.3 3253.3 L2192.3 3253.3 L2193.3 3253.3 L2194.3 3253.3 L2194.8 3253.3 L2195.3 3253.3 L2196.3 3253.3 L2197.3 3253.2 L2198.3 3253.2 L2199.3 3253.1 L2200.3 3253.0 L2201.3 3252.9 L2202.3 3252.8 L2203.3 3252.7 L2204.3 3252.6 L2205.3 3252.5 L2206.3 3252.5 L2207.3 3252.4 L2208.3 3252.4 L2208.9 3252.4 L2209.3 3252.4 L2210.3 3252.5 L2211.3 3252.6 L2212.3 3252.8 L2213.3 3253.0 L2214.3 3253.2 L2215.3 3253.5 L2216.3 3253.8 L2217.3 3254.1 L2218.3 3254.4 L2219.3 3254.7 L2219.9 3254.8 L2220.3 3254.9 L2221.3 3255.2 L2222.3 3255.5 L2223.3 3255.8 L2224.3 3256.2 L2225.3 3256.5 L2226.3 3256.9 L2227.3 3257.3 L2228.3 3257.6 L2229.3 3257.9 L2230.3 3258.2 L2231.3 3258.4 L2232.3 3258.6 L2233.3 3258.7 L2234.3 3258.7 L2235.3 3258.7 L2236.3 3258.6 L2237.3 3258.6 L2238.3 3258.5 L2239.3 3258.4 L2240.3 3258.3 L2241.3 3258.2 L2242.3 3258.1 L2243.3 3258.0 L2244.3 3257.9 L2245.3 3257.9 L2246.3 3257.8 L2247.3 3257.8 L2247.7 3257.8 L2248.3 3257.8 L2249.3 3257.8 L2250.3 3257.9 L2251.3 3257.9 L2252.3 3258.0 L2253.3 3258.1 L2254.3 3258.2 L2255.3 3258.3 L2256.3 3258.4 L2257.3 3258.6 L2258.2 3258.7 L2258.3 3258.7 L2259.3 3258.9 L2260.3 3259.2 L2261.3 3259.6 L2262.3 3260.1 L2263.3 3260.7 L2264.3 3261.3 L2265.3 3261.9 L2266.3 3262.7 L2267.3 3263.4 L2268.3 3264.2 L2269.3 3265.0 L2269.5 3265.2" fill="none" stroke="#ff0000" stroke-width="7.5" stroke-linecap="round" stroke-dasharray="0.01 13.4" stroke-linejoin="round"/>
<path d="M1567.5 3445.7 L1568.5 3445.7 L1569.5 3445.6 L1570.5 3445.4 L1571.5 3445.2 L1572.5 3445.0 L1573.5 3444.7 L1574.5 3444.3 L1575.5 3443.9 L1576.5 3443.5 L1577.5 3443.1 L1578.5 3442.6 L1579.2 3442.3 L1579.5 3442.2 L1580.5 3441.6 L1581.5 3440.8 L1582.5 3440.0 L1583.5 3438.9 L1584.5 3437.7 L1585.5 3436.3 L1586.5 3434.8 L1587.5 3433.0 L1588.0 3432.0 L1588.5 3430.8 L1589.5 3427.6 L1590.5 3423.2 L1591.5 3417.7 L1592.5 3411.3 L1593.5 3404.0 L1594.0 3400.0 L1594.5 3395.2 L1595.5 3382.3 L1596.5 3366.2 L1597.5 3348.7 L1598.0 3340.0 L1598.5 3330.9 L1599.5 3310.7 L1600.5 3289.3 L1601.5 3269.1 L1602.0 3260.0 L1602.5 3251.2 L1603.5 3233.4 L1604.5 3217.1 L1605.5 3204.3 L1606.0 3200.0 L1606.5 3196.5 L1607.5 3190.5 L1608.5 3188.0 L1609.5 3190.0 L1610.5 3194.7 L1611.5 3200.2 L1612.1 3203.0 L1612.5 3204.7 L1613.5 3209.0 L1614.5 3213.3 L1615.5 3217.5 L1616.5 3221.5 L1617.0 3223.4 L1617.5 3225.2 L1618.5 3228.4 L1619.5 3231.5 L1620.5 3234.6 L1621.5 3238.1 L1621.9 3239.6 L1622.5 3242.1 L1623.5 3246.8 L1624.5 3251.9 L1625.5 3257.3 L1626.5 3262.8 L1626.8 3264.4 L1627.5 3268.6 L1628.5 3275.2 L1629.5 3281.0 L1630.0 3283.0 L1630.5 3284.6 L1631.5 3287.8 L1632.5 3290.3 L1633.5 3291.8 L1634.0 3292.0 L1634.5 3291.7 L1635.5 3289.3 L1636.5 3285.0 L1637.5 3279.5 L1638.5 3273.2 L1639.0 3270.0 L1639.5 3266.6 L1640.5 3258.1 L1641.5 3246.5 L1642.2 3235.8 L1642.5 3229.5 L1643.4 3200.0 L1643.5 3195.8 L1644.2 3160.0 L1644.5 3150.6 L1645.5 3126.8 L1646.5 3105.5 L1646.8 3100.0 L1647.5 3088.0 L1648.5 3074.0 L1649.5 3065.5 L1650.0 3061.0 L1650.5 3055.1 L1651.5 3040.8 L1652.1 3031.8 L1652.5 3026.0 L1653.5 3011.0 L1654.4 2996.1 L1654.5 2994.3 L1655.5 2974.0 L1656.0 2963.6 L1656.5 2952.8 L1657.5 2932.7 L1657.6 2931.2 L1658.5 2919.8 L1659.5 2909.6 L1660.5 2900.7 L1660.7 2899.0 L1661.5 2892.8 L1662.5 2885.8 L1663.3 2879.2 L1663.5 2877.2 L1664.5 2865.6 L1665.5 2851.5 L1665.6 2850.0 L1666.5 2833.9 L1667.2 2820.8 L1667.5 2815.3 L1668.5 2797.8 L1668.8 2794.8 L1669.5 2790.3 L1670.5 2785.3 L1671.5 2782.3 L1672.1 2781.8 L1672.5 2781.8 L1673.5 2782.1 L1674.5 2782.7 L1675.5 2783.6 L1676.5 2784.9 L1677.5 2786.3 L1678.5 2788.1 L1678.6 2788.3 L1679.5 2791.7 L1680.5 2798.5 L1681.2 2804.5 L1681.5 2807.7 L1682.5 2822.8 L1682.8 2827.3 L1683.5 2837.1 L1684.4 2850.0 L1684.5 2851.6 L1685.5 2869.2 L1686.0 2876.0 L1686.5 2880.6 L1687.5 2887.8 L1688.5 2893.5 L1688.8 2895.0 L1689.5 2898.3 L1690.5 2902.4 L1691.5 2906.2 L1692.0 2908.0 L1692.5 2909.8 L1693.5 2913.4 L1694.5 2916.7 L1695.5 2920.0 L1696.5 2923.1 L1697.5 2926.0 L1698.5 2928.9 L1699.5 2932.0 L1700.5 2935.3 L1701.5 2938.6 L1702.5 2942.1 L1703.5 2945.9 L1704.0 2948.0 L1704.5 2950.1 L1705.5 2954.2 L1706.5 2958.9 L1707.5 2965.0 L1707.9 2968.0 L1708.5 2975.1 L1709.5 2989.6 L1710.5 2999.3 L1711.2 3005.8 L1711.5 3008.8 L1712.5 3019.0 L1712.8 3022.1 L1713.5 3028.9 L1714.4 3038.3 L1714.5 3039.5 L1715.5 3053.2 L1715.6 3054.5 L1716.5 3065.2 L1717.0 3070.8 L1717.5 3076.2 L1718.5 3086.1 L1718.6 3087.0 L1719.5 3093.7 L1720.5 3100.3 L1720.9 3103.2 L1721.5 3107.9 L1722.5 3116.1 L1723.5 3124.2 L1724.0 3128.0 L1724.5 3131.5 L1725.5 3137.7 L1726.5 3143.8 L1727.5 3150.5 L1728.1 3155.3 L1728.5 3159.4 L1729.1 3165.7 L1729.5 3168.8 L1730.5 3175.2 L1731.2 3179.2 L1731.5 3180.9 L1732.5 3186.3 L1733.5 3191.4 L1733.8 3193.0 L1734.5 3196.7 L1735.5 3202.0 L1736.4 3206.8 L1736.5 3207.3 L1737.5 3212.6 L1738.5 3217.8 L1739.0 3220.3 L1739.5 3222.7 L1740.5 3227.4 L1741.5 3231.9 L1742.1 3234.5 L1742.5 3236.2 L1743.5 3240.5 L1744.5 3244.7 L1745.5 3248.8 L1746.5 3252.9 L1747.5 3257.0 L1748.5 3260.8 L1748.8 3261.8 L1749.5 3264.1 L1750.5 3267.2 L1751.5 3270.1 L1752.5 3272.8 L1753.2 3274.8 L1753.5 3275.6 L1754.5 3278.4 L1755.5 3281.0 L1756.5 3283.7 L1757.5 3286.3 L1757.9 3287.3 L1758.5 3288.9 L1759.5 3291.6 L1760.5 3294.3 L1761.5 3296.9 L1762.5 3299.1 L1763.1 3300.3 L1763.5 3301.0 L1764.5 3302.6 L1765.5 3304.0 L1766.5 3305.4 L1767.5 3306.6 L1768.5 3307.8 L1769.5 3309.1 L1770.1 3309.9 L1770.5 3310.4 L1771.5 3311.8 L1772.5 3313.2 L1773.5 3314.5 L1774.5 3315.9 L1775.5 3317.2 L1776.5 3318.5 L1777.5 3319.8 L1777.9 3320.3 L1778.5 3321.0 L1779.5 3322.3 L1780.5 3323.5 L1781.5 3324.7 L1782.5 3325.9 L1783.5 3327.0 L1784.5 3328.1 L1785.5 3329.2 L1786.5 3330.1 L1787.0 3330.6 L1787.5 3331.1 L1788.5 3331.9 L1789.5 3332.8 L1790.5 3333.6 L1791.5 3334.4 L1792.5 3335.1 L1793.5 3335.9 L1794.5 3336.6 L1795.5 3337.3 L1796.5 3337.9 L1797.5 3338.6 L1798.2 3339.0 L1798.5 3339.2 L1799.5 3339.8 L1800.5 3340.5 L1801.5 3341.2 L1802.5 3341.8 L1803.5 3342.4 L1804.5 3343.0 L1805.5 3343.5 L1806.5 3343.9 L1807.5 3344.2 L1808.5 3344.4 L1808.6 3344.4 L1809.5 3344.5 L1810.5 3344.5 L1811.5 3344.6 L1812.5 3344.7 L1813.5 3344.7 L1814.5 3344.8 L1815.5 3344.8 L1816.5 3344.8 L1817.5 3344.9 L1818.5 3344.9 L1819.5 3344.9 L1820.0 3344.9 L1820.5 3344.9 L1821.5 3344.8 L1822.5 3344.7 L1823.5 3344.5 L1824.5 3344.3 L1825.5 3344.1 L1826.5 3343.8 L1827.5 3343.5 L1828.5 3343.2 L1829.5 3342.8 L1830.5 3342.5 L1831.2 3342.3 L1831.5 3342.2 L1832.5 3341.9 L1833.5 3341.5 L1834.5 3341.0 L1835.5 3340.6 L1836.5 3340.1 L1837.5 3339.6 L1838.5 3339.1 L1839.5 3338.5 L1840.5 3338.0 L1841.5 3337.5 L1841.6 3337.4 L1842.5 3336.9 L1843.5 3336.3 L1844.5 3335.7 L1845.5 3335.0 L1846.5 3334.3 L1847.5 3333.7 L1848.5 3333.1 L1849.5 3332.5 L1850.5 3331.9 L1850.6 3331.9 L1851.5 3331.5 L1852.5 3331.0 L1853.5 3330.5 L1854.5 3330.1 L1855.5 3329.6 L1856.5 3329.2 L1857.5 3328.8 L1858.5 3328.5 L1859.5 3328.2 L1859.7 3328.1 L1860.5 3327.9 L1861.5 3327.6 L1862.5 3327.4 L1863.5 3327.2 L1864.5 3327.0 L1865.5 3326.8 L1866.5 3326.6 L1867.5 3326.4 L1868.5 3326.2 L1869.5 3326.0 L1870.5 3325.7 L1871.4 3325.4 L1871.5 3325.4 L1872.5 3325.0 L1873.5 3324.6 L1874.5 3324.1 L1875.5 3323.6 L1876.5 3323.0 L1877.5 3322.4 L1878.5 3321.7 L1879.5 3321.1 L1880.5 3320.4 L1881.5 3319.7 L1882.5 3319.0 L1883.5 3318.3 L1884.4 3317.7 L1884.5 3317.6 L1885.5 3317.0 L1886.5 3316.3 L1887.5 3315.6 L1888.5 3314.9 L1889.5 3314.1 L1890.5 3313.2 L1891.5 3312.3 L1892.3 3311.5 L1892.5 3311.3 L1893.5 3310.1 L1894.5 3308.8 L1895.5 3307.4 L1896.5 3305.8 L1897.5 3304.0 L1898.5 3302.1 L1899.5 3300.0 L1900.5 3297.6 L1901.5 3294.7 L1902.5 3291.5 L1903.5 3287.9 L1904.5 3284.2 L1905.5 3280.3 L1906.3 3277.2 L1906.5 3276.4 L1907.5 3272.0 L1908.5 3267.3 L1909.3 3263.7 L1909.5 3262.8 L1910.5 3258.7 L1911.5 3254.6 L1912.3 3251.2 L1912.5 3250.3 L1913.5 3245.8 L1914.5 3241.1 L1915.3 3237.5 L1915.5 3236.6 L1916.5 3232.3 L1917.5 3228.2 L1918.3 3224.9 L1918.5 3224.1 L1919.5 3220.1 L1920.5 3216.2 L1921.5 3212.3 L1922.1 3210.0 L1922.5 3208.5 L1923.5 3204.9 L1924.5 3201.3 L1925.5 3197.3 L1925.7 3196.5 L1926.5 3193.0 L1927.5 3188.4 L1928.5 3183.4 L1929.5 3177.9 L1930.0 3175.0 L1930.5 3171.8 L1931.5 3164.6 L1932.5 3156.7 L1933.5 3148.8 L1934.0 3145.0 L1934.5 3141.4 L1935.5 3134.5 L1936.5 3127.5 L1937.5 3120.0 L1938.0 3115.9 L1938.5 3111.2 L1939.5 3101.0 L1940.5 3091.6 L1941.0 3086.9 L1941.5 3082.1 L1942.4 3073.2 L1942.5 3072.1 L1943.5 3060.7 L1943.6 3059.7 L1944.5 3051.3 L1945.1 3046.3 L1945.5 3042.9 L1946.5 3035.1 L1946.9 3032.9 L1947.5 3030.3 L1948.5 3026.4 L1949.5 3023.1 L1950.5 3021.0 L1951.4 3020.3 L1951.5 3020.3 L1952.5 3020.4 L1953.5 3020.6 L1954.5 3020.8 L1955.5 3021.2 L1956.5 3021.7 L1957.5 3022.2 L1958.5 3022.7 L1959.5 3023.3 L1960.5 3024.1 L1961.5 3025.3 L1962.5 3026.7 L1963.5 3028.3 L1964.5 3030.0 L1965.5 3031.7 L1966.5 3033.2 L1966.9 3033.8 L1967.5 3034.6 L1968.5 3035.9 L1969.5 3037.1 L1970.5 3038.3 L1971.5 3039.5 L1972.5 3040.8 L1973.5 3042.1 L1974.5 3043.6 L1975.3 3044.8 L1975.5 3045.1 L1976.5 3046.9 L1977.5 3048.7 L1978.5 3050.7 L1979.5 3052.9 L1980.5 3055.1 L1981.5 3057.4 L1981.9 3058.3 L1982.5 3059.7 L1983.5 3062.2 L1984.5 3064.9 L1985.5 3067.8 L1986.4 3070.5 L1986.5 3070.8 L1987.5 3074.2 L1988.5 3077.8 L1989.5 3081.7 L1990.2 3084.5 L1990.5 3085.7 L1991.5 3089.9 L1992.5 3094.5 L1993.2 3098.0 L1993.5 3099.7 L1994.5 3106.2 L1995.3 3111.4 L1995.5 3112.6 L1996.5 3118.7 L1997.5 3124.4 L1997.7 3125.5 L1998.5 3129.7 L1999.5 3134.6 L2000.4 3138.9 L2000.5 3139.4 L2001.5 3143.9 L2002.5 3148.3 L2003.4 3152.3 L2003.5 3152.7 L2004.5 3157.3 L2005.5 3161.8 L2006.4 3165.8 L2006.5 3166.2 L2007.5 3170.6 L2008.5 3174.9 L2009.4 3178.6 L2009.5 3179.0 L2010.5 3182.8 L2011.5 3186.4 L2012.5 3189.8 L2013.2 3192.1 L2013.5 3193.0 L2014.5 3196.0 L2015.5 3198.8 L2016.5 3201.4 L2017.5 3204.1 L2017.7 3204.6 L2018.5 3206.7 L2019.5 3209.3 L2020.5 3211.8 L2021.5 3214.3 L2022.5 3216.8 L2022.8 3217.5 L2023.5 3219.2 L2024.5 3221.7 L2025.5 3224.2 L2026.5 3226.5 L2027.5 3228.8 L2028.2 3230.3 L2028.5 3230.9 L2029.5 3232.9 L2030.5 3234.9 L2031.5 3236.8 L2032.5 3238.5 L2033.5 3240.3 L2034.5 3241.9 L2034.7 3242.2 L2035.5 3243.4 L2036.5 3245.0 L2037.5 3246.5 L2038.5 3247.9 L2039.5 3249.3 L2040.5 3250.5 L2041.5 3251.7 L2042.2 3252.4 L2042.5 3252.7 L2043.5 3253.6 L2044.5 3254.5 L2045.5 3255.3 L2046.5 3256.0 L2047.5 3256.8 L2048.5 3257.5 L2049.5 3258.1 L2050.5 3258.8 L2051.5 3259.5 L2052.1 3259.9 L2052.5 3260.2 L2053.5 3260.8 L2054.5 3261.5 L2055.5 3262.1 L2056.5 3262.8 L2057.5 3263.4 L2058.5 3264.0 L2059.5 3264.6 L2060.5 3265.2 L2061.5 3265.8 L2062.5 3266.4 L2063.5 3267.0 L2064.0 3267.3 L2064.5 3267.6 L2065.5 3268.2 L2066.5 3268.8 L2067.5 3269.4 L2068.5 3270.0 L2069.5 3270.6 L2070.5 3271.2 L2071.5 3271.8 L2072.5 3272.3 L2073.5 3272.8 L2074.5 3273.3 L2075.5 3273.8 L2076.5 3274.2 L2077.5 3274.7 L2078.5 3275.1 L2079.5 3275.6 L2080.5 3276.0 L2081.5 3276.3 L2082.5 3276.7 L2083.5 3276.9 L2084.5 3277.1 L2084.9 3277.2 L2085.5 3277.3 L2086.5 3277.4 L2087.5 3277.5 L2088.5 3277.6 L2089.5 3277.6 L2090.5 3277.7 L2091.5 3277.8 L2092.5 3277.8 L2093.5 3277.9 L2094.5 3278.0 L2095.4 3278.1 L2095.5 3278.1 L2096.5 3278.3 L2097.5 3278.4 L2098.5 3278.6 L2099.5 3278.9 L2100.5 3279.1 L2101.5 3279.4 L2102.5 3279.6 L2103.5 3279.8 L2104.5 3280.0 L2105.5 3280.1 L2106.5 3280.2 L2107.3 3280.2 L2107.5 3280.2 L2108.5 3280.0 L2109.5 3279.6 L2110.5 3279.1 L2111.5 3278.4 L2112.5 3277.8 L2113.5 3277.2 L2114.5 3276.7 L2114.8 3276.6 L2115.5 3276.3 L2116.5 3276.0 L2117.5 3275.6 L2118.5 3275.2 L2119.5 3274.8 L2120.5 3274.5 L2121.5 3274.2 L2122.5 3273.9 L2123.5 3273.7 L2124.5 3273.5 L2125.5 3273.4 L2126.5 3273.3 L2126.7 3273.3 L2127.5 3273.3 L2128.5 3273.3 L2129.5 3273.3 L2130.5 3273.4 L2131.5 3273.4 L2132.5 3273.4 L2133.5 3273.5 L2134.5 3273.5 L2135.5 3273.5 L2136.5 3273.6 L2137.5 3273.6 L2138.5 3273.6 L2138.7 3273.6 L2139.5 3273.6 L2140.5 3273.4 L2141.5 3273.1 L2142.5 3272.8 L2143.5 3272.3 L2144.5 3271.8 L2145.5 3271.3 L2146.5 3270.8 L2147.5 3270.3 L2148.5 3269.9 L2149.5 3269.5 L2150.5 3269.1 L2150.6 3269.1 L2151.5 3268.9 L2152.5 3268.6 L2153.5 3268.4 L2154.5 3268.1 L2155.5 3267.9 L2156.5 3267.7 L2157.5 3267.5 L2158.5 3267.3 L2159.5 3267.1 L2160.5 3266.8 L2161.1 3266.7 L2161.5 3266.6 L2162.5 3266.3 L2163.5 3266.0 L2164.5 3265.6 L2165.5 3265.3 L2166.5 3264.9 L2167.5 3264.6 L2168.5 3264.2 L2169.5 3263.9 L2170.5 3263.6 L2171.5 3263.4 L2172.5 3263.3 L2173.5 3263.2 L2173.9 3263.2 L2174.5 3263.2 L2175.5 3263.2 L2176.5 3263.2 L2177.5 3263.2 L2178.5 3263.2 L2179.5 3263.2 L2180.5 3263.2 L2181.5 3263.2 L2182.5 3263.2 L2183.5 3263.2 L2184.5 3263.2 L2185.5 3263.2 L2186.5 3263.2 L2187.5 3263.2 L2188.5 3263.2 L2189.5 3263.2 L2190.5 3263.2 L2191.5 3263.2 L2192.5 3263.2 L2193.5 3263.2 L2194.5 3263.2 L2195.5 3263.2 L2196.5 3263.2 L2197.5 3263.2 L2198.5 3263.2 L2199.3 3263.2 L2199.5 3263.2 L2200.5 3263.2 L2201.5 3263.2 L2202.5 3263.2 L2203.5 3263.2 L2204.5 3263.2 L2205.5 3263.2 L2206.5 3263.2 L2207.5 3263.2 L2208.5 3263.2 L2209.5 3263.2 L2210.5 3263.2 L2211.5 3263.2 L2212.5 3263.2 L2213.4 3263.2 L2213.5 3263.2 L2214.5 3263.3 L2215.5 3263.4 L2216.5 3263.6 L2217.5 3263.9 L2218.5 3264.2 L2219.5 3264.6 L2220.5 3264.9 L2221.5 3265.3 L2222.5 3265.6 L2223.2 3265.8 L2223.5 3265.9 L2224.5 3266.1 L2225.5 3266.4 L2226.5 3266.6 L2227.5 3266.9 L2228.5 3267.2 L2229.5 3267.4 L2230.5 3267.7 L2231.5 3268.0 L2232.5 3268.2 L2233.5 3268.5 L2234.3 3268.8 L2234.5 3268.9 L2235.5 3269.2 L2236.5 3269.6 L2237.5 3270.1 L2238.5 3270.6 L2239.5 3271.0 L2240.5 3271.5 L2241.5 3271.9 L2242.5 3272.4 L2243.5 3272.8 L2244.5 3273.1 L2245.3 3273.3 L2245.5 3273.3 L2246.5 3273.6 L2247.5 3273.8 L2248.5 3274.1 L2249.5 3274.3 L2250.5 3274.5 L2251.5 3274.7 L2252.5 3274.9 L2253.5 3275.1 L2254.5 3275.2 L2255.5 3275.4 L2256.5 3275.5 L2257.5 3275.6 L2258.5 3275.6 L2259.5 3275.7 L2259.7 3275.7" fill="none" stroke="#0000ff" stroke-width="7.5" stroke-linecap="round" stroke-dasharray="0.01 13.4" stroke-linejoin="round"/>
<path d="M1348.2 3452.2 L1576.0 3452.2 L1577.0 3452.2 L1578.0 3452.0 L1579.0 3451.9 L1580.0 3451.6 L1581.0 3451.3 L1582.0 3450.9 L1583.0 3450.4 L1584.0 3449.9 L1585.0 3449.3 L1585.7 3448.8 L1586.0 3448.5 L1587.0 3447.0 L1588.0 3444.5 L1589.0 3441.1 L1590.0 3436.9 L1591.0 3432.1 L1592.0 3426.6 L1592.2 3425.5 L1593.0 3419.6 L1594.0 3409.2 L1595.0 3395.9 L1596.0 3380.4 L1596.1 3378.7 L1597.0 3361.1 L1598.0 3335.5 L1598.7 3313.8 L1599.0 3303.0 L1600.0 3255.7 L1600.1 3250.0 L1601.0 3182.8 L1601.3 3157.9 L1602.0 3099.0 L1602.6 3044.8 L1603.0 3003.8 L1604.0 2893.3 L1604.5 2850.0 L1605.0 2817.7 L1606.0 2765.3 L1607.0 2720.0 L1608.0 2676.8 L1609.0 2637.2 L1610.0 2600.0 L1611.0 2565.3 L1612.0 2532.7 L1613.0 2500.0 L1614.0 2466.9 L1615.0 2433.9 L1616.0 2400.0 L1617.0 2365.0 L1618.0 2329.1 L1618.8 2300.0 L1619.0 2292.1 L1620.0 2244.2 L1621.0 2205.1 L1621.5 2198.7 L1622.0 2209.1 L1623.0 2267.9 L1623.5 2300.0 L1624.0 2331.6 L1625.0 2400.0 L1626.0 2462.8 L1626.6 2500.0 L1627.0 2524.2 L1628.0 2586.0 L1628.2 2600.0 L1629.0 2666.0 L1629.6 2720.0 L1630.0 2756.8 L1631.0 2850.0 L1632.0 2936.7 L1632.8 3000.0 L1633.0 3014.9 L1634.0 3080.0 L1635.0 3115.9 L1636.0 3143.5 L1636.5 3158.0 L1637.0 3173.6 L1638.0 3204.8 L1639.0 3236.0 L1640.0 3268.5 L1641.0 3300.2 L1641.5 3314.0 L1642.0 3326.6 L1643.0 3349.8 L1644.0 3370.1 L1644.5 3379.0 L1645.0 3387.4 L1646.0 3403.4 L1647.0 3415.3 L1647.3 3417.7 L1648.0 3422.3 L1649.0 3427.8 L1650.0 3431.4 L1650.6 3432.0 L1651.0 3431.8 L1652.0 3429.5 L1653.0 3425.5 L1654.0 3420.4 L1654.5 3417.7 L1655.0 3414.6 L1656.0 3406.2 L1657.0 3395.6 L1658.0 3383.7 L1658.4 3378.7 L1659.0 3370.5 L1660.0 3354.4 L1661.0 3336.6 L1662.0 3318.9 L1662.3 3313.8 L1663.0 3302.1 L1664.0 3285.5 L1665.0 3268.8 L1666.0 3252.1 L1666.2 3248.8 L1667.0 3235.2 L1668.0 3218.0 L1669.0 3201.2 L1670.0 3185.4 L1670.1 3183.9 L1671.0 3170.8 L1672.0 3157.0 L1673.0 3144.0 L1674.0 3131.9 L1675.0 3120.1 L1676.0 3108.9 L1677.0 3099.5 L1677.5 3096.0 L1678.0 3092.9 L1679.0 3087.1 L1680.0 3084.0 L1680.2 3083.9 L1681.0 3085.4 L1682.0 3090.4 L1683.0 3097.3 L1683.1 3098.0 L1684.0 3107.1 L1685.0 3121.4 L1685.7 3131.9 L1686.0 3136.4 L1687.0 3152.4 L1688.0 3169.7 L1688.8 3183.9 L1689.0 3187.5 L1690.0 3205.9 L1691.0 3225.1 L1692.0 3244.8 L1692.2 3248.8 L1693.0 3265.6 L1694.0 3287.7 L1695.0 3308.3 L1695.3 3313.8 L1696.0 3325.9 L1697.0 3342.1 L1698.0 3356.7 L1698.7 3365.7 L1699.0 3369.3 L1700.0 3380.8 L1701.0 3391.1 L1702.0 3400.1 L1702.6 3404.7 L1703.0 3407.5 L1704.0 3414.3 L1705.0 3420.5 L1706.0 3425.9 L1707.0 3430.4 L1707.8 3433.2 L1708.0 3433.8 L1709.0 3436.6 L1710.0 3439.2 L1711.0 3441.5 L1712.0 3443.4 L1713.0 3444.9 L1714.0 3446.0 L1714.3 3446.2 L1715.0 3446.7 L1716.0 3447.3 L1717.0 3447.8 L1718.0 3448.2 L1719.0 3448.6 L1720.0 3448.7 L1720.8 3448.8 L1721.0 3448.8 L1722.0 3448.6 L1723.0 3448.2 L1724.0 3447.6 L1725.0 3446.9 L1726.0 3446.1 L1727.0 3445.2 L1727.3 3444.9 L1728.0 3444.2 L1729.0 3442.8 L1730.0 3441.2 L1731.0 3439.3 L1732.0 3437.2 L1733.0 3435.0 L1733.8 3433.2 L1734.0 3432.7 L1735.0 3430.2 L1736.0 3427.2 L1737.0 3424.0 L1738.0 3420.7 L1739.0 3417.1 L1740.0 3413.6 L1740.3 3412.5 L1741.0 3410.0 L1742.0 3406.1 L1743.0 3402.2 L1744.0 3398.0 L1745.0 3393.8 L1745.5 3391.7 L1746.0 3389.5 L1747.0 3384.6 L1748.0 3379.5 L1749.0 3374.6 L1750.0 3370.3 L1750.6 3368.3 L1751.0 3367.1 L1752.0 3364.0 L1753.0 3361.0 L1754.0 3358.6 L1755.0 3357.0 L1755.8 3356.6 L1756.0 3356.6 L1757.0 3357.7 L1758.0 3360.0 L1759.0 3363.1 L1760.0 3366.6 L1760.5 3368.3 L1761.0 3370.2 L1762.0 3375.2 L1763.0 3381.0 L1764.0 3386.9 L1764.9 3391.7 L1765.0 3392.2 L1766.0 3397.2 L1767.0 3402.1 L1768.0 3406.8 L1769.0 3411.1 L1770.0 3414.8 L1770.1 3415.1 L1771.0 3417.9 L1772.0 3420.7 L1773.0 3423.3 L1774.0 3425.5 L1775.0 3427.5 L1775.3 3428.1 L1776.0 3429.3 L1777.0 3431.0 L1778.0 3432.6 L1779.0 3434.0 L1780.0 3435.3 L1781.0 3436.4 L1781.8 3437.1 L1782.0 3437.3 L1783.0 3438.1 L1784.0 3438.9 L1785.0 3439.7 L1786.0 3440.3 L1787.0 3440.8 L1788.0 3441.0 L1788.3 3441.0 L1789.0 3440.9 L1790.0 3440.3 L1791.0 3439.2 L1792.0 3437.9 L1793.0 3436.3 L1794.0 3434.6 L1794.8 3433.2 L1795.0 3432.8 L1796.0 3430.6 L1797.0 3427.9 L1798.0 3424.7 L1799.0 3421.1 L1800.0 3417.4 L1801.0 3413.6 L1801.3 3412.5 L1802.0 3409.7 L1803.0 3405.2 L1804.0 3400.4 L1805.0 3395.7 L1806.0 3391.2 L1806.5 3389.1 L1807.0 3387.1 L1808.0 3383.0 L1809.0 3379.0 L1810.0 3375.7 L1810.9 3373.5 L1811.0 3373.3 L1812.0 3371.4 L1813.0 3369.7 L1814.0 3368.6 L1814.8 3368.3 L1815.0 3368.3 L1816.0 3369.2 L1817.0 3371.0 L1818.0 3373.4 L1819.0 3376.1 L1820.0 3379.5 L1821.0 3384.2 L1822.0 3389.5 L1823.0 3394.8 L1823.4 3396.9 L1824.0 3400.0 L1825.0 3405.7 L1826.0 3411.4 L1827.0 3416.7 L1827.8 3420.3 L1828.0 3421.1 L1829.0 3425.1 L1830.0 3428.9 L1831.0 3432.2 L1832.0 3434.8 L1832.5 3435.8 L1833.0 3436.6 L1834.0 3438.2 L1835.0 3439.7 L1836.0 3440.8 L1837.0 3441.5 L1837.7 3441.6 L1838.0 3441.6 L1839.0 3441.1 L1840.0 3440.1 L1841.0 3438.7 L1842.0 3437.2 L1842.9 3435.8 L1843.0 3435.6 L1844.0 3433.7 L1845.0 3431.2 L1846.0 3428.4 L1847.0 3425.6 L1848.0 3423.1 L1848.1 3422.9 L1849.0 3420.8 L1850.0 3418.4 L1851.0 3416.0 L1852.0 3414.1 L1853.0 3412.7 L1853.2 3412.5 L1854.0 3411.8 L1855.0 3411.1 L1856.0 3410.4 L1857.0 3410.0 L1857.9 3409.9 L1858.0 3409.9 L1859.0 3410.3 L1860.0 3411.1 L1861.0 3412.3 L1862.0 3413.5 L1863.0 3414.6 L1863.6 3415.1 L1864.0 3415.4 L1865.0 3416.2 L1866.0 3417.0 L1867.0 3417.4 L1867.5 3417.5 L1868.0 3417.4 L1869.0 3416.9 L1870.0 3415.9 L1871.0 3414.5 L1871.4 3413.8 L1872.0 3412.0 L1873.0 3406.6 L1874.0 3399.5 L1875.0 3390.7 L1876.0 3379.4 L1877.0 3367.0 L1877.1 3365.7 L1878.0 3353.0 L1879.0 3337.2 L1880.0 3321.2 L1880.5 3313.8 L1881.0 3306.7 L1882.0 3292.6 L1883.0 3279.1 L1884.0 3266.5 L1884.4 3261.8 L1885.0 3255.0 L1886.0 3243.9 L1887.0 3233.8 L1888.0 3225.1 L1888.3 3222.9 L1889.0 3218.0 L1890.0 3211.6 L1891.0 3206.6 L1891.5 3205.0 L1892.0 3203.7 L1893.0 3201.4 L1894.0 3199.9 L1894.7 3199.5 L1895.0 3199.7 L1896.0 3203.2 L1897.0 3209.7 L1898.0 3217.4 L1898.2 3218.9 L1899.0 3226.5 L1900.0 3239.0 L1901.0 3252.3 L1901.2 3254.8 L1902.0 3264.8 L1903.0 3277.5 L1904.0 3290.8 L1904.2 3293.6 L1905.0 3305.7 L1906.0 3321.8 L1907.0 3336.0 L1907.2 3338.4 L1908.0 3347.2 L1909.0 3357.0 L1910.0 3364.3 L1910.2 3365.3 L1911.0 3369.0 L1912.0 3371.3 L1913.0 3369.8 L1914.0 3365.9 L1915.0 3360.6 L1916.0 3354.5 L1916.2 3353.3 L1917.0 3347.5 L1918.0 3338.2 L1919.0 3327.2 L1920.0 3315.5 L1920.6 3308.5 L1921.0 3303.7 L1922.0 3290.5 L1923.0 3276.4 L1924.0 3262.6 L1925.0 3249.9 L1925.1 3248.8 L1926.0 3238.6 L1927.0 3227.5 L1928.0 3217.3 L1929.0 3208.4 L1929.6 3204.0 L1930.0 3201.3 L1931.0 3194.3 L1932.0 3187.6 L1933.0 3181.8 L1934.0 3177.2 L1935.0 3174.6 L1935.6 3174.1 L1936.0 3174.4 L1937.0 3177.1 L1938.0 3182.0 L1939.0 3188.0 L1940.0 3194.4 L1940.1 3195.0 L1941.0 3201.3 L1942.0 3209.9 L1943.0 3219.4 L1944.0 3229.1 L1944.5 3233.9 L1945.0 3238.7 L1946.0 3248.7 L1947.0 3258.9 L1948.0 3269.1 L1949.0 3278.7 L1950.0 3288.0 L1951.0 3297.1 L1952.0 3305.8 L1953.0 3313.8 L1953.5 3317.5 L1954.0 3321.0 L1955.0 3328.0 L1956.0 3334.4 L1957.0 3340.0 L1958.0 3344.4 L1959.0 3347.9 L1960.0 3350.9 L1961.0 3353.4 L1962.0 3355.5 L1962.5 3356.3 L1963.0 3357.0 L1964.0 3358.2 L1965.0 3359.2 L1966.0 3360.1 L1967.0 3361.0 L1968.0 3361.9 L1968.4 3362.3 L1969.0 3362.9 L1970.0 3363.8 L1971.0 3364.6 L1972.0 3365.5 L1973.0 3366.5 L1974.0 3367.7 L1974.4 3368.3 L1975.0 3369.3 L1976.0 3371.6 L1977.0 3374.3 L1978.0 3377.3 L1978.9 3380.2 L1979.0 3380.5 L1980.0 3384.1 L1981.0 3388.1 L1982.0 3392.3 L1983.0 3396.6 L1983.4 3398.2 L1984.0 3400.7 L1985.0 3404.8 L1986.0 3409.0 L1987.0 3413.1 L1987.8 3416.1 L1988.0 3416.8 L1989.0 3420.5 L1990.0 3424.0 L1991.0 3427.3 L1992.0 3430.2 L1992.3 3431.0 L1993.0 3432.7 L1994.0 3435.2 L1995.0 3437.3 L1996.0 3439.0 L1996.8 3440.0 L1997.0 3440.2 L1998.0 3441.1 L1999.0 3441.9 L2000.0 3442.6 L2001.0 3443.1 L2002.0 3443.4 L2002.8 3443.5 L2003.0 3443.5 L2004.0 3443.4 L2005.0 3443.1 L2006.0 3442.8 L2007.0 3442.3 L2008.0 3441.9 L2008.8 3441.5 L2009.0 3441.4 L2010.0 3440.8 L2011.0 3440.0 L2012.0 3439.1 L2013.0 3438.3 L2014.0 3437.5 L2014.7 3437.0 L2015.0 3436.8 L2016.0 3436.2 L2017.0 3435.5 L2018.0 3434.9 L2019.0 3434.4 L2020.0 3434.1 L2020.7 3434.0 L2021.0 3434.0 L2022.0 3434.2 L2023.0 3434.6 L2024.0 3435.1 L2025.0 3435.8 L2026.0 3436.5 L2026.7 3437.0 L2027.0 3437.2 L2028.0 3438.3 L2029.0 3439.7 L2030.0 3441.2 L2031.0 3442.7 L2032.0 3443.9 L2032.7 3444.5 L2033.0 3444.7 L2034.0 3445.4 L2035.0 3446.0 L2036.0 3446.6 L2037.0 3447.2 L2038.0 3447.7 L2039.0 3448.2 L2040.0 3448.6 L2041.0 3448.9 L2042.0 3449.2 L2043.0 3449.5 L2043.1 3449.5 L2044.0 3449.7 L2045.0 3449.9 L2046.0 3450.1 L2047.0 3450.3 L2048.0 3450.5 L2049.0 3450.7 L2050.0 3450.9 L2051.0 3451.0 L2052.0 3451.2 L2053.0 3451.3 L2054.0 3451.5 L2055.0 3451.6 L2056.0 3451.7 L2057.0 3451.8 L2058.0 3451.9 L2059.0 3452.0 L2060.0 3452.1 L2061.0 3452.1 L2062.0 3452.2 L2063.0 3452.2 L2064.0 3452.2 L2271.0 3452.2" fill="none" stroke="#ff0000" stroke-width="7.7" stroke-linejoin="round"/>
<path d="M1348.2 3452.2 L1580.5 3452.2 L1581.5 3452.0 L1582.5 3451.4 L1583.5 3450.4 L1584.5 3449.1 L1585.5 3447.5 L1586.5 3445.6 L1587.5 3443.5 L1588.5 3441.2 L1589.5 3438.7 L1589.6 3438.4 L1590.5 3435.3 L1591.5 3430.3 L1592.5 3423.9 L1593.5 3416.2 L1594.5 3407.5 L1594.8 3404.7 L1595.5 3396.9 L1596.5 3382.2 L1597.5 3365.2 L1598.2 3352.7 L1598.5 3347.3 L1599.5 3328.1 L1600.5 3306.7 L1601.3 3287.8 L1601.5 3282.7 L1602.5 3253.7 L1603.5 3222.2 L1603.9 3209.9 L1604.5 3191.7 L1605.5 3161.3 L1606.5 3131.9 L1607.5 3104.5 L1608.5 3078.0 L1608.8 3070.0 L1609.5 3051.0 L1610.5 3024.3 L1611.0 3012.0 L1611.5 3000.3 L1612.5 2978.1 L1613.5 2958.8 L1613.6 2957.1 L1614.5 2941.0 L1615.5 2923.2 L1616.5 2909.2 L1617.5 2902.9 L1617.6 2902.8 L1618.5 2906.5 L1619.5 2917.8 L1620.5 2933.8 L1621.5 2951.8 L1621.8 2957.1 L1622.5 2971.4 L1623.5 2997.3 L1624.0 3012.0 L1624.5 3028.9 L1625.5 3068.2 L1625.8 3080.0 L1626.5 3107.9 L1627.5 3147.3 L1627.8 3157.9 L1628.5 3180.9 L1629.5 3211.1 L1630.4 3235.8 L1630.5 3238.4 L1631.5 3263.5 L1632.5 3286.7 L1633.5 3307.9 L1633.8 3313.8 L1634.5 3327.2 L1635.5 3345.3 L1636.5 3361.8 L1637.5 3376.1 L1637.7 3378.7 L1638.5 3388.4 L1639.5 3399.4 L1640.5 3409.0 L1641.5 3417.0 L1641.6 3417.7 L1642.5 3423.8 L1643.5 3430.0 L1644.5 3435.1 L1645.5 3438.4 L1646.5 3440.6 L1647.5 3442.5 L1648.5 3443.9 L1649.5 3444.8 L1650.1 3444.9 L1650.5 3444.8 L1651.5 3444.1 L1652.5 3442.8 L1653.5 3441.0 L1654.5 3438.8 L1655.5 3436.5 L1655.8 3435.8 L1656.5 3433.9 L1657.5 3430.2 L1658.5 3425.8 L1659.5 3420.7 L1660.5 3415.3 L1661.0 3412.5 L1661.5 3409.5 L1662.5 3402.9 L1663.5 3395.4 L1664.5 3387.4 L1665.5 3379.2 L1666.2 3373.5 L1666.5 3371.0 L1667.5 3362.4 L1668.5 3353.5 L1669.5 3344.7 L1670.1 3339.7 L1670.5 3336.4 L1671.5 3327.8 L1672.5 3319.8 L1673.5 3313.8 L1674.5 3309.4 L1675.5 3305.7 L1676.5 3303.5 L1676.6 3303.4 L1677.5 3302.5 L1678.5 3301.8 L1679.5 3301.3 L1680.5 3300.9 L1681.5 3300.5 L1682.5 3299.9 L1683.1 3299.5 L1683.5 3299.2 L1684.5 3298.5 L1685.5 3297.8 L1686.5 3296.8 L1687.5 3295.6 L1688.3 3294.3 L1688.5 3293.9 L1689.5 3289.6 L1690.5 3283.0 L1690.9 3280.0 L1691.5 3274.7 L1692.5 3263.0 L1693.5 3248.8 L1694.5 3231.6 L1695.5 3210.8 L1696.1 3196.9 L1696.5 3186.6 L1697.5 3157.1 L1697.9 3144.9 L1698.5 3126.9 L1699.5 3095.3 L1699.8 3085.0 L1700.5 3057.3 L1701.5 3016.0 L1701.6 3012.3 L1702.5 2980.3 L1703.5 2950.0 L1704.5 2926.8 L1705.5 2907.0 L1706.3 2892.2 L1706.5 2888.4 L1707.5 2867.0 L1708.5 2845.6 L1709.5 2829.6 L1710.4 2824.0 L1710.5 2824.1 L1711.5 2832.0 L1712.5 2849.4 L1713.5 2871.2 L1714.5 2892.2 L1715.5 2912.8 L1716.5 2935.2 L1717.5 2957.1 L1718.5 2977.6 L1719.5 2997.7 L1720.2 3012.0 L1720.5 3018.3 L1721.5 3040.0 L1722.5 3061.0 L1723.5 3080.8 L1724.5 3099.5 L1725.1 3109.7 L1725.5 3116.5 L1726.5 3134.9 L1727.5 3148.7 L1728.1 3151.5 L1728.5 3151.1 L1729.5 3147.2 L1730.5 3140.5 L1731.5 3132.4 L1732.3 3126.0 L1732.5 3124.4 L1733.5 3115.3 L1734.5 3104.7 L1735.5 3093.6 L1736.5 3083.0 L1737.1 3077.3 L1737.5 3073.7 L1738.5 3064.4 L1739.5 3055.4 L1740.5 3047.3 L1741.5 3040.8 L1742.0 3038.3 L1742.5 3036.1 L1743.5 3031.9 L1744.5 3028.0 L1745.5 3024.7 L1746.5 3022.2 L1747.5 3020.8 L1748.1 3020.5 L1748.5 3020.6 L1749.5 3022.1 L1750.5 3025.0 L1751.5 3028.7 L1752.5 3033.2 L1753.5 3037.8 L1753.6 3038.3 L1754.5 3043.4 L1755.5 3050.9 L1756.5 3059.6 L1757.5 3068.9 L1758.4 3077.3 L1758.5 3078.2 L1759.5 3087.6 L1760.5 3097.4 L1761.5 3107.9 L1762.5 3119.4 L1763.2 3128.0 L1763.5 3132.0 L1764.5 3146.7 L1765.5 3163.1 L1766.5 3180.1 L1767.5 3196.9 L1768.5 3213.4 L1769.5 3230.0 L1770.5 3246.8 L1771.4 3261.8 L1771.5 3263.5 L1772.5 3280.5 L1773.5 3297.8 L1774.5 3314.4 L1775.3 3326.8 L1775.5 3329.8 L1776.5 3344.3 L1777.5 3358.2 L1778.5 3370.9 L1779.2 3378.7 L1779.5 3381.8 L1780.5 3391.7 L1781.5 3400.6 L1782.5 3408.4 L1783.1 3412.5 L1783.5 3415.0 L1784.5 3421.3 L1785.5 3427.0 L1786.5 3431.7 L1787.5 3435.1 L1787.8 3435.8 L1788.5 3437.2 L1789.5 3439.0 L1790.5 3440.5 L1791.5 3441.6 L1792.5 3442.2 L1793.0 3442.3 L1793.5 3442.2 L1794.5 3441.6 L1795.5 3440.6 L1796.5 3439.2 L1797.5 3437.7 L1798.5 3436.1 L1798.7 3435.8 L1799.5 3434.4 L1800.5 3432.3 L1801.5 3429.8 L1802.5 3427.2 L1803.5 3424.6 L1804.5 3422.0 L1805.2 3420.3 L1805.5 3419.6 L1806.5 3417.0 L1807.5 3414.4 L1808.5 3411.9 L1809.5 3409.8 L1810.4 3408.6 L1810.5 3408.5 L1811.5 3407.5 L1812.5 3406.7 L1813.5 3406.2 L1814.3 3406.0 L1814.5 3406.0 L1815.5 3406.5 L1816.5 3407.5 L1817.5 3408.9 L1818.5 3410.4 L1819.0 3411.2 L1819.5 3412.0 L1820.5 3414.1 L1821.5 3416.5 L1822.5 3419.0 L1823.5 3421.5 L1824.5 3423.8 L1824.7 3424.2 L1825.5 3425.8 L1826.5 3427.8 L1827.5 3429.8 L1828.5 3431.5 L1829.5 3432.8 L1829.9 3433.2 L1830.5 3433.7 L1831.5 3434.6 L1832.5 3435.4 L1833.5 3436.0 L1834.5 3436.3 L1835.1 3436.4 L1835.5 3436.3 L1836.5 3435.6 L1837.5 3434.1 L1838.5 3432.2 L1839.5 3430.0 L1840.3 3428.1 L1840.5 3427.6 L1841.5 3424.6 L1842.5 3420.7 L1843.5 3416.1 L1844.5 3410.7 L1845.5 3404.7 L1846.5 3397.2 L1847.5 3387.6 L1848.5 3376.6 L1849.4 3365.7 L1849.5 3364.4 L1850.5 3350.2 L1851.5 3333.7 L1851.9 3326.8 L1852.5 3315.6 L1853.5 3295.2 L1854.5 3274.8 L1855.5 3255.4 L1856.5 3236.2 L1857.5 3217.4 L1857.9 3209.9 L1858.5 3198.9 L1859.5 3181.0 L1860.5 3163.2 L1861.5 3144.9 L1862.5 3124.4 L1863.5 3103.3 L1864.5 3085.9 L1864.6 3084.5 L1865.5 3073.3 L1866.5 3062.6 L1867.5 3053.5 L1868.5 3046.0 L1869.5 3038.9 L1870.5 3032.3 L1871.5 3027.4 L1872.4 3025.8 L1872.5 3025.8 L1873.5 3028.2 L1874.5 3033.7 L1875.5 3041.1 L1876.5 3049.2 L1876.6 3050.0 L1877.5 3058.2 L1878.5 3069.9 L1879.5 3084.5 L1880.5 3107.0 L1881.5 3133.6 L1882.0 3144.3 L1882.5 3152.9 L1883.5 3168.1 L1884.5 3181.4 L1885.5 3194.0 L1886.5 3207.0 L1887.5 3220.7 L1888.5 3234.5 L1889.5 3247.8 L1890.5 3260.2 L1890.8 3263.7 L1891.5 3271.4 L1892.5 3281.8 L1893.5 3291.6 L1894.5 3301.0 L1895.3 3308.5 L1895.5 3310.4 L1896.5 3319.7 L1897.5 3328.9 L1898.5 3337.7 L1899.5 3345.9 L1899.7 3347.4 L1900.5 3353.4 L1901.5 3360.5 L1902.5 3367.1 L1903.5 3373.3 L1904.2 3377.2 L1904.5 3378.8 L1905.5 3384.4 L1906.5 3389.6 L1907.5 3393.7 L1908.1 3395.2 L1908.5 3396.0 L1909.5 3397.7 L1910.5 3399.0 L1911.5 3399.6 L1911.7 3399.6 L1912.5 3399.0 L1913.5 3396.8 L1914.5 3393.4 L1915.5 3389.3 L1916.2 3386.2 L1916.5 3384.7 L1917.5 3378.0 L1918.5 3369.1 L1919.5 3358.8 L1920.0 3353.3 L1920.5 3347.3 L1921.5 3333.1 L1922.5 3317.0 L1923.0 3308.5 L1923.5 3299.5 L1924.5 3279.7 L1925.5 3258.9 L1926.0 3248.8 L1926.5 3238.5 L1927.5 3217.1 L1928.5 3197.3 L1929.0 3189.1 L1929.5 3181.8 L1930.5 3168.5 L1931.5 3157.6 L1932.0 3153.2 L1932.5 3149.2 L1933.5 3141.4 L1934.5 3134.7 L1935.5 3130.3 L1936.2 3129.3 L1936.5 3129.5 L1937.5 3133.0 L1938.5 3139.6 L1939.5 3147.9 L1940.1 3153.2 L1940.5 3157.3 L1941.5 3171.0 L1942.5 3187.1 L1943.0 3195.0 L1943.5 3202.8 L1944.5 3219.0 L1945.5 3235.1 L1946.0 3242.8 L1946.5 3250.4 L1947.5 3265.5 L1948.5 3279.0 L1949.0 3284.6 L1949.5 3289.6 L1950.5 3298.9 L1951.5 3306.1 L1952.0 3308.5 L1952.5 3310.4 L1953.5 3313.7 L1954.5 3315.7 L1955.0 3316.0 L1955.5 3315.5 L1956.5 3311.9 L1957.5 3306.0 L1958.5 3299.3 L1958.9 3296.6 L1959.5 3292.1 L1960.5 3282.9 L1961.5 3272.8 L1962.5 3263.7 L1963.5 3255.3 L1964.5 3247.6 L1965.4 3242.8 L1965.5 3242.4 L1966.5 3239.0 L1967.5 3235.9 L1968.5 3233.7 L1969.5 3232.5 L1969.9 3232.4 L1970.5 3232.6 L1971.5 3234.0 L1972.5 3236.3 L1973.5 3239.5 L1974.4 3242.8 L1974.5 3243.2 L1975.5 3251.1 L1976.5 3262.6 L1977.4 3272.7 L1977.5 3273.7 L1978.5 3284.2 L1979.5 3294.9 L1980.5 3304.5 L1981.0 3308.5 L1981.5 3312.3 L1982.5 3319.7 L1983.5 3325.1 L1984.0 3326.5 L1984.5 3327.2 L1985.5 3328.4 L1986.5 3329.2 L1987.3 3329.4 L1987.5 3329.4 L1988.5 3328.0 L1989.5 3325.1 L1990.5 3321.3 L1991.4 3317.5 L1991.5 3317.1 L1992.5 3310.6 L1993.5 3302.0 L1994.5 3293.2 L1995.3 3287.6 L1995.5 3286.4 L1996.5 3280.7 L1997.5 3275.3 L1998.5 3270.7 L1999.5 3267.4 L1999.8 3266.7 L2000.5 3265.3 L2001.5 3263.4 L2002.5 3262.1 L2003.5 3261.4 L2003.7 3261.4 L2004.5 3261.6 L2005.5 3262.6 L2006.5 3264.0 L2007.5 3265.9 L2007.9 3266.7 L2008.5 3268.5 L2009.5 3273.3 L2010.5 3279.6 L2011.5 3286.3 L2011.7 3287.6 L2012.5 3293.1 L2013.5 3300.9 L2014.5 3309.1 L2015.5 3317.6 L2016.2 3323.5 L2016.5 3326.0 L2017.5 3334.6 L2018.5 3343.3 L2019.5 3352.1 L2020.5 3360.6 L2020.7 3362.3 L2021.5 3369.0 L2022.5 3377.4 L2023.5 3385.5 L2024.5 3393.2 L2025.2 3398.2 L2025.5 3400.2 L2026.5 3406.9 L2027.5 3413.2 L2028.5 3419.0 L2029.5 3424.1 L2029.7 3425.0 L2030.5 3428.6 L2031.5 3432.9 L2032.5 3436.8 L2033.5 3439.9 L2034.2 3441.5 L2034.5 3442.1 L2035.5 3443.8 L2036.5 3445.3 L2037.5 3446.6 L2038.5 3447.7 L2039.5 3448.5 L2040.1 3448.9 L2040.5 3449.1 L2041.5 3449.7 L2042.5 3450.2 L2043.5 3450.7 L2044.5 3451.2 L2045.5 3451.5 L2046.5 3451.8 L2047.5 3452.1 L2048.5 3452.2 L2049.1 3452.2 L2271.0 3452.2" fill="none" stroke="#0000ff" stroke-width="7.7" stroke-linejoin="round"/>
</g>
<rect x="1348.2" y="1949.8" width="922.8" height="1515.3999999999999" fill="none" stroke="#4d4d4d" stroke-width="2.2"/>
<line x1="1321.2" y1="2200" x2="1348.2" y2="2200" stroke="#4d4d4d" stroke-width="2.2"/>
<line x1="1321.2" y1="2513" x2="1348.2" y2="2513" stroke="#4d4d4d" stroke-width="2.2"/>
<line x1="1321.2" y1="2826" x2="1348.2" y2="2826" stroke="#4d4d4d" stroke-width="2.2"/>
<line x1="1321.2" y1="3139" x2="1348.2" y2="3139" stroke="#4d4d4d" stroke-width="2.2"/>
<line x1="1321.2" y1="3452.2" x2="1348.2" y2="3452.2" stroke="#4d4d4d" stroke-width="2.2"/>
<line x1="1348.2" y1="3465.2" x2="1348.2" y2="3479.2" stroke="#4d4d4d" stroke-width="2.2"/>
<line x1="1463.5" y1="3465.2" x2="1463.5" y2="3493.2" stroke="#4d4d4d" stroke-width="2.2"/>
<text x="1463.5" y="3562.2" font-size="62.8" letter-spacing="-1.3" text-anchor="middle" font-family="Liberation Sans, Arial, Helvetica, sans-serif">700</text>
<line x1="1578.9" y1="3465.2" x2="1578.9" y2="3479.2" stroke="#4d4d4d" stroke-width="2.2"/>
<line x1="1694.2" y1="3465.2" x2="1694.2" y2="3493.2" stroke="#4d4d4d" stroke-width="2.2"/>
<text x="1694.2" y="3562.2" font-size="62.8" letter-spacing="-1.3" text-anchor="middle" font-family="Liberation Sans, Arial, Helvetica, sans-serif">710</text>
<line x1="1809.6" y1="3465.2" x2="1809.6" y2="3479.2" stroke="#4d4d4d" stroke-width="2.2"/>
<line x1="1925.0" y1="3465.2" x2="1925.0" y2="3493.2" stroke="#4d4d4d" stroke-width="2.2"/>
<text x="1925.0" y="3562.2" font-size="62.8" letter-spacing="-1.3" text-anchor="middle" font-family="Liberation Sans, Arial, Helvetica, sans-serif">720</text>
<line x1="2040.3" y1="3465.2" x2="2040.3" y2="3479.2" stroke="#4d4d4d" stroke-width="2.2"/>
<line x1="2155.7" y1="3465.2" x2="2155.7" y2="3493.2" stroke="#4d4d4d" stroke-width="2.2"/>
<text x="2155.7" y="3562.2" font-size="62.8" letter-spacing="-1.3" text-anchor="middle" font-family="Liberation Sans, Arial, Helvetica, sans-serif">730</text>
<line x1="2271.0" y1="3465.2" x2="2271.0" y2="3479.2" stroke="#4d4d4d" stroke-width="2.2"/>
<text x="1811.1" y="3677.5" font-size="65.5" letter-spacing="1.25" text-anchor="middle" font-family="Liberation Sans, Arial, Helvetica, sans-serif">Excitation Energy (eV)</text>
<text transform="translate(1262.7,2706.7) rotate(-90) scale(1,1.09)" font-size="65.5" letter-spacing="1.15" text-anchor="middle" font-family="Liberation Sans, Arial, Helvetica, sans-serif">Intensity</text>
<text x="1364.9" y="2033.8" font-size="75" letter-spacing="2.0" font-family="Liberation Sans, Arial, Helvetica, sans-serif">(d)</text>
<text x="2237.9" y="2052.0" font-size="75.5" letter-spacing="1.5" text-anchor="end" font-family="Liberation Sans, Arial, Helvetica, sans-serif">FePc</text>
<text x="1588.1" y="2160.8" font-size="76" font-family="Liberation Sans, Arial, Helvetica, sans-serif">L</text>
<text x="1630.4" y="2129.3" font-size="49" font-family="Liberation Sans, Arial, Helvetica, sans-serif">1</text>
<text x="1630.4" y="2181.5" font-size="49" font-family="Liberation Sans, Arial, Helvetica, sans-serif">3</text>
<text x="1550.6" y="2129.3" font-size="47" fill="#333" font-family="DejaVu Sans, sans-serif">&#8869;</text>
<text x="1677.9" y="2744.5" font-size="76" font-family="Liberation Sans, Arial, Helvetica, sans-serif">L</text>
<text x="1720.2" y="2713.0" font-size="49" font-family="Liberation Sans, Arial, Helvetica, sans-serif">2</text>
<text x="1720.2" y="2765.2" font-size="49" font-family="Liberation Sans, Arial, Helvetica, sans-serif">3</text>
<text x="1649.9" y="2713.0" font-size="49" font-family="Liberation Sans, Arial, Helvetica, sans-serif">II</text>
<text x="1506.3" y="2892.2" font-size="76" font-family="Liberation Sans, Arial, Helvetica, sans-serif">L</text>
<text x="1548.6" y="2860.7" font-size="49" font-family="Liberation Sans, Arial, Helvetica, sans-serif">1</text>
<text x="1548.6" y="2912.9" font-size="49" font-family="Liberation Sans, Arial, Helvetica, sans-serif">3</text>
<text x="1478.3" y="2860.7" font-size="49" font-family="Liberation Sans, Arial, Helvetica, sans-serif">II</text>
<text x="1769.0" y="2974.7" font-size="76" font-family="Liberation Sans, Arial, Helvetica, sans-serif">L</text>
<text x="1811.3" y="2943.2" font-size="49" font-family="Liberation Sans, Arial, Helvetica, sans-serif">3</text>
<text x="1811.3" y="2995.4" font-size="49" font-family="Liberation Sans, Arial, Helvetica, sans-serif">3</text>
<text x="1741.0" y="2943.2" font-size="49" font-family="Liberation Sans, Arial, Helvetica, sans-serif">II</text>
<text x="1928.9" y="2895.5" font-size="76" font-family="Liberation Sans, Arial, Helvetica, sans-serif">L</text>
<text x="1971.2" y="2916.2" font-size="49" font-family="Liberation Sans, Arial, Helvetica, sans-serif">2</text>
<text x="1420.0" y="3027.0" font-size="76" font-family="Liberation Sans, Arial, Helvetica, sans-serif">L</text>
<text x="1462.3" y="2995.5" font-size="49" font-family="Liberation Sans, Arial, Helvetica, sans-serif">2</text>
<text x="1462.3" y="3047.7" font-size="49" font-family="Liberation Sans, Arial, Helvetica, sans-serif">3</text>
<text x="1382.5" y="2995.5" font-size="47" fill="#333" font-family="DejaVu Sans, sans-serif">&#8869;</text>
<line x1="1512.5" y1="3051.3" x2="1625.2" y2="3092.1" stroke="#000" stroke-width="7"/>
<polygon points="1672.2,3109.1 1621.1,3103.4 1629.3,3080.8" fill="#000"/>
</g>
</svg>
</body></html>
